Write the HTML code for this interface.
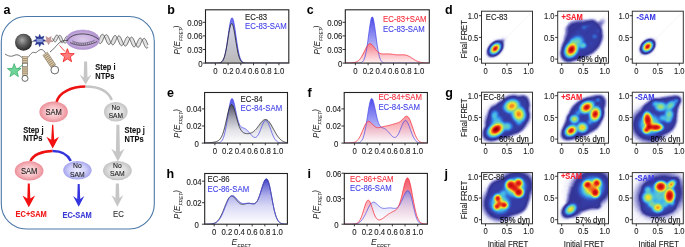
<!DOCTYPE html><html><head><meta charset="utf-8"><title>fig</title><style>html,body{margin:0;padding:0;background:#fff;overflow:hidden}svg{display:block;will-change:transform;font-family:"Liberation Sans",sans-serif}</style></head><body>
<svg width="685" height="247" viewBox="0 0 685 247">
<defs>
<filter id="jet" filterUnits="userSpaceOnUse" x="0" y="0" width="685" height="247" color-interpolation-filters="sRGB"><feGaussianBlur stdDeviation="0.9" result="b"/><feComponentTransfer in="b"><feFuncR type="table" tableValues="1.000 0.970 0.940 0.846 0.723 0.600 0.496 0.405 0.315 0.224 0.201 0.203 0.204 0.206 0.208 0.209 0.209 0.207 0.206 0.204 0.203 0.201 0.204 0.213 0.223 0.233 0.243 0.252 0.265 0.293 0.320 0.348 0.375 0.402 0.430 0.459 0.493 0.527 0.561 0.595 0.629 0.663 0.706 0.750 0.793 0.836 0.879 0.922 0.960 0.960 0.960 0.960 0.960 0.960 0.960 0.960 0.960 0.960 0.954 0.948 0.941 0.935 0.929 0.922 0.916 0.909 0.903 0.883 0.854 0.825 0.795 0.766 0.737 0.705 0.668 0.631 0.595 0.558 0.550 0.550 0.550 0.550 0.550 0.550 0.550 0.550 0.550 0.550 0.550 0.550 0.550 0.550 0.550 0.550 0.550 0.550 0.550 0.550 0.550 0.550"/><feFuncG type="table" tableValues="1.000 0.970 0.940 0.846 0.723 0.600 0.496 0.405 0.315 0.224 0.205 0.211 0.218 0.224 0.231 0.237 0.258 0.290 0.323 0.355 0.388 0.420 0.457 0.502 0.548 0.593 0.638 0.684 0.723 0.739 0.755 0.771 0.786 0.802 0.818 0.832 0.838 0.845 0.851 0.858 0.864 0.870 0.875 0.879 0.883 0.888 0.892 0.896 0.895 0.851 0.808 0.765 0.722 0.679 0.636 0.592 0.549 0.506 0.465 0.424 0.383 0.342 0.301 0.260 0.219 0.178 0.137 0.110 0.094 0.078 0.062 0.046 0.029 0.018 0.014 0.010 0.005 0.001 0.000 0.000 0.000 0.000 0.000 0.000 0.000 0.000 0.000 0.000 0.000 0.000 0.000 0.000 0.000 0.000 0.000 0.000 0.000 0.000 0.000 0.000"/><feFuncB type="table" tableValues="1.000 0.991 0.983 0.945 0.893 0.841 0.783 0.721 0.659 0.597 0.588 0.600 0.611 0.622 0.634 0.645 0.669 0.703 0.737 0.771 0.805 0.839 0.864 0.873 0.883 0.893 0.903 0.912 0.914 0.882 0.850 0.819 0.787 0.755 0.724 0.688 0.639 0.591 0.542 0.494 0.445 0.398 0.369 0.340 0.312 0.283 0.254 0.225 0.199 0.190 0.182 0.173 0.164 0.156 0.147 0.138 0.130 0.121 0.118 0.116 0.114 0.112 0.110 0.107 0.105 0.103 0.101 0.092 0.079 0.066 0.053 0.041 0.028 0.018 0.014 0.010 0.005 0.001 0.000 0.000 0.000 0.000 0.000 0.000 0.000 0.000 0.000 0.000 0.000 0.000 0.000 0.000 0.000 0.000 0.000 0.000 0.000 0.000 0.000 0.000"/></feComponentTransfer></filter>
<radialGradient id="gs"><stop offset="0.00" stop-color="#fff" stop-opacity="1.000"/><stop offset="0.16" stop-color="#fff" stop-opacity="0.950"/><stop offset="0.29" stop-color="#fff" stop-opacity="0.860"/><stop offset="0.36" stop-color="#fff" stop-opacity="0.770"/><stop offset="0.43" stop-color="#fff" stop-opacity="0.670"/><stop offset="0.50" stop-color="#fff" stop-opacity="0.580"/><stop offset="0.60" stop-color="#fff" stop-opacity="0.490"/><stop offset="0.69" stop-color="#fff" stop-opacity="0.410"/><stop offset="0.80" stop-color="#fff" stop-opacity="0.290"/><stop offset="0.87" stop-color="#fff" stop-opacity="0.180"/><stop offset="0.93" stop-color="#fff" stop-opacity="0.090"/><stop offset="1.00" stop-color="#fff" stop-opacity="0.000"/></radialGradient>
</defs>
<text x="3.60" y="13.80" font-size="12.50" fill="#000" text-anchor="start" font-weight="bold" >a</text>
<text x="167.20" y="13.80" font-size="12.50" fill="#000" text-anchor="start" font-weight="bold" >b</text>
<text x="306.80" y="13.80" font-size="12.50" fill="#000" text-anchor="start" font-weight="bold" >c</text>
<text x="445.00" y="13.50" font-size="12.50" fill="#000" text-anchor="start" font-weight="bold" >d</text>
<text x="167.00" y="97.00" font-size="12.50" fill="#000" text-anchor="start" font-weight="bold" >e</text>
<text x="307.40" y="96.80" font-size="12.50" fill="#000" text-anchor="start" font-weight="bold" >f</text>
<text x="445.30" y="96.80" font-size="12.50" fill="#000" text-anchor="start" font-weight="bold" >g</text>
<text x="166.60" y="177.60" font-size="12.50" fill="#000" text-anchor="start" font-weight="bold" >h</text>
<text x="307.40" y="177.70" font-size="12.50" fill="#000" text-anchor="start" font-weight="bold" >i</text>
<text x="444.50" y="177.50" font-size="12.50" fill="#000" text-anchor="start" font-weight="bold" >j</text>
<rect x="1.3" y="16.5" width="153" height="212.5" rx="25" ry="25" fill="none" stroke="#4c78a8" stroke-width="1.1"/>
<defs><radialGradient id="sph" cx="0.42" cy="0.38" r="0.62"><stop offset="0" stop-color="#a8a8a8"/><stop offset="0.55" stop-color="#5a5a5a"/><stop offset="1" stop-color="#2a2a2a"/></radialGradient><radialGradient id="pinkE" cx="0.5" cy="0.5" r="0.5"><stop offset="0" stop-color="#fce6e8"/><stop offset="0.6" stop-color="#f6bcc2"/><stop offset="1" stop-color="#ec8f99"/></radialGradient><radialGradient id="grayE" cx="0.5" cy="0.5" r="0.5"><stop offset="0" stop-color="#f0f0f0"/><stop offset="0.6" stop-color="#dedede"/><stop offset="1" stop-color="#c2c2c2"/></radialGradient><radialGradient id="blueE" cx="0.5" cy="0.5" r="0.5"><stop offset="0" stop-color="#ececff"/><stop offset="0.6" stop-color="#cfcff9"/><stop offset="1" stop-color="#a4a4ee"/></radialGradient><radialGradient id="rnap" cx="0.5" cy="0.5" r="0.5"><stop offset="0" stop-color="#dccbea"/><stop offset="0.7" stop-color="#c7addf"/><stop offset="1" stop-color="#ad8dcf"/></radialGradient></defs>
<path d="M97.00,38.50 L97.43,39.56 L97.86,40.57 L98.29,41.50 L98.71,42.29 L99.14,42.92 L99.57,43.35 L100.00,43.58 L100.43,43.59 L100.86,43.38 L101.29,42.97 L101.71,42.37 L102.14,41.62 L102.57,40.75 L103.00,39.80 L103.43,38.82 L103.86,37.86 L104.29,36.95 L104.71,36.14 L105.14,35.48 L105.57,34.99 L106.00,34.70 L106.43,34.62 L106.86,34.76 L107.29,35.12 L107.71,35.67 L108.14,36.40 L108.57,37.28 L109.00,38.26 L109.43,39.31 L109.86,40.37 L110.29,41.41 L110.71,42.38 L111.14,43.23 L111.57,43.92 L112.00,44.44 L112.43,44.75 L112.86,44.85 L113.29,44.73 L113.71,44.39 L114.14,43.87 L114.57,43.18 L115.00,42.35 L115.43,41.42 L115.86,40.45 L116.29,39.47 L116.71,38.54 L117.14,37.69 L117.57,36.96 L118.00,36.40 L118.43,36.03 L118.86,35.87 L119.29,35.92 L119.71,36.19 L120.14,36.66 L120.57,37.33 L121.00,38.15 L121.43,39.09 L121.86,40.12 L122.29,41.18 L122.71,42.24 L123.14,43.24 L123.57,44.14 L124.00,44.90 L124.43,45.49 L124.86,45.89 L125.29,46.07 L125.71,46.04 L126.14,45.79 L126.57,45.34 L127.00,44.71 L127.43,43.93 L127.86,43.04 L128.29,42.08 L128.71,41.10 L129.14,40.14 L129.57,39.25 L130.00,38.47 L130.43,37.84 L130.86,37.39 L131.29,37.14 L131.71,37.11 L132.14,37.29 L132.57,37.69 L133.00,38.28 L133.43,39.04 L133.86,39.94 L134.29,40.94 L134.71,41.99 L135.14,43.06 L135.57,44.08 L136.00,45.03 L136.43,45.85 L136.86,46.51 L137.29,46.99 L137.71,47.26 L138.14,47.31 L138.57,47.15 L139.00,46.77 L139.43,46.21 L139.86,45.49 L140.29,44.64 L140.71,43.70 L141.14,42.73 L141.57,41.75 L142.00,40.83 L142.43,40.00 L142.86,39.31 L143.29,38.78 L143.71,38.45 L144.14,38.33 L144.57,38.43 L145.00,38.74 L145.43,39.25 L145.86,39.95 L146.29,40.80 L146.71,41.76 L147.14,42.80 L147.57,43.87 L148.00,44.91 L148.00,47.24 L147.57,47.75 L147.14,48.07 L146.71,48.17 L146.29,48.06 L145.86,47.73 L145.43,47.19 L145.00,46.48 L144.57,45.62 L144.14,44.65 L143.71,43.61 L143.29,42.54 L142.86,41.50 L142.43,40.52 L142.00,39.66 L141.57,38.94 L141.14,38.40 L140.71,38.07 L140.29,37.95 L139.86,38.04 L139.43,38.35 L139.00,38.86 L138.57,39.53 L138.14,40.35 L137.71,41.26 L137.29,42.23 L136.86,43.21 L136.43,44.15 L136.00,45.02 L135.57,45.76 L135.14,46.34 L134.71,46.73 L134.29,46.92 L133.86,46.89 L133.43,46.65 L133.00,46.19 L132.57,45.55 L132.14,44.75 L131.71,43.81 L131.29,42.79 L130.86,41.73 L130.43,40.67 L130.00,39.67 L129.57,38.75 L129.14,37.97 L128.71,37.36 L128.29,36.94 L127.86,36.73 L127.43,36.74 L127.00,36.97 L126.57,37.40 L126.14,38.01 L125.71,38.77 L125.29,39.65 L124.86,40.60 L124.43,41.58 L124.00,42.55 L123.57,43.45 L123.14,44.24 L122.71,44.89 L122.29,45.36 L121.86,45.64 L121.43,45.69 L121.00,45.54 L120.57,45.16 L120.14,44.59 L119.71,43.85 L119.29,42.96 L118.86,41.97 L118.43,40.92 L118.00,39.86 L117.57,38.82 L117.14,37.87 L116.71,37.03 L116.29,36.35 L115.86,35.85 L115.43,35.55 L115.00,35.48 L114.57,35.62 L114.14,35.97 L113.71,36.51 L113.29,37.21 L112.86,38.05 L112.43,38.98 L112.00,39.96 L111.57,40.93 L111.14,41.86 L110.71,42.70 L110.29,43.41 L109.86,43.96 L109.43,44.32 L109.00,44.46 L108.57,44.39 L108.14,44.10 L107.71,43.61 L107.29,42.93 L106.86,42.10 L106.43,41.14 L106.00,40.11 L105.57,39.05 L105.14,38.00 L104.71,37.00 L104.29,36.11 L103.86,35.37 L103.43,34.79 L103.00,34.41 L102.57,34.25 L102.14,34.30 L101.71,34.57 L101.29,35.03 L100.86,35.68 L100.43,36.47 L100.00,37.37 L99.57,38.33 L99.14,39.31 L98.71,40.26 L98.29,41.15 L97.86,41.91 L97.43,42.53 L97.00,42.96 Z" fill="#e2e2e2" stroke="none"/>
<path d="M97.00,38.50 L97.43,39.56 L97.86,40.57 L98.29,41.50 L98.71,42.29 L99.14,42.92 L99.57,43.35 L100.00,43.58 L100.43,43.59 L100.86,43.38 L101.29,42.97 L101.71,42.37 L102.14,41.62 L102.57,40.75 L103.00,39.80 L103.43,38.82 L103.86,37.86 L104.29,36.95 L104.71,36.14 L105.14,35.48 L105.57,34.99 L106.00,34.70 L106.43,34.62 L106.86,34.76 L107.29,35.12 L107.71,35.67 L108.14,36.40 L108.57,37.28 L109.00,38.26 L109.43,39.31 L109.86,40.37 L110.29,41.41 L110.71,42.38 L111.14,43.23 L111.57,43.92 L112.00,44.44 L112.43,44.75 L112.86,44.85 L113.29,44.73 L113.71,44.39 L114.14,43.87 L114.57,43.18 L115.00,42.35 L115.43,41.42 L115.86,40.45 L116.29,39.47 L116.71,38.54 L117.14,37.69 L117.57,36.96 L118.00,36.40 L118.43,36.03 L118.86,35.87 L119.29,35.92 L119.71,36.19 L120.14,36.66 L120.57,37.33 L121.00,38.15 L121.43,39.09 L121.86,40.12 L122.29,41.18 L122.71,42.24 L123.14,43.24 L123.57,44.14 L124.00,44.90 L124.43,45.49 L124.86,45.89 L125.29,46.07 L125.71,46.04 L126.14,45.79 L126.57,45.34 L127.00,44.71 L127.43,43.93 L127.86,43.04 L128.29,42.08 L128.71,41.10 L129.14,40.14 L129.57,39.25 L130.00,38.47 L130.43,37.84 L130.86,37.39 L131.29,37.14 L131.71,37.11 L132.14,37.29 L132.57,37.69 L133.00,38.28 L133.43,39.04 L133.86,39.94 L134.29,40.94 L134.71,41.99 L135.14,43.06 L135.57,44.08 L136.00,45.03 L136.43,45.85 L136.86,46.51 L137.29,46.99 L137.71,47.26 L138.14,47.31 L138.57,47.15 L139.00,46.77 L139.43,46.21 L139.86,45.49 L140.29,44.64 L140.71,43.70 L141.14,42.73 L141.57,41.75 L142.00,40.83 L142.43,40.00 L142.86,39.31 L143.29,38.78 L143.71,38.45 L144.14,38.33 L144.57,38.43 L145.00,38.74 L145.43,39.25 L145.86,39.95 L146.29,40.80 L146.71,41.76 L147.14,42.80 L147.57,43.87 L148.00,44.91" fill="none" stroke="#555" stroke-width="0.85"/>
<path d="M97.00,42.96 L97.43,42.53 L97.86,41.91 L98.29,41.15 L98.71,40.26 L99.14,39.31 L99.57,38.33 L100.00,37.37 L100.43,36.47 L100.86,35.68 L101.29,35.03 L101.71,34.57 L102.14,34.30 L102.57,34.25 L103.00,34.41 L103.43,34.79 L103.86,35.37 L104.29,36.11 L104.71,37.00 L105.14,38.00 L105.57,39.05 L106.00,40.11 L106.43,41.14 L106.86,42.10 L107.29,42.93 L107.71,43.61 L108.14,44.10 L108.57,44.39 L109.00,44.46 L109.43,44.32 L109.86,43.96 L110.29,43.41 L110.71,42.70 L111.14,41.86 L111.57,40.93 L112.00,39.96 L112.43,38.98 L112.86,38.05 L113.29,37.21 L113.71,36.51 L114.14,35.97 L114.57,35.62 L115.00,35.48 L115.43,35.55 L115.86,35.85 L116.29,36.35 L116.71,37.03 L117.14,37.87 L117.57,38.82 L118.00,39.86 L118.43,40.92 L118.86,41.97 L119.29,42.96 L119.71,43.85 L120.14,44.59 L120.57,45.16 L121.00,45.54 L121.43,45.69 L121.86,45.64 L122.29,45.36 L122.71,44.89 L123.14,44.24 L123.57,43.45 L124.00,42.55 L124.43,41.58 L124.86,40.60 L125.29,39.65 L125.71,38.77 L126.14,38.01 L126.57,37.40 L127.00,36.97 L127.43,36.74 L127.86,36.73 L128.29,36.94 L128.71,37.36 L129.14,37.97 L129.57,38.75 L130.00,39.67 L130.43,40.67 L130.86,41.73 L131.29,42.79 L131.71,43.81 L132.14,44.75 L132.57,45.55 L133.00,46.19 L133.43,46.65 L133.86,46.89 L134.29,46.92 L134.71,46.73 L135.14,46.34 L135.57,45.76 L136.00,45.02 L136.43,44.15 L136.86,43.21 L137.29,42.23 L137.71,41.26 L138.14,40.35 L138.57,39.53 L139.00,38.86 L139.43,38.35 L139.86,38.04 L140.29,37.95 L140.71,38.07 L141.14,38.40 L141.57,38.94 L142.00,39.66 L142.43,40.52 L142.86,41.50 L143.29,42.54 L143.71,43.61 L144.14,44.65 L144.57,45.62 L145.00,46.48 L145.43,47.19 L145.86,47.73 L146.29,48.06 L146.71,48.17 L147.14,48.07 L147.57,47.75 L148.00,47.24" fill="none" stroke="#555" stroke-width="0.85"/>
<path d="M52.50,38.00 L52.63,38.31 L52.76,38.62 L52.89,38.93 L53.02,39.22 L53.15,39.52 L53.28,39.80 L53.41,40.07 L53.54,40.33 L53.67,40.57 L53.80,40.80 L53.93,41.01 L54.06,41.20 L54.19,41.37 L54.32,41.51 L54.45,41.64 L54.58,41.75 L54.71,41.83 L54.84,41.89 L54.97,41.92 L55.11,41.93 L55.24,41.91 L55.37,41.88 L55.50,41.81 L55.63,41.73 L55.76,41.62 L55.89,41.49 L56.02,41.34 L56.15,41.18 L56.28,40.99 L56.41,40.79 L56.54,40.57 L56.67,40.34 L56.80,40.09 L56.93,39.84 L57.06,39.57 L57.19,39.30 L57.32,39.03 L57.45,38.75 L57.58,38.47 L57.71,38.20 L57.84,37.93 L57.97,37.66 L58.10,37.40 L58.23,37.14 L58.36,36.90 L58.49,36.67 L58.62,36.46 L58.75,36.26 L58.88,36.08 L59.01,35.91 L59.14,35.77 L59.27,35.64 L59.40,35.54 L59.53,35.46 L59.66,35.40 L59.79,35.37 L59.92,35.36 L60.05,35.38 L60.18,35.42 L60.32,35.48 L60.45,35.57 L60.58,35.67 L60.71,35.81 L60.84,35.96 L60.97,36.14 L61.10,36.33 L61.23,36.54 L61.36,36.77 L61.49,37.02 L61.62,37.28 L61.75,37.55 L61.88,37.84 L62.01,38.13 L62.14,38.43 L62.27,38.74 L62.40,39.05 L62.53,39.36 L62.66,39.67 L62.79,39.98 L62.92,40.28 L63.05,40.58 L63.18,40.87 L63.31,41.15 L63.44,41.42 L63.57,41.67 L63.70,41.91 L63.83,42.14 L63.96,42.34 L64.09,42.53 L64.22,42.69 L64.35,42.84 L64.48,42.96 L64.61,43.06 L64.74,43.13 L64.87,43.19 L65.00,43.21 L65.13,43.22 L65.26,43.20 L65.39,43.15 L65.53,43.09 L65.66,43.00 L65.79,42.88 L65.92,42.75 L66.05,42.60 L66.18,42.43 L66.31,42.23 L66.44,42.03 L66.57,41.81 L66.70,41.57 L66.83,41.32 L66.96,41.07 L67.09,40.80 L67.22,40.53 L67.35,40.26 L67.48,39.98 L67.61,39.70 L67.74,39.43 L67.87,39.15 L68.00,38.89 L68.00,37.09 L67.87,36.91 L67.74,36.75 L67.61,36.61 L67.48,36.49 L67.35,36.40 L67.22,36.33 L67.09,36.29 L66.96,36.27 L66.83,36.27 L66.70,36.30 L66.57,36.35 L66.44,36.42 L66.31,36.52 L66.18,36.64 L66.05,36.78 L65.92,36.93 L65.79,37.11 L65.66,37.31 L65.53,37.52 L65.39,37.74 L65.26,37.98 L65.13,38.23 L65.00,38.49 L64.87,38.76 L64.74,39.03 L64.61,39.31 L64.48,39.58 L64.35,39.86 L64.22,40.14 L64.09,40.41 L63.96,40.67 L63.83,40.93 L63.70,41.18 L63.57,41.41 L63.44,41.63 L63.31,41.84 L63.18,42.03 L63.05,42.21 L62.92,42.36 L62.79,42.49 L62.66,42.61 L62.53,42.70 L62.40,42.76 L62.27,42.81 L62.14,42.83 L62.01,42.83 L61.88,42.80 L61.75,42.75 L61.62,42.67 L61.49,42.57 L61.36,42.45 L61.23,42.31 L61.10,42.14 L60.97,41.96 L60.84,41.76 L60.71,41.53 L60.58,41.29 L60.45,41.04 L60.32,40.77 L60.18,40.49 L60.05,40.20 L59.92,39.91 L59.79,39.60 L59.66,39.29 L59.53,38.98 L59.40,38.67 L59.27,38.36 L59.14,38.06 L59.01,37.76 L58.88,37.46 L58.75,37.18 L58.62,36.90 L58.49,36.64 L58.36,36.39 L58.23,36.16 L58.10,35.95 L57.97,35.75 L57.84,35.58 L57.71,35.42 L57.58,35.29 L57.45,35.18 L57.32,35.09 L57.19,35.03 L57.06,34.99 L56.93,34.98 L56.80,34.98 L56.67,35.02 L56.54,35.07 L56.41,35.15 L56.28,35.25 L56.15,35.38 L56.02,35.52 L55.89,35.68 L55.76,35.86 L55.63,36.06 L55.50,36.28 L55.37,36.51 L55.24,36.75 L55.11,37.00 L54.97,37.26 L54.84,37.53 L54.71,37.80 L54.58,38.08 L54.45,38.36 L54.32,38.63 L54.19,38.91 L54.06,39.18 L53.93,39.44 L53.80,39.70 L53.67,39.94 L53.54,40.17 L53.41,40.39 L53.28,40.60 L53.15,40.78 L53.02,40.95 L52.89,41.10 L52.76,41.23 L52.63,41.34 L52.50,41.42 Z" fill="#e2e2e2" stroke="none"/>
<path d="M52.50,38.00 L52.63,38.31 L52.76,38.62 L52.89,38.93 L53.02,39.22 L53.15,39.52 L53.28,39.80 L53.41,40.07 L53.54,40.33 L53.67,40.57 L53.80,40.80 L53.93,41.01 L54.06,41.20 L54.19,41.37 L54.32,41.51 L54.45,41.64 L54.58,41.75 L54.71,41.83 L54.84,41.89 L54.97,41.92 L55.11,41.93 L55.24,41.91 L55.37,41.88 L55.50,41.81 L55.63,41.73 L55.76,41.62 L55.89,41.49 L56.02,41.34 L56.15,41.18 L56.28,40.99 L56.41,40.79 L56.54,40.57 L56.67,40.34 L56.80,40.09 L56.93,39.84 L57.06,39.57 L57.19,39.30 L57.32,39.03 L57.45,38.75 L57.58,38.47 L57.71,38.20 L57.84,37.93 L57.97,37.66 L58.10,37.40 L58.23,37.14 L58.36,36.90 L58.49,36.67 L58.62,36.46 L58.75,36.26 L58.88,36.08 L59.01,35.91 L59.14,35.77 L59.27,35.64 L59.40,35.54 L59.53,35.46 L59.66,35.40 L59.79,35.37 L59.92,35.36 L60.05,35.38 L60.18,35.42 L60.32,35.48 L60.45,35.57 L60.58,35.67 L60.71,35.81 L60.84,35.96 L60.97,36.14 L61.10,36.33 L61.23,36.54 L61.36,36.77 L61.49,37.02 L61.62,37.28 L61.75,37.55 L61.88,37.84 L62.01,38.13 L62.14,38.43 L62.27,38.74 L62.40,39.05 L62.53,39.36 L62.66,39.67 L62.79,39.98 L62.92,40.28 L63.05,40.58 L63.18,40.87 L63.31,41.15 L63.44,41.42 L63.57,41.67 L63.70,41.91 L63.83,42.14 L63.96,42.34 L64.09,42.53 L64.22,42.69 L64.35,42.84 L64.48,42.96 L64.61,43.06 L64.74,43.13 L64.87,43.19 L65.00,43.21 L65.13,43.22 L65.26,43.20 L65.39,43.15 L65.53,43.09 L65.66,43.00 L65.79,42.88 L65.92,42.75 L66.05,42.60 L66.18,42.43 L66.31,42.23 L66.44,42.03 L66.57,41.81 L66.70,41.57 L66.83,41.32 L66.96,41.07 L67.09,40.80 L67.22,40.53 L67.35,40.26 L67.48,39.98 L67.61,39.70 L67.74,39.43 L67.87,39.15 L68.00,38.89" fill="none" stroke="#555" stroke-width="0.85"/>
<path d="M52.50,41.42 L52.63,41.34 L52.76,41.23 L52.89,41.10 L53.02,40.95 L53.15,40.78 L53.28,40.60 L53.41,40.39 L53.54,40.17 L53.67,39.94 L53.80,39.70 L53.93,39.44 L54.06,39.18 L54.19,38.91 L54.32,38.63 L54.45,38.36 L54.58,38.08 L54.71,37.80 L54.84,37.53 L54.97,37.26 L55.11,37.00 L55.24,36.75 L55.37,36.51 L55.50,36.28 L55.63,36.06 L55.76,35.86 L55.89,35.68 L56.02,35.52 L56.15,35.38 L56.28,35.25 L56.41,35.15 L56.54,35.07 L56.67,35.02 L56.80,34.98 L56.93,34.98 L57.06,34.99 L57.19,35.03 L57.32,35.09 L57.45,35.18 L57.58,35.29 L57.71,35.42 L57.84,35.58 L57.97,35.75 L58.10,35.95 L58.23,36.16 L58.36,36.39 L58.49,36.64 L58.62,36.90 L58.75,37.18 L58.88,37.46 L59.01,37.76 L59.14,38.06 L59.27,38.36 L59.40,38.67 L59.53,38.98 L59.66,39.29 L59.79,39.60 L59.92,39.91 L60.05,40.20 L60.18,40.49 L60.32,40.77 L60.45,41.04 L60.58,41.29 L60.71,41.53 L60.84,41.76 L60.97,41.96 L61.10,42.14 L61.23,42.31 L61.36,42.45 L61.49,42.57 L61.62,42.67 L61.75,42.75 L61.88,42.80 L62.01,42.83 L62.14,42.83 L62.27,42.81 L62.40,42.76 L62.53,42.70 L62.66,42.61 L62.79,42.49 L62.92,42.36 L63.05,42.21 L63.18,42.03 L63.31,41.84 L63.44,41.63 L63.57,41.41 L63.70,41.18 L63.83,40.93 L63.96,40.67 L64.09,40.41 L64.22,40.14 L64.35,39.86 L64.48,39.58 L64.61,39.31 L64.74,39.03 L64.87,38.76 L65.00,38.49 L65.13,38.23 L65.26,37.98 L65.39,37.74 L65.53,37.52 L65.66,37.31 L65.79,37.11 L65.92,36.93 L66.05,36.78 L66.18,36.64 L66.31,36.52 L66.44,36.42 L66.57,36.35 L66.70,36.30 L66.83,36.27 L66.96,36.27 L67.09,36.29 L67.22,36.33 L67.35,36.40 L67.48,36.49 L67.61,36.61 L67.74,36.75 L67.87,36.91 L68.00,37.09" fill="none" stroke="#555" stroke-width="0.85"/>
<ellipse cx="82.8" cy="39.7" rx="16.7" ry="9.8" fill="url(#rnap)" stroke="#b8a0d4" stroke-width="0.6"/>
<path d="M67,40.5 C71,35 78,33.5 85,34 C91,34.5 95,36.5 99,39.5" fill="none" stroke="#2a2a2a" stroke-width="0.75"/>
<path d="M70,42.5 C77,46.5 88,46.5 97,41.5" fill="none" stroke="#3a3a3a" stroke-width="0.7"/>
<path d="M72,40.8 C78,44 87,44 95,40" fill="none" stroke="#5a4a6a" stroke-width="0.5"/>
<path d="M72.21,43.58 L73.89,41.66 M73.95,44.21 L75.36,42.17 M75.79,44.71 L76.90,42.57 M77.70,45.07 L78.51,42.86 M79.68,45.30 L80.17,43.04 M81.72,45.38 L81.88,43.11 M83.79,45.33 L83.63,43.06 M85.89,45.13 L85.40,42.90 M87.99,44.79 L87.19,42.63 M90.10,44.29 L88.99,42.23 M92.19,43.65 L90.79,41.72 M94.25,42.85 L92.57,41.08" stroke="#333" stroke-width="0.5" fill="none"/>
<path d="M5,54 C8,56 11,57 14,55.5 C17,54 19,55 22,57.5" fill="none" stroke="#333" stroke-width="0.7"/>
<path d="M28,57.5 C30,55 32,51.5 34.5,52.5 C36.5,53.5 38,50 41,49.5 C43,49 44.5,52 46,53.5" fill="none" stroke="#333" stroke-width="0.7"/>
<path d="M50,52 C53,50 56,46 59,43 C61.5,40.5 64,40.5 68,40.5" fill="none" stroke="#333" stroke-width="0.7"/>
<rect x="22.3" y="56.5" width="5.4" height="19" fill="#d9c7a6" stroke="#7a7060" stroke-width="0.5"/>
<line x1="22.5" y1="58.50" x2="27.5" y2="58.50" stroke="#7d6c52" stroke-width="0.6"/>
<line x1="22.5" y1="60.60" x2="27.5" y2="60.60" stroke="#7d6c52" stroke-width="0.6"/>
<line x1="22.5" y1="62.70" x2="27.5" y2="62.70" stroke="#7d6c52" stroke-width="0.6"/>
<line x1="22.5" y1="64.80" x2="27.5" y2="64.80" stroke="#7d6c52" stroke-width="0.6"/>
<line x1="22.5" y1="66.90" x2="27.5" y2="66.90" stroke="#7d6c52" stroke-width="0.6"/>
<line x1="22.5" y1="69.00" x2="27.5" y2="69.00" stroke="#7d6c52" stroke-width="0.6"/>
<line x1="22.5" y1="71.10" x2="27.5" y2="71.10" stroke="#7d6c52" stroke-width="0.6"/>
<line x1="22.5" y1="73.20" x2="27.5" y2="73.20" stroke="#7d6c52" stroke-width="0.6"/>
<rect x="22.6" y="63.5" width="4.8" height="3.2" fill="#fff" stroke="#555" stroke-width="0.5"/>
<circle cx="25" cy="78.4" r="3" fill="#fff" stroke="#444" stroke-width="0.8"/>
<line x1="18" y1="68.5" x2="22.6" y2="65" stroke="#2ea860" stroke-width="0.8"/>
<path d="M14.20,63.60 L15.96,68.37 L21.05,68.58 L17.05,71.73 L18.43,76.62 L14.20,73.80 L9.97,76.62 L11.35,71.73 L7.35,68.58 L12.44,68.37 Z" fill="#6fd497" stroke="#2fa866" stroke-width="0.70" stroke-linejoin="round"/>
<g transform="translate(49.3,60) rotate(-34)"><rect x="-2.7" y="-7.5" width="5.4" height="15" fill="#d9c7a6" stroke="#7a7060" stroke-width="0.5"/><line x1="-2.5" y1="-5.80" x2="2.5" y2="-5.80" stroke="#7d6c52" stroke-width="0.6"/><line x1="-2.5" y1="-3.80" x2="2.5" y2="-3.80" stroke="#7d6c52" stroke-width="0.6"/><line x1="-2.5" y1="-1.80" x2="2.5" y2="-1.80" stroke="#7d6c52" stroke-width="0.6"/><line x1="-2.5" y1="0.20" x2="2.5" y2="0.20" stroke="#7d6c52" stroke-width="0.6"/><line x1="-2.5" y1="2.20" x2="2.5" y2="2.20" stroke="#7d6c52" stroke-width="0.6"/><line x1="-2.5" y1="4.20" x2="2.5" y2="4.20" stroke="#7d6c52" stroke-width="0.6"/><line x1="-2.5" y1="6.20" x2="2.5" y2="6.20" stroke="#7d6c52" stroke-width="0.6"/></g>
<circle cx="54.8" cy="70" r="3.9" fill="#fff" stroke="#444" stroke-width="0.8"/>
<line x1="59.5" y1="45.5" x2="65" y2="51.5" stroke="#ee2020" stroke-width="0.8"/>
<path d="M67.40,48.70 L69.16,53.47 L74.25,53.68 L70.25,56.83 L71.63,61.72 L67.40,58.90 L63.17,61.72 L64.55,56.83 L60.55,53.68 L65.64,53.47 Z" fill="#ff7c7c" stroke="#f01414" stroke-width="0.75" stroke-linejoin="round"/>
<line x1="31.5" y1="42" x2="35" y2="41" stroke="#555" stroke-width="0.7"/>
<circle cx="23.5" cy="42.2" r="8.5" fill="url(#sph)"/>
<path d="M39.70,34.30 L41.00,37.36 L44.08,36.12 L42.84,39.20 L45.90,40.50 L42.84,41.80 L44.08,44.88 L41.00,43.64 L39.70,46.70 L38.40,43.64 L35.32,44.88 L36.56,41.80 L33.50,40.50 L36.56,39.20 L35.32,36.12 L38.40,37.36 Z" fill="#2a3896" stroke="#23307e" stroke-width="0.40" stroke-linejoin="round"/>
<rect x="36.6" y="38.8" width="6.2" height="3.4" fill="#8c9ad6"/>
<path d="M51.30,36.48 L50.69,39.52 L52.97,41.62 L49.89,41.98 L48.60,44.80 L47.31,41.98 L44.23,41.62 L46.51,39.52 L45.90,36.48 L48.60,38.00 Z" fill="#c99a9a" stroke="#a77a7a" stroke-width="0.40" stroke-linejoin="round"/>
<path d="M84.10,61.50 L87.10,61.50 L87.50,77.50 L91.60,74.50 L85.60,84.60 L79.60,74.50 L83.70,77.50 Z" fill="#c6c6c6"/>
<text transform="translate(95.30,69.60) scale(1,1.120)" font-size="7.45" fill="#111" text-anchor="start" font-weight="bold" stroke="#111" stroke-width="0.10" >Step i</text>
<text transform="translate(95.30,79.30) scale(1,1.120)" font-size="7.45" fill="#111" text-anchor="start" font-weight="bold" stroke="#111" stroke-width="0.10" >NTPs</text>
<path d="M56.5,102 C59,92 72,86.6 85.5,86.6" fill="none" stroke="#ee1111" stroke-width="2.5"/>
<path d="M85.5,86.6 C99,86.6 108,91 111.8,100" fill="none" stroke="#c4c4c4" stroke-width="2.5"/>
<ellipse cx="53.6" cy="111.9" rx="14.2" ry="10.3" fill="url(#pinkE)"/>
<text transform="translate(53.60,114.90) scale(1,1.120)" font-size="7.60" fill="#222" text-anchor="middle" font-weight="normal" stroke="#222" stroke-width="0.10" >SAM</text>
<ellipse cx="115.8" cy="111.8" rx="11.8" ry="9.8" fill="url(#grayE)"/>
<text transform="translate(115.80,110.30) scale(1,1.120)" font-size="6.60" fill="#222" text-anchor="middle" font-weight="normal" stroke="#222" stroke-width="0.10" >No</text>
<text transform="translate(115.80,118.40) scale(1,1.120)" font-size="6.60" fill="#222" text-anchor="middle" font-weight="normal" stroke="#222" stroke-width="0.10" >SAM</text>
<path d="M52.10,124.80 L53.30,124.80 L54.20,139.80 L59.00,136.80 L52.70,148.60 L46.40,136.80 L51.20,139.80 Z" fill="#f21010"/>
<text transform="translate(23.30,132.50) scale(1,1.120)" font-size="7.45" fill="#111" text-anchor="start" font-weight="bold" stroke="#111" stroke-width="0.10" >Step j</text>
<text transform="translate(23.30,141.30) scale(1,1.120)" font-size="7.45" fill="#111" text-anchor="start" font-weight="bold" stroke="#111" stroke-width="0.10" >NTPs</text>
<path d="M116.40,124.80 L119.40,124.80 L119.90,151.80 L124.50,148.80 L117.90,161.60 L111.30,148.80 L115.90,151.80 Z" fill="#c6c6c6"/>
<text transform="translate(124.60,132.50) scale(1,1.120)" font-size="7.45" fill="#111" text-anchor="start" font-weight="bold" stroke="#111" stroke-width="0.10" >Step j</text>
<text transform="translate(124.60,141.90) scale(1,1.120)" font-size="7.45" fill="#111" text-anchor="start" font-weight="bold" stroke="#111" stroke-width="0.10" >NTPs</text>
<path d="M30.5,161 C33,155 42,151 52.6,151" fill="none" stroke="#ee1111" stroke-width="2.5"/>
<path d="M52.6,151 C62,151 68,155 70.8,161" fill="none" stroke="#3535dd" stroke-width="2.5"/>
<ellipse cx="29.1" cy="170.8" rx="14.4" ry="9.7" fill="url(#pinkE)"/>
<text transform="translate(29.10,173.60) scale(1,1.120)" font-size="7.60" fill="#222" text-anchor="middle" font-weight="normal" stroke="#222" stroke-width="0.10" >SAM</text>
<ellipse cx="77.4" cy="170.3" rx="14.2" ry="9.3" fill="url(#blueE)"/>
<text transform="translate(77.40,168.40) scale(1,1.120)" font-size="6.80" fill="#222" text-anchor="middle" font-weight="normal" stroke="#222" stroke-width="0.10" >No</text>
<text transform="translate(77.40,176.50) scale(1,1.120)" font-size="6.80" fill="#222" text-anchor="middle" font-weight="normal" stroke="#222" stroke-width="0.10" >SAM</text>
<ellipse cx="117.4" cy="170.6" rx="14.4" ry="9.7" fill="url(#grayE)"/>
<text transform="translate(117.40,168.10) scale(1,1.120)" font-size="6.80" fill="#222" text-anchor="middle" font-weight="normal" stroke="#222" stroke-width="0.10" >No</text>
<text transform="translate(117.40,176.20) scale(1,1.120)" font-size="6.80" fill="#222" text-anchor="middle" font-weight="normal" stroke="#222" stroke-width="0.10" >SAM</text>
<path d="M27.80,183.60 L29.80,183.60 L30.30,198.50 L35.10,195.50 L28.80,207.30 L22.50,195.50 L27.30,198.50 Z" fill="#f21010"/>
<path d="M77.70,184.00 L79.70,184.00 L80.20,199.00 L84.30,196.00 L78.70,206.80 L73.10,196.00 L77.20,199.00 Z" fill="#3535e0"/>
<path d="M115.90,183.60 L118.90,183.60 L119.40,198.00 L123.40,195.00 L117.40,206.80 L111.40,195.00 L115.40,198.00 Z" fill="#c6c6c6"/>
<text transform="translate(15.60,216.90) scale(1,1.120)" font-size="7.45" fill="#f01818" text-anchor="start" font-weight="bold" stroke="#f01818" stroke-width="0.10" >EC+SAM</text>
<text transform="translate(62.50,217.80) scale(1,1.120)" font-size="7.45" fill="#3a3ad8" text-anchor="start" font-weight="bold" stroke="#3a3ad8" stroke-width="0.10" >EC-SAM</text>
<text transform="translate(113.00,216.90) scale(1,1.120)" font-size="7.80" fill="#333" text-anchor="start" font-weight="normal" stroke="#333" stroke-width="0.10" >EC</text>
<linearGradient id="hg1" gradientUnits="userSpaceOnUse" x1="0" y1="18.00" x2="0" y2="63.00"><stop offset="0" stop-color="#d9d9f3" stop-opacity="1.00"/><stop offset="1" stop-color="#b9b9b9" stop-opacity="1.00"/></linearGradient>
<clipPath id="hc1001"><rect x="205.50" y="9.80" width="83.30" height="53.30"/></clipPath>
<g clip-path="url(#hc1001)">
<path d="M204.61,63.10 L205.13,63.10 L205.66,63.10 L206.19,63.10 L206.71,63.10 L207.24,63.10 L207.77,63.10 L208.30,63.10 L208.82,63.10 L209.35,63.10 L209.88,63.10 L210.40,63.10 L210.93,63.10 L211.46,63.10 L211.99,63.10 L212.51,63.10 L213.04,63.10 L213.57,63.10 L214.09,63.10 L214.62,63.10 L215.15,63.10 L215.68,63.09 L216.20,63.09 L216.73,63.08 L217.26,63.07 L217.78,63.05 L218.31,63.01 L218.84,62.96 L219.37,62.88 L219.89,62.77 L220.42,62.60 L220.95,62.35 L221.47,62.00 L222.00,61.52 L222.53,60.87 L223.06,60.02 L223.58,58.91 L224.11,57.51 L224.64,55.79 L225.16,53.71 L225.69,51.25 L226.22,48.43 L226.75,45.27 L227.27,41.82 L227.80,38.18 L228.33,34.44 L228.85,30.75 L229.38,27.26 L229.91,24.12 L230.44,21.48 L230.96,19.48 L231.49,18.22 L232.02,17.77 L232.54,18.16 L233.07,19.36 L233.60,21.31 L234.13,23.91 L234.65,27.02 L235.18,30.49 L235.71,34.17 L236.24,37.91 L236.76,41.56 L237.29,45.02 L237.82,48.21 L238.34,51.06 L238.87,53.54 L239.40,55.65 L239.93,57.40 L240.45,58.82 L240.98,59.95 L241.51,60.82 L242.03,61.48 L242.56,61.97 L243.09,62.33 L243.62,62.58 L244.14,62.76 L244.67,62.88 L245.20,62.96 L245.72,63.01 L246.25,63.05 L246.78,63.07 L247.31,63.08 L247.83,63.09 L248.36,63.09 L248.89,63.10 L249.41,63.10 L249.94,63.10 L250.47,63.10 L251.00,63.10 L251.52,63.10 L252.05,63.10 L252.58,63.10 L253.10,63.10 L253.63,63.10 L254.16,63.10 L254.69,63.10 L255.21,63.10 L255.74,63.10 L256.27,63.10 L256.79,63.10 L257.32,63.10 L257.85,63.10 L258.38,63.10 L258.90,63.10 L259.43,63.10 L259.96,63.10 L260.49,63.10 L261.01,63.10 L261.54,63.10 L262.07,63.10 L262.59,63.10 L263.12,63.10 L263.65,63.10 L264.18,63.10 L264.70,63.10 L265.23,63.10 L265.76,63.10 L266.28,63.10 L266.81,63.10 L267.34,63.10 L267.87,63.10 L268.39,63.10 L268.92,63.10 L269.45,63.10 L269.97,63.10 L270.50,63.10 L271.03,63.10 L271.56,63.10 L272.08,63.10 L272.61,63.10 L273.14,63.10 L273.66,63.10 L274.19,63.10 L274.72,63.10 L275.25,63.10 L275.77,63.10 L276.30,63.10 L276.83,63.10 L277.35,63.10 L277.88,63.10 L278.41,63.10 L278.94,63.10 L279.46,63.10 L279.99,63.10 L280.52,63.10 L281.04,63.10 L281.57,63.10 L282.10,63.10 L282.63,63.10 L283.15,63.10 L283.68,63.10 L284.21,63.10 L284.73,63.10 L285.26,63.10 L285.79,63.10 L286.32,63.10 L286.84,63.10 L287.37,63.10 L287.90,63.10 L288.43,63.10 L288.43,63.10 L204.61,63.10 Z" fill="#7272ea" stroke="none"/>
<path d="M204.61,63.10 L205.13,63.10 L205.66,63.10 L206.19,63.10 L206.71,63.10 L207.24,63.10 L207.77,63.10 L208.30,63.10 L208.82,63.10 L209.35,63.10 L209.88,63.10 L210.40,63.10 L210.93,63.10 L211.46,63.10 L211.99,63.10 L212.51,63.10 L213.04,63.10 L213.57,63.10 L214.09,63.10 L214.62,63.10 L215.15,63.10 L215.68,63.09 L216.20,63.09 L216.73,63.08 L217.26,63.07 L217.78,63.05 L218.31,63.02 L218.84,62.97 L219.37,62.89 L219.89,62.78 L220.42,62.61 L220.95,62.38 L221.47,62.04 L222.00,61.58 L222.53,60.95 L223.06,60.13 L223.58,59.07 L224.11,57.73 L224.64,56.09 L225.16,54.12 L225.69,51.82 L226.22,49.19 L226.75,46.28 L227.27,43.14 L227.80,39.86 L228.33,36.57 L228.85,33.37 L229.38,30.43 L229.91,27.87 L230.44,25.84 L230.96,24.43 L231.49,23.73 L232.02,23.78 L232.54,24.58 L233.07,26.07 L233.60,28.18 L234.13,30.80 L234.65,33.78 L235.18,37.00 L235.71,40.30 L236.24,43.56 L236.76,46.68 L237.29,49.55 L237.82,52.14 L238.34,54.40 L238.87,56.33 L239.40,57.93 L239.93,59.22 L240.45,60.25 L240.98,61.04 L241.51,61.64 L242.03,62.09 L242.56,62.41 L243.09,62.64 L243.62,62.80 L244.14,62.91 L244.67,62.98 L245.20,63.02 L245.72,63.05 L246.25,63.07 L246.78,63.08 L247.31,63.09 L247.83,63.09 L248.36,63.10 L248.89,63.10 L249.41,63.10 L249.94,63.10 L250.47,63.10 L251.00,63.10 L251.52,63.10 L252.05,63.10 L252.58,63.10 L253.10,63.10 L253.63,63.10 L254.16,63.10 L254.69,63.10 L255.21,63.10 L255.74,63.10 L256.27,63.10 L256.79,63.10 L257.32,63.10 L257.85,63.10 L258.38,63.10 L258.90,63.10 L259.43,63.10 L259.96,63.10 L260.49,63.10 L261.01,63.10 L261.54,63.10 L262.07,63.10 L262.59,63.10 L263.12,63.10 L263.65,63.10 L264.18,63.10 L264.70,63.10 L265.23,63.10 L265.76,63.10 L266.28,63.10 L266.81,63.10 L267.34,63.10 L267.87,63.10 L268.39,63.10 L268.92,63.10 L269.45,63.10 L269.97,63.10 L270.50,63.10 L271.03,63.10 L271.56,63.10 L272.08,63.10 L272.61,63.10 L273.14,63.10 L273.66,63.10 L274.19,63.10 L274.72,63.10 L275.25,63.10 L275.77,63.10 L276.30,63.10 L276.83,63.10 L277.35,63.10 L277.88,63.10 L278.41,63.10 L278.94,63.10 L279.46,63.10 L279.99,63.10 L280.52,63.10 L281.04,63.10 L281.57,63.10 L282.10,63.10 L282.63,63.10 L283.15,63.10 L283.68,63.10 L284.21,63.10 L284.73,63.10 L285.26,63.10 L285.79,63.10 L286.32,63.10 L286.84,63.10 L287.37,63.10 L287.90,63.10 L288.43,63.10 L288.43,63.10 L204.61,63.10 Z" fill="url(#hg1)" stroke="none"/>
<path d="M204.61,63.10 L205.13,63.10 L205.66,63.10 L206.19,63.10 L206.71,63.10 L207.24,63.10 L207.77,63.10 L208.30,63.10 L208.82,63.10 L209.35,63.10 L209.88,63.10 L210.40,63.10 L210.93,63.10 L211.46,63.10 L211.99,63.10 L212.51,63.10 L213.04,63.10 L213.57,63.10 L214.09,63.10 L214.62,63.10 L215.15,63.10 L215.68,63.09 L216.20,63.09 L216.73,63.08 L217.26,63.07 L217.78,63.05 L218.31,63.01 L218.84,62.96 L219.37,62.88 L219.89,62.77 L220.42,62.60 L220.95,62.35 L221.47,62.00 L222.00,61.52 L222.53,60.87 L223.06,60.02 L223.58,58.91 L224.11,57.51 L224.64,55.79 L225.16,53.71 L225.69,51.25 L226.22,48.43 L226.75,45.27 L227.27,41.82 L227.80,38.18 L228.33,34.44 L228.85,30.75 L229.38,27.26 L229.91,24.12 L230.44,21.48 L230.96,19.48 L231.49,18.22 L232.02,17.77 L232.54,18.16 L233.07,19.36 L233.60,21.31 L234.13,23.91 L234.65,27.02 L235.18,30.49 L235.71,34.17 L236.24,37.91 L236.76,41.56 L237.29,45.02 L237.82,48.21 L238.34,51.06 L238.87,53.54 L239.40,55.65 L239.93,57.40 L240.45,58.82 L240.98,59.95 L241.51,60.82 L242.03,61.48 L242.56,61.97 L243.09,62.33 L243.62,62.58 L244.14,62.76 L244.67,62.88 L245.20,62.96 L245.72,63.01 L246.25,63.05 L246.78,63.07 L247.31,63.08 L247.83,63.09 L248.36,63.09 L248.89,63.10 L249.41,63.10 L249.94,63.10 L250.47,63.10 L251.00,63.10 L251.52,63.10 L252.05,63.10 L252.58,63.10 L253.10,63.10 L253.63,63.10 L254.16,63.10 L254.69,63.10 L255.21,63.10 L255.74,63.10 L256.27,63.10 L256.79,63.10 L257.32,63.10 L257.85,63.10 L258.38,63.10 L258.90,63.10 L259.43,63.10 L259.96,63.10 L260.49,63.10 L261.01,63.10 L261.54,63.10 L262.07,63.10 L262.59,63.10 L263.12,63.10 L263.65,63.10 L264.18,63.10 L264.70,63.10 L265.23,63.10 L265.76,63.10 L266.28,63.10 L266.81,63.10 L267.34,63.10 L267.87,63.10 L268.39,63.10 L268.92,63.10 L269.45,63.10 L269.97,63.10 L270.50,63.10 L271.03,63.10 L271.56,63.10 L272.08,63.10 L272.61,63.10 L273.14,63.10 L273.66,63.10 L274.19,63.10 L274.72,63.10 L275.25,63.10 L275.77,63.10 L276.30,63.10 L276.83,63.10 L277.35,63.10 L277.88,63.10 L278.41,63.10 L278.94,63.10 L279.46,63.10 L279.99,63.10 L280.52,63.10 L281.04,63.10 L281.57,63.10 L282.10,63.10 L282.63,63.10 L283.15,63.10 L283.68,63.10 L284.21,63.10 L284.73,63.10 L285.26,63.10 L285.79,63.10 L286.32,63.10 L286.84,63.10 L287.37,63.10 L287.90,63.10 L288.43,63.10" fill="none" stroke="#4545ea" stroke-width="0.80"/>
<path d="M204.61,63.10 L205.13,63.10 L205.66,63.10 L206.19,63.10 L206.71,63.10 L207.24,63.10 L207.77,63.10 L208.30,63.10 L208.82,63.10 L209.35,63.10 L209.88,63.10 L210.40,63.10 L210.93,63.10 L211.46,63.10 L211.99,63.10 L212.51,63.10 L213.04,63.10 L213.57,63.10 L214.09,63.10 L214.62,63.10 L215.15,63.10 L215.68,63.09 L216.20,63.09 L216.73,63.08 L217.26,63.07 L217.78,63.05 L218.31,63.02 L218.84,62.97 L219.37,62.89 L219.89,62.78 L220.42,62.61 L220.95,62.38 L221.47,62.04 L222.00,61.58 L222.53,60.95 L223.06,60.13 L223.58,59.07 L224.11,57.73 L224.64,56.09 L225.16,54.12 L225.69,51.82 L226.22,49.19 L226.75,46.28 L227.27,43.14 L227.80,39.86 L228.33,36.57 L228.85,33.37 L229.38,30.43 L229.91,27.87 L230.44,25.84 L230.96,24.43 L231.49,23.73 L232.02,23.78 L232.54,24.58 L233.07,26.07 L233.60,28.18 L234.13,30.80 L234.65,33.78 L235.18,37.00 L235.71,40.30 L236.24,43.56 L236.76,46.68 L237.29,49.55 L237.82,52.14 L238.34,54.40 L238.87,56.33 L239.40,57.93 L239.93,59.22 L240.45,60.25 L240.98,61.04 L241.51,61.64 L242.03,62.09 L242.56,62.41 L243.09,62.64 L243.62,62.80 L244.14,62.91 L244.67,62.98 L245.20,63.02 L245.72,63.05 L246.25,63.07 L246.78,63.08 L247.31,63.09 L247.83,63.09 L248.36,63.10 L248.89,63.10 L249.41,63.10 L249.94,63.10 L250.47,63.10 L251.00,63.10 L251.52,63.10 L252.05,63.10 L252.58,63.10 L253.10,63.10 L253.63,63.10 L254.16,63.10 L254.69,63.10 L255.21,63.10 L255.74,63.10 L256.27,63.10 L256.79,63.10 L257.32,63.10 L257.85,63.10 L258.38,63.10 L258.90,63.10 L259.43,63.10 L259.96,63.10 L260.49,63.10 L261.01,63.10 L261.54,63.10 L262.07,63.10 L262.59,63.10 L263.12,63.10 L263.65,63.10 L264.18,63.10 L264.70,63.10 L265.23,63.10 L265.76,63.10 L266.28,63.10 L266.81,63.10 L267.34,63.10 L267.87,63.10 L268.39,63.10 L268.92,63.10 L269.45,63.10 L269.97,63.10 L270.50,63.10 L271.03,63.10 L271.56,63.10 L272.08,63.10 L272.61,63.10 L273.14,63.10 L273.66,63.10 L274.19,63.10 L274.72,63.10 L275.25,63.10 L275.77,63.10 L276.30,63.10 L276.83,63.10 L277.35,63.10 L277.88,63.10 L278.41,63.10 L278.94,63.10 L279.46,63.10 L279.99,63.10 L280.52,63.10 L281.04,63.10 L281.57,63.10 L282.10,63.10 L282.63,63.10 L283.15,63.10 L283.68,63.10 L284.21,63.10 L284.73,63.10 L285.26,63.10 L285.79,63.10 L286.32,63.10 L286.84,63.10 L287.37,63.10 L287.90,63.10 L288.43,63.10" fill="none" stroke="#2a2a2a" stroke-width="0.80"/>
</g>
<rect x="205.50" y="9.80" width="83.30" height="53.30" fill="none" stroke="#222" stroke-width="1.1"/>
<line x1="202.70" y1="63.10" x2="205.50" y2="63.10" stroke="#222" stroke-width="0.9"/>
<text transform="translate(202.50,66.50) scale(1,1.120)" font-size="7.80" fill="#222" text-anchor="end" font-weight="normal" stroke="#222" stroke-width="0.10" >0</text>
<line x1="202.70" y1="49.50" x2="205.50" y2="49.50" stroke="#222" stroke-width="0.9"/>
<text transform="translate(202.50,52.90) scale(1,1.120)" font-size="7.80" fill="#222" text-anchor="end" font-weight="normal" stroke="#222" stroke-width="0.10" >0.03</text>
<line x1="202.70" y1="35.90" x2="205.50" y2="35.90" stroke="#222" stroke-width="0.9"/>
<text transform="translate(202.50,39.30) scale(1,1.120)" font-size="7.80" fill="#222" text-anchor="end" font-weight="normal" stroke="#222" stroke-width="0.10" >0.06</text>
<line x1="202.70" y1="22.30" x2="205.50" y2="22.30" stroke="#222" stroke-width="0.9"/>
<text transform="translate(202.50,25.70) scale(1,1.120)" font-size="7.80" fill="#222" text-anchor="end" font-weight="normal" stroke="#222" stroke-width="0.10" >0.09</text>
<line x1="215.40" y1="63.10" x2="215.40" y2="65.30" stroke="#222" stroke-width="0.9"/>
<text transform="translate(215.40,73.70) scale(1,1.120)" font-size="7.80" fill="#222" text-anchor="middle" font-weight="normal" stroke="#222" stroke-width="0.10" >0</text>
<line x1="228.10" y1="63.10" x2="228.10" y2="65.30" stroke="#222" stroke-width="0.9"/>
<text transform="translate(228.10,73.70) scale(1,1.120)" font-size="7.80" fill="#222" text-anchor="middle" font-weight="normal" stroke="#222" stroke-width="0.10" >0.2</text>
<line x1="240.80" y1="63.10" x2="240.80" y2="65.30" stroke="#222" stroke-width="0.9"/>
<text transform="translate(240.80,73.70) scale(1,1.120)" font-size="7.80" fill="#222" text-anchor="middle" font-weight="normal" stroke="#222" stroke-width="0.10" >0.4</text>
<line x1="253.50" y1="63.10" x2="253.50" y2="65.30" stroke="#222" stroke-width="0.9"/>
<text transform="translate(253.50,73.70) scale(1,1.120)" font-size="7.80" fill="#222" text-anchor="middle" font-weight="normal" stroke="#222" stroke-width="0.10" >0.6</text>
<line x1="266.20" y1="63.10" x2="266.20" y2="65.30" stroke="#222" stroke-width="0.9"/>
<text transform="translate(266.20,73.70) scale(1,1.120)" font-size="7.80" fill="#222" text-anchor="middle" font-weight="normal" stroke="#222" stroke-width="0.10" >0.8</text>
<line x1="278.90" y1="63.10" x2="278.90" y2="65.30" stroke="#222" stroke-width="0.9"/>
<text transform="translate(278.90,73.70) scale(1,1.120)" font-size="7.80" fill="#222" text-anchor="middle" font-weight="normal" stroke="#222" stroke-width="0.10" >1.0</text>
<text transform="translate(180.00,54.50) rotate(-90) scale(1,1.2)" font-size="8.1" fill="#222" font-style="italic">P(<tspan>E</tspan><tspan font-size="4.9" dy="2.4">FRET</tspan><tspan dy="-2.4">)</tspan></text>
<text transform="translate(245.10,19.50) scale(1,1.120)" font-size="7.80" fill="#222" text-anchor="start" font-weight="normal" stroke="#222" stroke-width="0.10" >EC-83</text>
<text transform="translate(245.10,28.60) scale(1,1.120)" font-size="7.80" fill="#4545ea" text-anchor="start" font-weight="normal" stroke="#4545ea" stroke-width="0.10" >EC-83-SAM</text>
<linearGradient id="hg3" gradientUnits="userSpaceOnUse" x1="0" y1="16.00" x2="0" y2="63.00"><stop offset="0" stop-color="#4646e8" stop-opacity="1.00"/><stop offset="1" stop-color="#f4f4fd" stop-opacity="1.00"/></linearGradient>
<linearGradient id="hg4" gradientUnits="userSpaceOnUse" x1="0" y1="42.00" x2="0" y2="63.00"><stop offset="0" stop-color="#f37583" stop-opacity="1.00"/><stop offset="1" stop-color="#fff0f1" stop-opacity="1.00"/></linearGradient>
<clipPath id="hc1004"><rect x="345.30" y="9.80" width="84.00" height="53.30"/></clipPath>
<g clip-path="url(#hc1004)">
<path d="M344.60,63.10 L345.13,63.10 L345.66,63.10 L346.19,63.10 L346.71,63.10 L347.24,63.10 L347.77,63.10 L348.30,63.10 L348.82,63.10 L349.35,63.10 L349.88,63.10 L350.40,63.10 L350.93,63.10 L351.46,63.10 L351.99,63.10 L352.51,63.10 L353.04,63.10 L353.57,63.10 L354.09,63.10 L354.62,63.10 L355.15,63.10 L355.68,63.10 L356.20,63.10 L356.73,63.10 L357.26,63.09 L357.78,63.08 L358.31,63.07 L358.84,63.05 L359.37,63.02 L359.89,62.96 L360.42,62.87 L360.95,62.74 L361.47,62.54 L362.00,62.25 L362.53,61.82 L363.06,61.23 L363.58,60.43 L364.11,59.36 L364.64,57.97 L365.16,56.21 L365.69,54.04 L366.22,51.44 L366.75,48.41 L367.27,44.98 L367.80,41.22 L368.33,37.22 L368.85,33.15 L369.38,29.15 L369.91,25.44 L370.44,22.19 L370.96,19.60 L371.49,17.81 L372.02,16.94 L372.54,17.04 L373.07,18.11 L373.60,20.07 L374.13,22.81 L374.65,26.17 L375.18,29.96 L375.71,33.98 L376.24,38.05 L376.76,42.01 L377.29,45.71 L377.82,49.07 L378.34,52.01 L378.87,54.52 L379.40,56.60 L379.93,58.28 L380.45,59.60 L380.98,60.62 L381.51,61.37 L382.03,61.92 L382.56,62.31 L383.09,62.59 L383.62,62.77 L384.14,62.89 L384.67,62.97 L385.20,63.02 L385.72,63.06 L386.25,63.07 L386.78,63.09 L387.31,63.09 L387.83,63.10 L388.36,63.10 L388.89,63.10 L389.41,63.10 L389.94,63.10 L390.47,63.10 L391.00,63.10 L391.52,63.10 L392.05,63.10 L392.58,63.10 L393.10,63.10 L393.63,63.10 L394.16,63.10 L394.69,63.10 L395.21,63.10 L395.74,63.10 L396.27,63.10 L396.79,63.10 L397.32,63.10 L397.85,63.10 L398.38,63.10 L398.90,63.10 L399.43,63.10 L399.96,63.10 L400.48,63.10 L401.01,63.10 L401.54,63.10 L402.07,63.10 L402.59,63.10 L403.12,63.10 L403.65,63.10 L404.18,63.10 L404.70,63.10 L405.23,63.10 L405.76,63.10 L406.28,63.10 L406.81,63.10 L407.34,63.10 L407.87,63.10 L408.39,63.10 L408.92,63.10 L409.45,63.10 L409.97,63.10 L410.50,63.10 L411.03,63.10 L411.56,63.10 L412.08,63.10 L412.61,63.10 L413.14,63.10 L413.66,63.10 L414.19,63.10 L414.72,63.10 L415.25,63.10 L415.77,63.10 L416.30,63.10 L416.83,63.10 L417.35,63.10 L417.88,63.10 L418.41,63.10 L418.94,63.10 L419.46,63.10 L419.99,63.10 L420.52,63.10 L421.04,63.10 L421.57,63.10 L422.10,63.10 L422.63,63.10 L423.15,63.10 L423.68,63.10 L424.21,63.10 L424.73,63.10 L425.26,63.10 L425.79,63.10 L426.32,63.10 L426.84,63.10 L427.37,63.10 L427.90,63.10 L428.42,63.10 L428.42,63.10 L344.60,63.10 Z" fill="url(#hg3)" stroke="none"/>
<path d="M344.60,63.06 L345.13,63.05 L345.66,63.05 L346.19,63.04 L346.71,63.03 L347.24,63.02 L347.77,63.01 L348.30,63.00 L348.82,62.98 L349.35,62.96 L349.88,62.94 L350.40,62.92 L350.93,62.89 L351.46,62.86 L351.99,62.82 L352.51,62.77 L353.04,62.71 L353.57,62.64 L354.09,62.55 L354.62,62.44 L355.15,62.31 L355.68,62.15 L356.20,61.96 L356.73,61.73 L357.26,61.45 L357.78,61.12 L358.31,60.73 L358.84,60.28 L359.37,59.76 L359.89,59.17 L360.42,58.50 L360.95,57.75 L361.47,56.93 L362.00,56.03 L362.53,55.07 L363.06,54.05 L363.58,52.98 L364.11,51.89 L364.64,50.79 L365.16,49.69 L365.69,48.64 L366.22,47.63 L366.75,46.71 L367.27,45.88 L367.80,45.17 L368.33,44.60 L368.85,44.17 L369.38,43.89 L369.91,43.77 L370.44,43.81 L370.96,43.99 L371.49,44.31 L372.02,44.75 L372.54,45.29 L373.07,45.91 L373.60,46.59 L374.13,47.32 L374.65,48.06 L375.18,48.79 L375.71,49.51 L376.24,50.19 L376.76,50.82 L377.29,51.40 L377.82,51.92 L378.34,52.37 L378.87,52.75 L379.40,53.07 L379.93,53.33 L380.45,53.54 L380.98,53.69 L381.51,53.80 L382.03,53.87 L382.56,53.92 L383.09,53.94 L383.62,53.95 L384.14,53.94 L384.67,53.92 L385.20,53.91 L385.72,53.89 L386.25,53.88 L386.78,53.87 L387.31,53.87 L387.83,53.88 L388.36,53.89 L388.89,53.92 L389.41,53.96 L389.94,54.00 L390.47,54.05 L391.00,54.11 L391.52,54.17 L392.05,54.24 L392.58,54.31 L393.10,54.39 L393.63,54.46 L394.16,54.53 L394.69,54.60 L395.21,54.66 L395.74,54.71 L396.27,54.76 L396.79,54.80 L397.32,54.83 L397.85,54.85 L398.38,54.86 L398.90,54.86 L399.43,54.85 L399.96,54.84 L400.48,54.82 L401.01,54.81 L401.54,54.79 L402.07,54.78 L402.59,54.77 L403.12,54.78 L403.65,54.80 L404.18,54.83 L404.70,54.89 L405.23,54.97 L405.76,55.07 L406.28,55.20 L406.81,55.35 L407.34,55.54 L407.87,55.75 L408.39,55.98 L408.92,56.24 L409.45,56.53 L409.97,56.83 L410.50,57.15 L411.03,57.49 L411.56,57.83 L412.08,58.18 L412.61,58.53 L413.14,58.87 L413.66,59.22 L414.19,59.55 L414.72,59.87 L415.25,60.18 L415.77,60.47 L416.30,60.75 L416.83,61.01 L417.35,61.25 L417.88,61.47 L418.41,61.66 L418.94,61.85 L419.46,62.01 L419.99,62.15 L420.52,62.28 L421.04,62.39 L421.57,62.49 L422.10,62.58 L422.63,62.66 L423.15,62.72 L423.68,62.78 L424.21,62.83 L424.73,62.87 L425.26,62.90 L425.79,62.93 L426.32,62.96 L426.84,62.98 L427.37,63.00 L427.90,63.01 L428.42,63.02 L428.42,63.10 L344.60,63.10 Z" fill="url(#hg4)" stroke="none"/>
<path d="M344.60,63.10 L345.13,63.10 L345.66,63.10 L346.19,63.10 L346.71,63.10 L347.24,63.10 L347.77,63.10 L348.30,63.10 L348.82,63.10 L349.35,63.10 L349.88,63.10 L350.40,63.10 L350.93,63.10 L351.46,63.10 L351.99,63.10 L352.51,63.10 L353.04,63.10 L353.57,63.10 L354.09,63.10 L354.62,63.10 L355.15,63.10 L355.68,63.10 L356.20,63.10 L356.73,63.10 L357.26,63.09 L357.78,63.08 L358.31,63.07 L358.84,63.05 L359.37,63.02 L359.89,62.96 L360.42,62.87 L360.95,62.74 L361.47,62.54 L362.00,62.25 L362.53,61.82 L363.06,61.23 L363.58,60.43 L364.11,59.36 L364.64,57.97 L365.16,56.21 L365.69,54.04 L366.22,51.44 L366.75,48.41 L367.27,44.98 L367.80,41.22 L368.33,37.22 L368.85,33.15 L369.38,29.15 L369.91,25.44 L370.44,22.19 L370.96,19.60 L371.49,17.81 L372.02,16.94 L372.54,17.04 L373.07,18.11 L373.60,20.07 L374.13,22.81 L374.65,26.17 L375.18,29.96 L375.71,33.98 L376.24,38.05 L376.76,42.01 L377.29,45.71 L377.82,49.07 L378.34,52.01 L378.87,54.52 L379.40,56.60 L379.93,58.28 L380.45,59.60 L380.98,60.62 L381.51,61.37 L382.03,61.92 L382.56,62.31 L383.09,62.59 L383.62,62.77 L384.14,62.89 L384.67,62.97 L385.20,63.02 L385.72,63.06 L386.25,63.07 L386.78,63.09 L387.31,63.09 L387.83,63.10 L388.36,63.10 L388.89,63.10 L389.41,63.10 L389.94,63.10 L390.47,63.10 L391.00,63.10 L391.52,63.10 L392.05,63.10 L392.58,63.10 L393.10,63.10 L393.63,63.10 L394.16,63.10 L394.69,63.10 L395.21,63.10 L395.74,63.10 L396.27,63.10 L396.79,63.10 L397.32,63.10 L397.85,63.10 L398.38,63.10 L398.90,63.10 L399.43,63.10 L399.96,63.10 L400.48,63.10 L401.01,63.10 L401.54,63.10 L402.07,63.10 L402.59,63.10 L403.12,63.10 L403.65,63.10 L404.18,63.10 L404.70,63.10 L405.23,63.10 L405.76,63.10 L406.28,63.10 L406.81,63.10 L407.34,63.10 L407.87,63.10 L408.39,63.10 L408.92,63.10 L409.45,63.10 L409.97,63.10 L410.50,63.10 L411.03,63.10 L411.56,63.10 L412.08,63.10 L412.61,63.10 L413.14,63.10 L413.66,63.10 L414.19,63.10 L414.72,63.10 L415.25,63.10 L415.77,63.10 L416.30,63.10 L416.83,63.10 L417.35,63.10 L417.88,63.10 L418.41,63.10 L418.94,63.10 L419.46,63.10 L419.99,63.10 L420.52,63.10 L421.04,63.10 L421.57,63.10 L422.10,63.10 L422.63,63.10 L423.15,63.10 L423.68,63.10 L424.21,63.10 L424.73,63.10 L425.26,63.10 L425.79,63.10 L426.32,63.10 L426.84,63.10 L427.37,63.10 L427.90,63.10 L428.42,63.10" fill="none" stroke="#4545ea" stroke-width="0.70"/>
<path d="M344.60,63.06 L345.13,63.05 L345.66,63.05 L346.19,63.04 L346.71,63.03 L347.24,63.02 L347.77,63.01 L348.30,63.00 L348.82,62.98 L349.35,62.96 L349.88,62.94 L350.40,62.92 L350.93,62.89 L351.46,62.86 L351.99,62.82 L352.51,62.77 L353.04,62.71 L353.57,62.64 L354.09,62.55 L354.62,62.44 L355.15,62.31 L355.68,62.15 L356.20,61.96 L356.73,61.73 L357.26,61.45 L357.78,61.12 L358.31,60.73 L358.84,60.28 L359.37,59.76 L359.89,59.17 L360.42,58.50 L360.95,57.75 L361.47,56.93 L362.00,56.03 L362.53,55.07 L363.06,54.05 L363.58,52.98 L364.11,51.89 L364.64,50.79 L365.16,49.69 L365.69,48.64 L366.22,47.63 L366.75,46.71 L367.27,45.88 L367.80,45.17 L368.33,44.60 L368.85,44.17 L369.38,43.89 L369.91,43.77 L370.44,43.81 L370.96,43.99 L371.49,44.31 L372.02,44.75 L372.54,45.29 L373.07,45.91 L373.60,46.59 L374.13,47.32 L374.65,48.06 L375.18,48.79 L375.71,49.51 L376.24,50.19 L376.76,50.82 L377.29,51.40 L377.82,51.92 L378.34,52.37 L378.87,52.75 L379.40,53.07 L379.93,53.33 L380.45,53.54 L380.98,53.69 L381.51,53.80 L382.03,53.87 L382.56,53.92 L383.09,53.94 L383.62,53.95 L384.14,53.94 L384.67,53.92 L385.20,53.91 L385.72,53.89 L386.25,53.88 L386.78,53.87 L387.31,53.87 L387.83,53.88 L388.36,53.89 L388.89,53.92 L389.41,53.96 L389.94,54.00 L390.47,54.05 L391.00,54.11 L391.52,54.17 L392.05,54.24 L392.58,54.31 L393.10,54.39 L393.63,54.46 L394.16,54.53 L394.69,54.60 L395.21,54.66 L395.74,54.71 L396.27,54.76 L396.79,54.80 L397.32,54.83 L397.85,54.85 L398.38,54.86 L398.90,54.86 L399.43,54.85 L399.96,54.84 L400.48,54.82 L401.01,54.81 L401.54,54.79 L402.07,54.78 L402.59,54.77 L403.12,54.78 L403.65,54.80 L404.18,54.83 L404.70,54.89 L405.23,54.97 L405.76,55.07 L406.28,55.20 L406.81,55.35 L407.34,55.54 L407.87,55.75 L408.39,55.98 L408.92,56.24 L409.45,56.53 L409.97,56.83 L410.50,57.15 L411.03,57.49 L411.56,57.83 L412.08,58.18 L412.61,58.53 L413.14,58.87 L413.66,59.22 L414.19,59.55 L414.72,59.87 L415.25,60.18 L415.77,60.47 L416.30,60.75 L416.83,61.01 L417.35,61.25 L417.88,61.47 L418.41,61.66 L418.94,61.85 L419.46,62.01 L419.99,62.15 L420.52,62.28 L421.04,62.39 L421.57,62.49 L422.10,62.58 L422.63,62.66 L423.15,62.72 L423.68,62.78 L424.21,62.83 L424.73,62.87 L425.26,62.90 L425.79,62.93 L426.32,62.96 L426.84,62.98 L427.37,63.00 L427.90,63.01 L428.42,63.02" fill="none" stroke="#f8303e" stroke-width="0.80"/>
</g>
<rect x="345.30" y="9.80" width="84.00" height="53.30" fill="none" stroke="#222" stroke-width="1.1"/>
<line x1="342.50" y1="63.10" x2="345.30" y2="63.10" stroke="#222" stroke-width="0.9"/>
<text transform="translate(342.30,66.50) scale(1,1.120)" font-size="7.80" fill="#222" text-anchor="end" font-weight="normal" stroke="#222" stroke-width="0.10" >0</text>
<line x1="342.50" y1="49.50" x2="345.30" y2="49.50" stroke="#222" stroke-width="0.9"/>
<text transform="translate(342.30,52.90) scale(1,1.120)" font-size="7.80" fill="#222" text-anchor="end" font-weight="normal" stroke="#222" stroke-width="0.10" >0.03</text>
<line x1="342.50" y1="35.90" x2="345.30" y2="35.90" stroke="#222" stroke-width="0.9"/>
<text transform="translate(342.30,39.30) scale(1,1.120)" font-size="7.80" fill="#222" text-anchor="end" font-weight="normal" stroke="#222" stroke-width="0.10" >0.06</text>
<line x1="342.50" y1="22.30" x2="345.30" y2="22.30" stroke="#222" stroke-width="0.9"/>
<text transform="translate(342.30,25.70) scale(1,1.120)" font-size="7.80" fill="#222" text-anchor="end" font-weight="normal" stroke="#222" stroke-width="0.10" >0.09</text>
<line x1="355.40" y1="63.10" x2="355.40" y2="65.30" stroke="#222" stroke-width="0.9"/>
<text transform="translate(355.40,73.70) scale(1,1.120)" font-size="7.80" fill="#222" text-anchor="middle" font-weight="normal" stroke="#222" stroke-width="0.10" >0</text>
<line x1="368.10" y1="63.10" x2="368.10" y2="65.30" stroke="#222" stroke-width="0.9"/>
<text transform="translate(368.10,73.70) scale(1,1.120)" font-size="7.80" fill="#222" text-anchor="middle" font-weight="normal" stroke="#222" stroke-width="0.10" >0.2</text>
<line x1="380.80" y1="63.10" x2="380.80" y2="65.30" stroke="#222" stroke-width="0.9"/>
<text transform="translate(380.80,73.70) scale(1,1.120)" font-size="7.80" fill="#222" text-anchor="middle" font-weight="normal" stroke="#222" stroke-width="0.10" >0.4</text>
<line x1="393.50" y1="63.10" x2="393.50" y2="65.30" stroke="#222" stroke-width="0.9"/>
<text transform="translate(393.50,73.70) scale(1,1.120)" font-size="7.80" fill="#222" text-anchor="middle" font-weight="normal" stroke="#222" stroke-width="0.10" >0.6</text>
<line x1="406.20" y1="63.10" x2="406.20" y2="65.30" stroke="#222" stroke-width="0.9"/>
<text transform="translate(406.20,73.70) scale(1,1.120)" font-size="7.80" fill="#222" text-anchor="middle" font-weight="normal" stroke="#222" stroke-width="0.10" >0.8</text>
<line x1="418.90" y1="63.10" x2="418.90" y2="65.30" stroke="#222" stroke-width="0.9"/>
<text transform="translate(418.90,73.70) scale(1,1.120)" font-size="7.80" fill="#222" text-anchor="middle" font-weight="normal" stroke="#222" stroke-width="0.10" >1.0</text>
<text transform="translate(319.80,54.50) rotate(-90) scale(1,1.2)" font-size="8.1" fill="#222" font-style="italic">P(<tspan>E</tspan><tspan font-size="4.9" dy="2.4">FRET</tspan><tspan dy="-2.4">)</tspan></text>
<text transform="translate(383.10,22.00) scale(1,1.120)" font-size="7.80" fill="#f8303e" text-anchor="start" font-weight="normal" stroke="#f8303e" stroke-width="0.10" >EC-83+SAM</text>
<text transform="translate(383.10,31.70) scale(1,1.120)" font-size="7.80" fill="#4545ea" text-anchor="start" font-weight="normal" stroke="#4545ea" stroke-width="0.10" >EC-83-SAM</text>
<linearGradient id="hg6" gradientUnits="userSpaceOnUse" x1="0" y1="97.00" x2="0" y2="143.00"><stop offset="0.00" stop-color="#4a4aec" stop-opacity="1.00"/><stop offset="0.30" stop-color="#8686ee" stop-opacity="1.00"/><stop offset="0.60" stop-color="#c8c8f6" stop-opacity="1.00"/><stop offset="1.00" stop-color="#ffffff" stop-opacity="1.00"/></linearGradient>
<linearGradient id="hg7" gradientUnits="userSpaceOnUse" x1="0" y1="100.00" x2="0" y2="143.00"><stop offset="0.00" stop-color="#34344a" stop-opacity="1.00"/><stop offset="0.22" stop-color="#6e6e82" stop-opacity="1.00"/><stop offset="0.45" stop-color="#b0b0bc" stop-opacity="1.00"/><stop offset="0.70" stop-color="#e2e2e8" stop-opacity="1.00"/><stop offset="1.00" stop-color="#ffffff" stop-opacity="1.00"/></linearGradient>
<clipPath id="hc1007"><rect x="204.60" y="92.50" width="82.90" height="50.60"/></clipPath>
<g clip-path="url(#hc1007)">
<path d="M204.19,143.10 L204.71,143.10 L205.24,143.10 L205.76,143.10 L206.28,143.10 L206.81,143.10 L207.33,143.10 L207.85,143.10 L208.37,143.10 L208.90,143.10 L209.42,143.10 L209.94,143.10 L210.47,143.10 L210.99,143.10 L211.51,143.10 L212.04,143.10 L212.56,143.10 L213.08,143.10 L213.60,143.10 L214.13,143.10 L214.65,143.09 L215.17,143.09 L215.70,143.08 L216.22,143.07 L216.74,143.05 L217.27,143.02 L217.79,142.97 L218.31,142.91 L218.83,142.81 L219.36,142.67 L219.88,142.47 L220.40,142.20 L220.93,141.82 L221.45,141.32 L221.97,140.67 L222.50,139.82 L223.02,138.75 L223.54,137.42 L224.06,135.81 L224.59,133.89 L225.11,131.66 L225.63,129.11 L226.16,126.27 L226.68,123.18 L227.20,119.91 L227.73,116.53 L228.25,113.14 L228.77,109.86 L229.29,106.80 L229.82,104.09 L230.34,101.83 L230.86,100.11 L231.39,98.99 L231.91,98.52 L232.43,98.69 L232.96,99.47 L233.48,100.81 L234.00,102.61 L234.53,104.78 L235.05,107.19 L235.57,109.74 L236.09,112.31 L236.62,114.80 L237.14,117.14 L237.66,119.26 L238.19,121.12 L238.71,122.70 L239.23,124.01 L239.76,125.06 L240.28,125.87 L240.80,126.49 L241.32,126.95 L241.85,127.29 L242.37,127.54 L242.89,127.75 L243.42,127.94 L243.94,128.14 L244.46,128.36 L244.99,128.62 L245.51,128.93 L246.03,129.30 L246.55,129.71 L247.08,130.19 L247.60,130.71 L248.12,131.27 L248.65,131.86 L249.17,132.48 L249.69,133.10 L250.22,133.74 L250.74,134.36 L251.26,134.95 L251.78,135.52 L252.31,136.03 L252.83,136.49 L253.35,136.87 L253.88,137.17 L254.40,137.36 L254.92,137.45 L255.45,137.41 L255.97,137.23 L256.49,136.91 L257.01,136.45 L257.54,135.84 L258.06,135.07 L258.58,134.16 L259.11,133.12 L259.63,131.97 L260.15,130.72 L260.68,129.40 L261.20,128.05 L261.72,126.70 L262.25,125.39 L262.77,124.17 L263.29,123.06 L263.81,122.11 L264.34,121.35 L264.86,120.81 L265.38,120.51 L265.91,120.46 L266.43,120.67 L266.95,121.12 L267.48,121.81 L268.00,122.71 L268.52,123.80 L269.04,125.03 L269.57,126.38 L270.09,127.81 L270.61,129.27 L271.14,130.73 L271.66,132.17 L272.18,133.55 L272.71,134.85 L273.23,136.06 L273.75,137.16 L274.27,138.14 L274.80,139.01 L275.32,139.76 L275.84,140.41 L276.37,140.96 L276.89,141.41 L277.41,141.79 L277.94,142.09 L278.46,142.33 L278.98,142.52 L279.50,142.67 L280.03,142.78 L280.55,142.87 L281.07,142.93 L281.60,142.98 L282.12,143.02 L282.64,143.04 L283.17,143.06 L283.69,143.07 L284.21,143.08 L284.73,143.09 L285.26,143.09 L285.78,143.09 L286.30,143.10 L286.83,143.10 L287.35,143.10 L287.35,143.10 L204.19,143.10 Z" fill="url(#hg6)" stroke="none"/>
<path d="M204.19,142.96 L204.71,142.94 L205.24,142.92 L205.76,142.90 L206.28,142.88 L206.81,142.86 L207.33,142.83 L207.85,142.80 L208.37,142.77 L208.90,142.73 L209.42,142.69 L209.94,142.65 L210.47,142.61 L210.99,142.56 L211.51,142.50 L212.04,142.44 L212.56,142.38 L213.08,142.31 L213.60,142.23 L214.13,142.14 L214.65,142.04 L215.17,141.92 L215.70,141.79 L216.22,141.63 L216.74,141.45 L217.27,141.23 L217.79,140.97 L218.31,140.65 L218.83,140.27 L219.36,139.81 L219.88,139.25 L220.40,138.59 L220.93,137.80 L221.45,136.87 L221.97,135.79 L222.50,134.53 L223.02,133.10 L223.54,131.49 L224.06,129.69 L224.59,127.73 L225.11,125.62 L225.63,123.38 L226.16,121.05 L226.68,118.68 L227.20,116.32 L227.73,114.02 L228.25,111.85 L228.77,109.86 L229.29,108.12 L229.82,106.67 L230.34,105.56 L230.86,104.83 L231.39,104.48 L231.91,104.54 L232.43,104.98 L232.96,105.79 L233.48,106.93 L234.00,108.35 L234.53,110.01 L235.05,111.84 L235.57,113.79 L236.09,115.79 L236.62,117.79 L237.14,119.75 L237.66,121.62 L238.19,123.37 L238.71,124.98 L239.23,126.43 L239.76,127.72 L240.28,128.84 L240.80,129.80 L241.32,130.62 L241.85,131.29 L242.37,131.85 L242.89,132.30 L243.42,132.67 L243.94,132.95 L244.46,133.17 L244.99,133.34 L245.51,133.47 L246.03,133.56 L246.55,133.61 L247.08,133.64 L247.60,133.65 L248.12,133.63 L248.65,133.58 L249.17,133.51 L249.69,133.41 L250.22,133.28 L250.74,133.12 L251.26,132.92 L251.78,132.68 L252.31,132.41 L252.83,132.09 L253.35,131.72 L253.88,131.32 L254.40,130.87 L254.92,130.37 L255.45,129.83 L255.97,129.25 L256.49,128.64 L257.01,127.99 L257.54,127.31 L258.06,126.61 L258.58,125.90 L259.11,125.18 L259.63,124.46 L260.15,123.76 L260.68,123.08 L261.20,122.43 L261.72,121.82 L262.25,121.26 L262.77,120.76 L263.29,120.34 L263.81,119.99 L264.34,119.73 L264.86,119.55 L265.38,119.48 L265.91,119.50 L266.43,119.62 L266.95,119.85 L267.48,120.17 L268.00,120.59 L268.52,121.10 L269.04,121.69 L269.57,122.37 L270.09,123.12 L270.61,123.93 L271.14,124.79 L271.66,125.70 L272.18,126.64 L272.71,127.60 L273.23,128.57 L273.75,129.55 L274.27,130.52 L274.80,131.48 L275.32,132.42 L275.84,133.33 L276.37,134.20 L276.89,135.04 L277.41,135.83 L277.94,136.57 L278.46,137.27 L278.98,137.92 L279.50,138.51 L280.03,139.06 L280.55,139.56 L281.07,140.01 L281.60,140.42 L282.12,140.79 L282.64,141.11 L283.17,141.40 L283.69,141.65 L284.21,141.87 L284.73,142.06 L285.26,142.23 L285.78,142.37 L286.30,142.49 L286.83,142.60 L287.35,142.69 L287.35,143.10 L204.19,143.10 Z" fill="url(#hg7)" stroke="none"/>
<path d="M204.19,143.10 L204.71,143.10 L205.24,143.10 L205.76,143.10 L206.28,143.10 L206.81,143.10 L207.33,143.10 L207.85,143.10 L208.37,143.10 L208.90,143.10 L209.42,143.10 L209.94,143.10 L210.47,143.10 L210.99,143.10 L211.51,143.10 L212.04,143.10 L212.56,143.10 L213.08,143.10 L213.60,143.10 L214.13,143.10 L214.65,143.09 L215.17,143.09 L215.70,143.08 L216.22,143.07 L216.74,143.05 L217.27,143.02 L217.79,142.97 L218.31,142.91 L218.83,142.81 L219.36,142.67 L219.88,142.47 L220.40,142.20 L220.93,141.82 L221.45,141.32 L221.97,140.67 L222.50,139.82 L223.02,138.75 L223.54,137.42 L224.06,135.81 L224.59,133.89 L225.11,131.66 L225.63,129.11 L226.16,126.27 L226.68,123.18 L227.20,119.91 L227.73,116.53 L228.25,113.14 L228.77,109.86 L229.29,106.80 L229.82,104.09 L230.34,101.83 L230.86,100.11 L231.39,98.99 L231.91,98.52 L232.43,98.69 L232.96,99.47 L233.48,100.81 L234.00,102.61 L234.53,104.78 L235.05,107.19 L235.57,109.74 L236.09,112.31 L236.62,114.80 L237.14,117.14 L237.66,119.26 L238.19,121.12 L238.71,122.70 L239.23,124.01 L239.76,125.06 L240.28,125.87 L240.80,126.49 L241.32,126.95 L241.85,127.29 L242.37,127.54 L242.89,127.75 L243.42,127.94 L243.94,128.14 L244.46,128.36 L244.99,128.62 L245.51,128.93 L246.03,129.30 L246.55,129.71 L247.08,130.19 L247.60,130.71 L248.12,131.27 L248.65,131.86 L249.17,132.48 L249.69,133.10 L250.22,133.74 L250.74,134.36 L251.26,134.95 L251.78,135.52 L252.31,136.03 L252.83,136.49 L253.35,136.87 L253.88,137.17 L254.40,137.36 L254.92,137.45 L255.45,137.41 L255.97,137.23 L256.49,136.91 L257.01,136.45 L257.54,135.84 L258.06,135.07 L258.58,134.16 L259.11,133.12 L259.63,131.97 L260.15,130.72 L260.68,129.40 L261.20,128.05 L261.72,126.70 L262.25,125.39 L262.77,124.17 L263.29,123.06 L263.81,122.11 L264.34,121.35 L264.86,120.81 L265.38,120.51 L265.91,120.46 L266.43,120.67 L266.95,121.12 L267.48,121.81 L268.00,122.71 L268.52,123.80 L269.04,125.03 L269.57,126.38 L270.09,127.81 L270.61,129.27 L271.14,130.73 L271.66,132.17 L272.18,133.55 L272.71,134.85 L273.23,136.06 L273.75,137.16 L274.27,138.14 L274.80,139.01 L275.32,139.76 L275.84,140.41 L276.37,140.96 L276.89,141.41 L277.41,141.79 L277.94,142.09 L278.46,142.33 L278.98,142.52 L279.50,142.67 L280.03,142.78 L280.55,142.87 L281.07,142.93 L281.60,142.98 L282.12,143.02 L282.64,143.04 L283.17,143.06 L283.69,143.07 L284.21,143.08 L284.73,143.09 L285.26,143.09 L285.78,143.09 L286.30,143.10 L286.83,143.10 L287.35,143.10" fill="none" stroke="#4545ea" stroke-width="0.70"/>
<path d="M204.19,142.96 L204.71,142.94 L205.24,142.92 L205.76,142.90 L206.28,142.88 L206.81,142.86 L207.33,142.83 L207.85,142.80 L208.37,142.77 L208.90,142.73 L209.42,142.69 L209.94,142.65 L210.47,142.61 L210.99,142.56 L211.51,142.50 L212.04,142.44 L212.56,142.38 L213.08,142.31 L213.60,142.23 L214.13,142.14 L214.65,142.04 L215.17,141.92 L215.70,141.79 L216.22,141.63 L216.74,141.45 L217.27,141.23 L217.79,140.97 L218.31,140.65 L218.83,140.27 L219.36,139.81 L219.88,139.25 L220.40,138.59 L220.93,137.80 L221.45,136.87 L221.97,135.79 L222.50,134.53 L223.02,133.10 L223.54,131.49 L224.06,129.69 L224.59,127.73 L225.11,125.62 L225.63,123.38 L226.16,121.05 L226.68,118.68 L227.20,116.32 L227.73,114.02 L228.25,111.85 L228.77,109.86 L229.29,108.12 L229.82,106.67 L230.34,105.56 L230.86,104.83 L231.39,104.48 L231.91,104.54 L232.43,104.98 L232.96,105.79 L233.48,106.93 L234.00,108.35 L234.53,110.01 L235.05,111.84 L235.57,113.79 L236.09,115.79 L236.62,117.79 L237.14,119.75 L237.66,121.62 L238.19,123.37 L238.71,124.98 L239.23,126.43 L239.76,127.72 L240.28,128.84 L240.80,129.80 L241.32,130.62 L241.85,131.29 L242.37,131.85 L242.89,132.30 L243.42,132.67 L243.94,132.95 L244.46,133.17 L244.99,133.34 L245.51,133.47 L246.03,133.56 L246.55,133.61 L247.08,133.64 L247.60,133.65 L248.12,133.63 L248.65,133.58 L249.17,133.51 L249.69,133.41 L250.22,133.28 L250.74,133.12 L251.26,132.92 L251.78,132.68 L252.31,132.41 L252.83,132.09 L253.35,131.72 L253.88,131.32 L254.40,130.87 L254.92,130.37 L255.45,129.83 L255.97,129.25 L256.49,128.64 L257.01,127.99 L257.54,127.31 L258.06,126.61 L258.58,125.90 L259.11,125.18 L259.63,124.46 L260.15,123.76 L260.68,123.08 L261.20,122.43 L261.72,121.82 L262.25,121.26 L262.77,120.76 L263.29,120.34 L263.81,119.99 L264.34,119.73 L264.86,119.55 L265.38,119.48 L265.91,119.50 L266.43,119.62 L266.95,119.85 L267.48,120.17 L268.00,120.59 L268.52,121.10 L269.04,121.69 L269.57,122.37 L270.09,123.12 L270.61,123.93 L271.14,124.79 L271.66,125.70 L272.18,126.64 L272.71,127.60 L273.23,128.57 L273.75,129.55 L274.27,130.52 L274.80,131.48 L275.32,132.42 L275.84,133.33 L276.37,134.20 L276.89,135.04 L277.41,135.83 L277.94,136.57 L278.46,137.27 L278.98,137.92 L279.50,138.51 L280.03,139.06 L280.55,139.56 L281.07,140.01 L281.60,140.42 L282.12,140.79 L282.64,141.11 L283.17,141.40 L283.69,141.65 L284.21,141.87 L284.73,142.06 L285.26,142.23 L285.78,142.37 L286.30,142.49 L286.83,142.60 L287.35,142.69" fill="none" stroke="#2a2a2a" stroke-width="0.80"/>
</g>
<rect x="204.60" y="92.50" width="82.90" height="50.60" fill="none" stroke="#222" stroke-width="1.1"/>
<line x1="201.80" y1="143.10" x2="204.60" y2="143.10" stroke="#222" stroke-width="0.9"/>
<text transform="translate(198.80,146.50) scale(1,1.120)" font-size="7.80" fill="#222" text-anchor="end" font-weight="normal" stroke="#222" stroke-width="0.10" >0</text>
<line x1="201.80" y1="126.00" x2="204.60" y2="126.00" stroke="#222" stroke-width="0.9"/>
<text transform="translate(201.60,129.40) scale(1,1.120)" font-size="7.80" fill="#222" text-anchor="end" font-weight="normal" stroke="#222" stroke-width="0.10" >0.02</text>
<line x1="201.80" y1="108.90" x2="204.60" y2="108.90" stroke="#222" stroke-width="0.9"/>
<text transform="translate(201.60,112.30) scale(1,1.120)" font-size="7.80" fill="#222" text-anchor="end" font-weight="normal" stroke="#222" stroke-width="0.10" >0.04</text>
<line x1="214.90" y1="143.10" x2="214.90" y2="145.30" stroke="#222" stroke-width="0.9"/>
<text transform="translate(214.90,153.70) scale(1,1.120)" font-size="7.80" fill="#222" text-anchor="middle" font-weight="normal" stroke="#222" stroke-width="0.10" >0</text>
<line x1="227.50" y1="143.10" x2="227.50" y2="145.30" stroke="#222" stroke-width="0.9"/>
<text transform="translate(227.50,153.70) scale(1,1.120)" font-size="7.80" fill="#222" text-anchor="middle" font-weight="normal" stroke="#222" stroke-width="0.10" >0.2</text>
<line x1="240.10" y1="143.10" x2="240.10" y2="145.30" stroke="#222" stroke-width="0.9"/>
<text transform="translate(240.10,153.70) scale(1,1.120)" font-size="7.80" fill="#222" text-anchor="middle" font-weight="normal" stroke="#222" stroke-width="0.10" >0.4</text>
<line x1="252.70" y1="143.10" x2="252.70" y2="145.30" stroke="#222" stroke-width="0.9"/>
<text transform="translate(252.70,153.70) scale(1,1.120)" font-size="7.80" fill="#222" text-anchor="middle" font-weight="normal" stroke="#222" stroke-width="0.10" >0.6</text>
<line x1="265.30" y1="143.10" x2="265.30" y2="145.30" stroke="#222" stroke-width="0.9"/>
<text transform="translate(265.30,153.70) scale(1,1.120)" font-size="7.80" fill="#222" text-anchor="middle" font-weight="normal" stroke="#222" stroke-width="0.10" >0.8</text>
<line x1="277.90" y1="143.10" x2="277.90" y2="145.30" stroke="#222" stroke-width="0.9"/>
<text transform="translate(277.90,153.70) scale(1,1.120)" font-size="7.80" fill="#222" text-anchor="middle" font-weight="normal" stroke="#222" stroke-width="0.10" >1.0</text>
<text transform="translate(179.70,138.00) rotate(-90) scale(1,1.2)" font-size="8.1" fill="#222" font-style="italic">P(<tspan>E</tspan><tspan font-size="4.9" dy="2.4">FRET</tspan><tspan dy="-2.4">)</tspan></text>
<text transform="translate(240.60,101.50) scale(1,1.120)" font-size="7.80" fill="#222" text-anchor="start" font-weight="normal" stroke="#222" stroke-width="0.10" >EC-84</text>
<text transform="translate(240.60,111.20) scale(1,1.120)" font-size="7.80" fill="#4545ea" text-anchor="start" font-weight="normal" stroke="#4545ea" stroke-width="0.10" >EC-84-SAM</text>
<linearGradient id="hg9" gradientUnits="userSpaceOnUse" x1="0" y1="97.00" x2="0" y2="143.00"><stop offset="0" stop-color="#4646ea" stop-opacity="1.00"/><stop offset="1" stop-color="#f4f4ff" stop-opacity="1.00"/></linearGradient>
<linearGradient id="hg10" gradientUnits="userSpaceOnUse" x1="0" y1="113.00" x2="0" y2="143.00"><stop offset="0" stop-color="#f26a78" stop-opacity="0.80"/><stop offset="1" stop-color="#ffffff" stop-opacity="0.85"/></linearGradient>
<clipPath id="hc1010"><rect x="344.20" y="92.50" width="83.20" height="50.60"/></clipPath>
<g clip-path="url(#hc1010)">
<path d="M343.89,143.10 L344.41,143.10 L344.94,143.10 L345.46,143.10 L345.98,143.10 L346.51,143.10 L347.03,143.10 L347.55,143.10 L348.07,143.10 L348.60,143.10 L349.12,143.10 L349.64,143.10 L350.17,143.10 L350.69,143.10 L351.21,143.10 L351.74,143.10 L352.26,143.10 L352.78,143.10 L353.30,143.10 L353.83,143.10 L354.35,143.09 L354.87,143.09 L355.40,143.08 L355.92,143.07 L356.44,143.05 L356.97,143.02 L357.49,142.97 L358.01,142.91 L358.53,142.81 L359.06,142.67 L359.58,142.47 L360.10,142.20 L360.63,141.82 L361.15,141.32 L361.67,140.67 L362.20,139.82 L362.72,138.75 L363.24,137.42 L363.76,135.81 L364.29,133.89 L364.81,131.66 L365.33,129.11 L365.86,126.27 L366.38,123.18 L366.90,119.91 L367.43,116.53 L367.95,113.14 L368.47,109.86 L368.99,106.80 L369.52,104.09 L370.04,101.83 L370.56,100.11 L371.09,98.99 L371.61,98.52 L372.13,98.69 L372.66,99.47 L373.18,100.81 L373.70,102.61 L374.23,104.78 L374.75,107.19 L375.27,109.74 L375.79,112.31 L376.32,114.80 L376.84,117.14 L377.36,119.26 L377.89,121.12 L378.41,122.70 L378.93,124.01 L379.46,125.06 L379.98,125.87 L380.50,126.49 L381.02,126.95 L381.55,127.29 L382.07,127.54 L382.59,127.75 L383.12,127.94 L383.64,128.14 L384.16,128.36 L384.69,128.62 L385.21,128.93 L385.73,129.30 L386.25,129.71 L386.78,130.19 L387.30,130.71 L387.82,131.27 L388.35,131.86 L388.87,132.48 L389.39,133.10 L389.92,133.74 L390.44,134.36 L390.96,134.95 L391.48,135.52 L392.01,136.03 L392.53,136.49 L393.05,136.87 L393.58,137.17 L394.10,137.36 L394.62,137.45 L395.15,137.41 L395.67,137.23 L396.19,136.91 L396.71,136.45 L397.24,135.84 L397.76,135.07 L398.28,134.16 L398.81,133.12 L399.33,131.97 L399.85,130.72 L400.38,129.40 L400.90,128.05 L401.42,126.70 L401.95,125.39 L402.47,124.17 L402.99,123.06 L403.51,122.11 L404.04,121.35 L404.56,120.81 L405.08,120.51 L405.61,120.46 L406.13,120.67 L406.65,121.12 L407.18,121.81 L407.70,122.71 L408.22,123.80 L408.74,125.03 L409.27,126.38 L409.79,127.81 L410.31,129.27 L410.84,130.73 L411.36,132.17 L411.88,133.55 L412.41,134.85 L412.93,136.06 L413.45,137.16 L413.97,138.14 L414.50,139.01 L415.02,139.76 L415.54,140.41 L416.07,140.96 L416.59,141.41 L417.11,141.79 L417.64,142.09 L418.16,142.33 L418.68,142.52 L419.20,142.67 L419.73,142.78 L420.25,142.87 L420.77,142.93 L421.30,142.98 L421.82,143.02 L422.34,143.04 L422.87,143.06 L423.39,143.07 L423.91,143.08 L424.43,143.09 L424.96,143.09 L425.48,143.09 L426.00,143.10 L426.53,143.10 L427.05,143.10 L427.05,143.10 L343.89,143.10 Z" fill="url(#hg9)" stroke="none"/>
<path d="M343.89,143.10 L344.41,143.10 L344.94,143.10 L345.46,143.10 L345.98,143.09 L346.51,143.09 L347.03,143.09 L347.55,143.08 L348.07,143.08 L348.60,143.07 L349.12,143.06 L349.64,143.05 L350.17,143.03 L350.69,143.00 L351.21,142.96 L351.74,142.92 L352.26,142.86 L352.78,142.78 L353.30,142.68 L353.83,142.55 L354.35,142.38 L354.87,142.18 L355.40,141.92 L355.92,141.61 L356.44,141.24 L356.97,140.79 L357.49,140.27 L358.01,139.66 L358.53,138.95 L359.06,138.16 L359.58,137.27 L360.10,136.28 L360.63,135.22 L361.15,134.07 L361.67,132.87 L362.20,131.61 L362.72,130.34 L363.24,129.06 L363.76,127.80 L364.29,126.60 L364.81,125.47 L365.33,124.44 L365.86,123.54 L366.38,122.77 L366.90,122.17 L367.43,121.72 L367.95,121.45 L368.47,121.33 L368.99,121.38 L369.52,121.56 L370.04,121.87 L370.56,122.29 L371.09,122.78 L371.61,123.32 L372.13,123.90 L372.66,124.48 L373.18,125.04 L373.70,125.57 L374.23,126.06 L374.75,126.48 L375.27,126.84 L375.79,127.14 L376.32,127.36 L376.84,127.51 L377.36,127.61 L377.89,127.64 L378.41,127.64 L378.93,127.59 L379.46,127.51 L379.98,127.41 L380.50,127.29 L381.02,127.16 L381.55,127.03 L382.07,126.90 L382.59,126.77 L383.12,126.65 L383.64,126.53 L384.16,126.42 L384.69,126.31 L385.21,126.21 L385.73,126.11 L386.25,126.01 L386.78,125.90 L387.30,125.80 L387.82,125.69 L388.35,125.57 L388.87,125.45 L389.39,125.32 L389.92,125.18 L390.44,125.04 L390.96,124.89 L391.48,124.73 L392.01,124.57 L392.53,124.42 L393.05,124.26 L393.58,124.11 L394.10,123.95 L394.62,123.81 L395.15,123.66 L395.67,123.52 L396.19,123.37 L396.71,123.21 L397.24,123.05 L397.76,122.86 L398.28,122.66 L398.81,122.41 L399.33,122.13 L399.85,121.81 L400.38,121.43 L400.90,121.01 L401.42,120.54 L401.95,120.02 L402.47,119.47 L402.99,118.89 L403.51,118.32 L404.04,117.76 L404.56,117.25 L405.08,116.81 L405.61,116.47 L406.13,116.25 L406.65,116.19 L407.18,116.29 L407.70,116.58 L408.22,117.06 L408.74,117.74 L409.27,118.62 L409.79,119.67 L410.31,120.89 L410.84,122.24 L411.36,123.71 L411.88,125.25 L412.41,126.83 L412.93,128.43 L413.45,130.00 L413.97,131.53 L414.50,132.99 L415.02,134.36 L415.54,135.62 L416.07,136.77 L416.59,137.79 L417.11,138.70 L417.64,139.49 L418.16,140.17 L418.68,140.74 L419.20,141.22 L419.73,141.62 L420.25,141.94 L420.77,142.20 L421.30,142.41 L421.82,142.58 L422.34,142.70 L422.87,142.80 L423.39,142.88 L423.91,142.94 L424.43,142.98 L424.96,143.01 L425.48,143.04 L426.00,143.05 L426.53,143.07 L427.05,143.07 L427.05,143.10 L343.89,143.10 Z" fill="url(#hg10)" stroke="none"/>
<path d="M343.89,143.10 L344.41,143.10 L344.94,143.10 L345.46,143.10 L345.98,143.10 L346.51,143.10 L347.03,143.10 L347.55,143.10 L348.07,143.10 L348.60,143.10 L349.12,143.10 L349.64,143.10 L350.17,143.10 L350.69,143.10 L351.21,143.10 L351.74,143.10 L352.26,143.10 L352.78,143.10 L353.30,143.10 L353.83,143.10 L354.35,143.09 L354.87,143.09 L355.40,143.08 L355.92,143.07 L356.44,143.05 L356.97,143.02 L357.49,142.97 L358.01,142.91 L358.53,142.81 L359.06,142.67 L359.58,142.47 L360.10,142.20 L360.63,141.82 L361.15,141.32 L361.67,140.67 L362.20,139.82 L362.72,138.75 L363.24,137.42 L363.76,135.81 L364.29,133.89 L364.81,131.66 L365.33,129.11 L365.86,126.27 L366.38,123.18 L366.90,119.91 L367.43,116.53 L367.95,113.14 L368.47,109.86 L368.99,106.80 L369.52,104.09 L370.04,101.83 L370.56,100.11 L371.09,98.99 L371.61,98.52 L372.13,98.69 L372.66,99.47 L373.18,100.81 L373.70,102.61 L374.23,104.78 L374.75,107.19 L375.27,109.74 L375.79,112.31 L376.32,114.80 L376.84,117.14 L377.36,119.26 L377.89,121.12 L378.41,122.70 L378.93,124.01 L379.46,125.06 L379.98,125.87 L380.50,126.49 L381.02,126.95 L381.55,127.29 L382.07,127.54 L382.59,127.75 L383.12,127.94 L383.64,128.14 L384.16,128.36 L384.69,128.62 L385.21,128.93 L385.73,129.30 L386.25,129.71 L386.78,130.19 L387.30,130.71 L387.82,131.27 L388.35,131.86 L388.87,132.48 L389.39,133.10 L389.92,133.74 L390.44,134.36 L390.96,134.95 L391.48,135.52 L392.01,136.03 L392.53,136.49 L393.05,136.87 L393.58,137.17 L394.10,137.36 L394.62,137.45 L395.15,137.41 L395.67,137.23 L396.19,136.91 L396.71,136.45 L397.24,135.84 L397.76,135.07 L398.28,134.16 L398.81,133.12 L399.33,131.97 L399.85,130.72 L400.38,129.40 L400.90,128.05 L401.42,126.70 L401.95,125.39 L402.47,124.17 L402.99,123.06 L403.51,122.11 L404.04,121.35 L404.56,120.81 L405.08,120.51 L405.61,120.46 L406.13,120.67 L406.65,121.12 L407.18,121.81 L407.70,122.71 L408.22,123.80 L408.74,125.03 L409.27,126.38 L409.79,127.81 L410.31,129.27 L410.84,130.73 L411.36,132.17 L411.88,133.55 L412.41,134.85 L412.93,136.06 L413.45,137.16 L413.97,138.14 L414.50,139.01 L415.02,139.76 L415.54,140.41 L416.07,140.96 L416.59,141.41 L417.11,141.79 L417.64,142.09 L418.16,142.33 L418.68,142.52 L419.20,142.67 L419.73,142.78 L420.25,142.87 L420.77,142.93 L421.30,142.98 L421.82,143.02 L422.34,143.04 L422.87,143.06 L423.39,143.07 L423.91,143.08 L424.43,143.09 L424.96,143.09 L425.48,143.09 L426.00,143.10 L426.53,143.10 L427.05,143.10" fill="none" stroke="#4545ea" stroke-width="0.70"/>
<path d="M343.89,143.10 L344.41,143.10 L344.94,143.10 L345.46,143.10 L345.98,143.09 L346.51,143.09 L347.03,143.09 L347.55,143.08 L348.07,143.08 L348.60,143.07 L349.12,143.06 L349.64,143.05 L350.17,143.03 L350.69,143.00 L351.21,142.96 L351.74,142.92 L352.26,142.86 L352.78,142.78 L353.30,142.68 L353.83,142.55 L354.35,142.38 L354.87,142.18 L355.40,141.92 L355.92,141.61 L356.44,141.24 L356.97,140.79 L357.49,140.27 L358.01,139.66 L358.53,138.95 L359.06,138.16 L359.58,137.27 L360.10,136.28 L360.63,135.22 L361.15,134.07 L361.67,132.87 L362.20,131.61 L362.72,130.34 L363.24,129.06 L363.76,127.80 L364.29,126.60 L364.81,125.47 L365.33,124.44 L365.86,123.54 L366.38,122.77 L366.90,122.17 L367.43,121.72 L367.95,121.45 L368.47,121.33 L368.99,121.38 L369.52,121.56 L370.04,121.87 L370.56,122.29 L371.09,122.78 L371.61,123.32 L372.13,123.90 L372.66,124.48 L373.18,125.04 L373.70,125.57 L374.23,126.06 L374.75,126.48 L375.27,126.84 L375.79,127.14 L376.32,127.36 L376.84,127.51 L377.36,127.61 L377.89,127.64 L378.41,127.64 L378.93,127.59 L379.46,127.51 L379.98,127.41 L380.50,127.29 L381.02,127.16 L381.55,127.03 L382.07,126.90 L382.59,126.77 L383.12,126.65 L383.64,126.53 L384.16,126.42 L384.69,126.31 L385.21,126.21 L385.73,126.11 L386.25,126.01 L386.78,125.90 L387.30,125.80 L387.82,125.69 L388.35,125.57 L388.87,125.45 L389.39,125.32 L389.92,125.18 L390.44,125.04 L390.96,124.89 L391.48,124.73 L392.01,124.57 L392.53,124.42 L393.05,124.26 L393.58,124.11 L394.10,123.95 L394.62,123.81 L395.15,123.66 L395.67,123.52 L396.19,123.37 L396.71,123.21 L397.24,123.05 L397.76,122.86 L398.28,122.66 L398.81,122.41 L399.33,122.13 L399.85,121.81 L400.38,121.43 L400.90,121.01 L401.42,120.54 L401.95,120.02 L402.47,119.47 L402.99,118.89 L403.51,118.32 L404.04,117.76 L404.56,117.25 L405.08,116.81 L405.61,116.47 L406.13,116.25 L406.65,116.19 L407.18,116.29 L407.70,116.58 L408.22,117.06 L408.74,117.74 L409.27,118.62 L409.79,119.67 L410.31,120.89 L410.84,122.24 L411.36,123.71 L411.88,125.25 L412.41,126.83 L412.93,128.43 L413.45,130.00 L413.97,131.53 L414.50,132.99 L415.02,134.36 L415.54,135.62 L416.07,136.77 L416.59,137.79 L417.11,138.70 L417.64,139.49 L418.16,140.17 L418.68,140.74 L419.20,141.22 L419.73,141.62 L420.25,141.94 L420.77,142.20 L421.30,142.41 L421.82,142.58 L422.34,142.70 L422.87,142.80 L423.39,142.88 L423.91,142.94 L424.43,142.98 L424.96,143.01 L425.48,143.04 L426.00,143.05 L426.53,143.07 L427.05,143.07" fill="none" stroke="#f8303e" stroke-width="0.80"/>
</g>
<rect x="344.20" y="92.50" width="83.20" height="50.60" fill="none" stroke="#222" stroke-width="1.1"/>
<line x1="341.40" y1="143.10" x2="344.20" y2="143.10" stroke="#222" stroke-width="0.9"/>
<text transform="translate(338.40,146.50) scale(1,1.120)" font-size="7.80" fill="#222" text-anchor="end" font-weight="normal" stroke="#222" stroke-width="0.10" >0</text>
<line x1="341.40" y1="126.00" x2="344.20" y2="126.00" stroke="#222" stroke-width="0.9"/>
<text transform="translate(341.20,129.40) scale(1,1.120)" font-size="7.80" fill="#222" text-anchor="end" font-weight="normal" stroke="#222" stroke-width="0.10" >0.02</text>
<line x1="341.40" y1="108.90" x2="344.20" y2="108.90" stroke="#222" stroke-width="0.9"/>
<text transform="translate(341.20,112.30) scale(1,1.120)" font-size="7.80" fill="#222" text-anchor="end" font-weight="normal" stroke="#222" stroke-width="0.10" >0.04</text>
<line x1="354.60" y1="143.10" x2="354.60" y2="145.30" stroke="#222" stroke-width="0.9"/>
<text transform="translate(354.60,153.70) scale(1,1.120)" font-size="7.80" fill="#222" text-anchor="middle" font-weight="normal" stroke="#222" stroke-width="0.10" >0</text>
<line x1="367.20" y1="143.10" x2="367.20" y2="145.30" stroke="#222" stroke-width="0.9"/>
<text transform="translate(367.20,153.70) scale(1,1.120)" font-size="7.80" fill="#222" text-anchor="middle" font-weight="normal" stroke="#222" stroke-width="0.10" >0.2</text>
<line x1="379.80" y1="143.10" x2="379.80" y2="145.30" stroke="#222" stroke-width="0.9"/>
<text transform="translate(379.80,153.70) scale(1,1.120)" font-size="7.80" fill="#222" text-anchor="middle" font-weight="normal" stroke="#222" stroke-width="0.10" >0.4</text>
<line x1="392.40" y1="143.10" x2="392.40" y2="145.30" stroke="#222" stroke-width="0.9"/>
<text transform="translate(392.40,153.70) scale(1,1.120)" font-size="7.80" fill="#222" text-anchor="middle" font-weight="normal" stroke="#222" stroke-width="0.10" >0.6</text>
<line x1="405.00" y1="143.10" x2="405.00" y2="145.30" stroke="#222" stroke-width="0.9"/>
<text transform="translate(405.00,153.70) scale(1,1.120)" font-size="7.80" fill="#222" text-anchor="middle" font-weight="normal" stroke="#222" stroke-width="0.10" >0.8</text>
<line x1="417.60" y1="143.10" x2="417.60" y2="145.30" stroke="#222" stroke-width="0.9"/>
<text transform="translate(417.60,153.70) scale(1,1.120)" font-size="7.80" fill="#222" text-anchor="middle" font-weight="normal" stroke="#222" stroke-width="0.10" >1.0</text>
<text transform="translate(319.30,138.00) rotate(-90) scale(1,1.2)" font-size="8.1" fill="#222" font-style="italic">P(<tspan>E</tspan><tspan font-size="4.9" dy="2.4">FRET</tspan><tspan dy="-2.4">)</tspan></text>
<text transform="translate(378.40,100.00) scale(1,1.120)" font-size="7.80" fill="#f8303e" text-anchor="start" font-weight="normal" stroke="#f8303e" stroke-width="0.10" >EC-84+SAM</text>
<text transform="translate(378.40,110.10) scale(1,1.120)" font-size="7.80" fill="#4545ea" text-anchor="start" font-weight="normal" stroke="#4545ea" stroke-width="0.10" >EC-84-SAM</text>
<linearGradient id="hg12" gradientUnits="userSpaceOnUse" x1="0" y1="178.00" x2="0" y2="224.00"><stop offset="0.00" stop-color="#3838c8" stop-opacity="1.00"/><stop offset="0.20" stop-color="#7c7cda" stop-opacity="1.00"/><stop offset="0.40" stop-color="#b4b4ec" stop-opacity="1.00"/><stop offset="0.62" stop-color="#dadaf6" stop-opacity="1.00"/><stop offset="1.00" stop-color="#ffffff" stop-opacity="1.00"/></linearGradient>
<clipPath id="hc1012"><rect x="204.70" y="173.50" width="82.70" height="50.70"/></clipPath>
<g clip-path="url(#hc1012)">
<path d="M203.44,224.20 L203.96,224.20 L204.49,224.19 L205.02,224.19 L205.54,224.19 L206.07,224.18 L206.59,224.18 L207.12,224.17 L207.64,224.16 L208.17,224.14 L208.69,224.12 L209.22,224.10 L209.75,224.07 L210.27,224.03 L210.80,223.98 L211.32,223.92 L211.85,223.84 L212.37,223.74 L212.90,223.62 L213.42,223.48 L213.95,223.30 L214.47,223.09 L215.00,222.84 L215.53,222.55 L216.05,222.20 L216.58,221.80 L217.10,221.34 L217.63,220.82 L218.15,220.22 L218.68,219.54 L219.20,218.79 L219.73,217.96 L220.26,217.05 L220.78,216.06 L221.31,215.00 L221.83,213.87 L222.36,212.67 L222.88,211.42 L223.41,210.12 L223.93,208.79 L224.46,207.45 L224.98,206.11 L225.51,204.79 L226.04,203.50 L226.56,202.27 L227.09,201.11 L227.61,200.03 L228.14,199.06 L228.66,198.21 L229.19,197.49 L229.71,196.91 L230.24,196.46 L230.77,196.17 L231.29,196.02 L231.82,196.01 L232.34,196.13 L232.87,196.37 L233.39,196.72 L233.92,197.17 L234.44,197.69 L234.97,198.28 L235.50,198.90 L236.02,199.54 L236.55,200.19 L237.07,200.83 L237.60,201.44 L238.12,202.01 L238.65,202.53 L239.17,202.99 L239.70,203.38 L240.22,203.71 L240.75,203.96 L241.28,204.15 L241.80,204.27 L242.33,204.33 L242.85,204.33 L243.38,204.30 L243.90,204.22 L244.43,204.12 L244.95,204.00 L245.48,203.87 L246.01,203.74 L246.53,203.62 L247.06,203.52 L247.58,203.43 L248.11,203.38 L248.63,203.35 L249.16,203.36 L249.68,203.39 L250.21,203.44 L250.73,203.52 L251.26,203.61 L251.79,203.69 L252.31,203.77 L252.84,203.82 L253.36,203.83 L253.89,203.79 L254.41,203.66 L254.94,203.44 L255.46,203.11 L255.99,202.65 L256.52,202.05 L257.04,201.29 L257.57,200.38 L258.09,199.31 L258.62,198.08 L259.14,196.71 L259.67,195.21 L260.19,193.61 L260.72,191.93 L261.25,190.20 L261.77,188.47 L262.30,186.76 L262.82,185.13 L263.35,183.60 L263.87,182.22 L264.40,181.03 L264.92,180.07 L265.45,179.37 L265.97,178.96 L266.50,178.89 L267.03,179.17 L267.55,179.84 L268.08,180.89 L268.60,182.34 L269.13,184.16 L269.65,186.32 L270.18,188.76 L270.70,191.44 L271.23,194.27 L271.76,197.19 L272.28,200.10 L272.81,202.95 L273.33,205.67 L273.86,208.22 L274.38,210.55 L274.91,212.66 L275.43,214.54 L275.96,216.18 L276.48,217.60 L277.01,218.81 L277.54,219.84 L278.06,220.70 L278.59,221.41 L279.11,222.00 L279.64,222.47 L280.16,222.86 L280.69,223.17 L281.21,223.41 L281.74,223.60 L282.27,223.75 L282.79,223.87 L283.32,223.95 L283.84,224.02 L284.37,224.07 L284.89,224.11 L285.42,224.13 L285.94,224.15 L286.47,224.17 L287.00,224.18 L287.00,224.20 L203.44,224.20 Z" fill="#e8e8f6" stroke="none"/>
<path d="M203.44,224.20 L203.96,224.20 L204.49,224.20 L205.02,224.19 L205.54,224.19 L206.07,224.19 L206.59,224.18 L207.12,224.18 L207.64,224.17 L208.17,224.16 L208.69,224.15 L209.22,224.13 L209.75,224.10 L210.27,224.07 L210.80,224.04 L211.32,223.99 L211.85,223.93 L212.37,223.85 L212.90,223.76 L213.42,223.65 L213.95,223.51 L214.47,223.34 L215.00,223.14 L215.53,222.89 L216.05,222.61 L216.58,222.27 L217.10,221.88 L217.63,221.43 L218.15,220.92 L218.68,220.33 L219.20,219.67 L219.73,218.93 L220.26,218.12 L220.78,217.22 L221.31,216.24 L221.83,215.19 L222.36,214.06 L222.88,212.87 L223.41,211.62 L223.93,210.32 L224.46,208.99 L224.98,207.64 L225.51,206.28 L226.04,204.94 L226.56,203.62 L227.09,202.36 L227.61,201.16 L228.14,200.04 L228.66,199.03 L229.19,198.13 L229.71,197.35 L230.24,196.71 L230.77,196.20 L231.29,195.85 L231.82,195.63 L232.34,195.56 L232.87,195.62 L233.39,195.80 L233.92,196.09 L234.44,196.48 L234.97,196.95 L235.50,197.49 L236.02,198.07 L236.55,198.68 L237.07,199.30 L237.60,199.91 L238.12,200.50 L238.65,201.06 L239.17,201.58 L239.70,202.04 L240.22,202.44 L240.75,202.78 L241.28,203.05 L241.80,203.26 L242.33,203.42 L242.85,203.52 L243.38,203.57 L243.90,203.57 L244.43,203.55 L244.95,203.50 L245.48,203.44 L246.01,203.38 L246.53,203.31 L247.06,203.26 L247.58,203.22 L248.11,203.20 L248.63,203.20 L249.16,203.23 L249.68,203.29 L250.21,203.36 L250.73,203.46 L251.26,203.56 L251.79,203.66 L252.31,203.74 L252.84,203.80 L253.36,203.82 L253.89,203.77 L254.41,203.65 L254.94,203.43 L255.46,203.10 L255.99,202.64 L256.52,202.04 L257.04,201.29 L257.57,200.38 L258.09,199.31 L258.62,198.08 L259.14,196.71 L259.67,195.21 L260.19,193.61 L260.72,191.93 L261.25,190.20 L261.77,188.47 L262.30,186.76 L262.82,185.13 L263.35,183.60 L263.87,182.22 L264.40,181.03 L264.92,180.07 L265.45,179.37 L265.97,178.96 L266.50,178.89 L267.03,179.17 L267.55,179.84 L268.08,180.89 L268.60,182.34 L269.13,184.16 L269.65,186.32 L270.18,188.76 L270.70,191.44 L271.23,194.27 L271.76,197.19 L272.28,200.10 L272.81,202.95 L273.33,205.67 L273.86,208.22 L274.38,210.55 L274.91,212.66 L275.43,214.54 L275.96,216.18 L276.48,217.60 L277.01,218.81 L277.54,219.84 L278.06,220.70 L278.59,221.41 L279.11,222.00 L279.64,222.47 L280.16,222.86 L280.69,223.17 L281.21,223.41 L281.74,223.60 L282.27,223.75 L282.79,223.87 L283.32,223.95 L283.84,224.02 L284.37,224.07 L284.89,224.11 L285.42,224.13 L285.94,224.15 L286.47,224.17 L287.00,224.18 L287.00,224.20 L203.44,224.20 Z" fill="url(#hg12)" stroke="none"/>
<path d="M203.44,224.20 L203.96,224.20 L204.49,224.19 L205.02,224.19 L205.54,224.19 L206.07,224.18 L206.59,224.18 L207.12,224.17 L207.64,224.16 L208.17,224.14 L208.69,224.12 L209.22,224.10 L209.75,224.07 L210.27,224.03 L210.80,223.98 L211.32,223.92 L211.85,223.84 L212.37,223.74 L212.90,223.62 L213.42,223.48 L213.95,223.30 L214.47,223.09 L215.00,222.84 L215.53,222.55 L216.05,222.20 L216.58,221.80 L217.10,221.34 L217.63,220.82 L218.15,220.22 L218.68,219.54 L219.20,218.79 L219.73,217.96 L220.26,217.05 L220.78,216.06 L221.31,215.00 L221.83,213.87 L222.36,212.67 L222.88,211.42 L223.41,210.12 L223.93,208.79 L224.46,207.45 L224.98,206.11 L225.51,204.79 L226.04,203.50 L226.56,202.27 L227.09,201.11 L227.61,200.03 L228.14,199.06 L228.66,198.21 L229.19,197.49 L229.71,196.91 L230.24,196.46 L230.77,196.17 L231.29,196.02 L231.82,196.01 L232.34,196.13 L232.87,196.37 L233.39,196.72 L233.92,197.17 L234.44,197.69 L234.97,198.28 L235.50,198.90 L236.02,199.54 L236.55,200.19 L237.07,200.83 L237.60,201.44 L238.12,202.01 L238.65,202.53 L239.17,202.99 L239.70,203.38 L240.22,203.71 L240.75,203.96 L241.28,204.15 L241.80,204.27 L242.33,204.33 L242.85,204.33 L243.38,204.30 L243.90,204.22 L244.43,204.12 L244.95,204.00 L245.48,203.87 L246.01,203.74 L246.53,203.62 L247.06,203.52 L247.58,203.43 L248.11,203.38 L248.63,203.35 L249.16,203.36 L249.68,203.39 L250.21,203.44 L250.73,203.52 L251.26,203.61 L251.79,203.69 L252.31,203.77 L252.84,203.82 L253.36,203.83 L253.89,203.79 L254.41,203.66 L254.94,203.44 L255.46,203.11 L255.99,202.65 L256.52,202.05 L257.04,201.29 L257.57,200.38 L258.09,199.31 L258.62,198.08 L259.14,196.71 L259.67,195.21 L260.19,193.61 L260.72,191.93 L261.25,190.20 L261.77,188.47 L262.30,186.76 L262.82,185.13 L263.35,183.60 L263.87,182.22 L264.40,181.03 L264.92,180.07 L265.45,179.37 L265.97,178.96 L266.50,178.89 L267.03,179.17 L267.55,179.84 L268.08,180.89 L268.60,182.34 L269.13,184.16 L269.65,186.32 L270.18,188.76 L270.70,191.44 L271.23,194.27 L271.76,197.19 L272.28,200.10 L272.81,202.95 L273.33,205.67 L273.86,208.22 L274.38,210.55 L274.91,212.66 L275.43,214.54 L275.96,216.18 L276.48,217.60 L277.01,218.81 L277.54,219.84 L278.06,220.70 L278.59,221.41 L279.11,222.00 L279.64,222.47 L280.16,222.86 L280.69,223.17 L281.21,223.41 L281.74,223.60 L282.27,223.75 L282.79,223.87 L283.32,223.95 L283.84,224.02 L284.37,224.07 L284.89,224.11 L285.42,224.13 L285.94,224.15 L286.47,224.17 L287.00,224.18" fill="none" stroke="#2a2a2a" stroke-width="0.70"/>
<path d="M203.44,224.20 L203.96,224.20 L204.49,224.20 L205.02,224.19 L205.54,224.19 L206.07,224.19 L206.59,224.18 L207.12,224.18 L207.64,224.17 L208.17,224.16 L208.69,224.15 L209.22,224.13 L209.75,224.10 L210.27,224.07 L210.80,224.04 L211.32,223.99 L211.85,223.93 L212.37,223.85 L212.90,223.76 L213.42,223.65 L213.95,223.51 L214.47,223.34 L215.00,223.14 L215.53,222.89 L216.05,222.61 L216.58,222.27 L217.10,221.88 L217.63,221.43 L218.15,220.92 L218.68,220.33 L219.20,219.67 L219.73,218.93 L220.26,218.12 L220.78,217.22 L221.31,216.24 L221.83,215.19 L222.36,214.06 L222.88,212.87 L223.41,211.62 L223.93,210.32 L224.46,208.99 L224.98,207.64 L225.51,206.28 L226.04,204.94 L226.56,203.62 L227.09,202.36 L227.61,201.16 L228.14,200.04 L228.66,199.03 L229.19,198.13 L229.71,197.35 L230.24,196.71 L230.77,196.20 L231.29,195.85 L231.82,195.63 L232.34,195.56 L232.87,195.62 L233.39,195.80 L233.92,196.09 L234.44,196.48 L234.97,196.95 L235.50,197.49 L236.02,198.07 L236.55,198.68 L237.07,199.30 L237.60,199.91 L238.12,200.50 L238.65,201.06 L239.17,201.58 L239.70,202.04 L240.22,202.44 L240.75,202.78 L241.28,203.05 L241.80,203.26 L242.33,203.42 L242.85,203.52 L243.38,203.57 L243.90,203.57 L244.43,203.55 L244.95,203.50 L245.48,203.44 L246.01,203.38 L246.53,203.31 L247.06,203.26 L247.58,203.22 L248.11,203.20 L248.63,203.20 L249.16,203.23 L249.68,203.29 L250.21,203.36 L250.73,203.46 L251.26,203.56 L251.79,203.66 L252.31,203.74 L252.84,203.80 L253.36,203.82 L253.89,203.77 L254.41,203.65 L254.94,203.43 L255.46,203.10 L255.99,202.64 L256.52,202.04 L257.04,201.29 L257.57,200.38 L258.09,199.31 L258.62,198.08 L259.14,196.71 L259.67,195.21 L260.19,193.61 L260.72,191.93 L261.25,190.20 L261.77,188.47 L262.30,186.76 L262.82,185.13 L263.35,183.60 L263.87,182.22 L264.40,181.03 L264.92,180.07 L265.45,179.37 L265.97,178.96 L266.50,178.89 L267.03,179.17 L267.55,179.84 L268.08,180.89 L268.60,182.34 L269.13,184.16 L269.65,186.32 L270.18,188.76 L270.70,191.44 L271.23,194.27 L271.76,197.19 L272.28,200.10 L272.81,202.95 L273.33,205.67 L273.86,208.22 L274.38,210.55 L274.91,212.66 L275.43,214.54 L275.96,216.18 L276.48,217.60 L277.01,218.81 L277.54,219.84 L278.06,220.70 L278.59,221.41 L279.11,222.00 L279.64,222.47 L280.16,222.86 L280.69,223.17 L281.21,223.41 L281.74,223.60 L282.27,223.75 L282.79,223.87 L283.32,223.95 L283.84,224.02 L284.37,224.07 L284.89,224.11 L285.42,224.13 L285.94,224.15 L286.47,224.17 L287.00,224.18" fill="none" stroke="#4545ea" stroke-width="0.80"/>
</g>
<rect x="204.70" y="173.50" width="82.70" height="50.70" fill="none" stroke="#222" stroke-width="1.1"/>
<line x1="201.90" y1="224.20" x2="204.70" y2="224.20" stroke="#222" stroke-width="0.9"/>
<text transform="translate(198.90,227.60) scale(1,1.120)" font-size="7.80" fill="#222" text-anchor="end" font-weight="normal" stroke="#222" stroke-width="0.10" >0</text>
<line x1="201.90" y1="202.70" x2="204.70" y2="202.70" stroke="#222" stroke-width="0.9"/>
<text transform="translate(201.70,206.10) scale(1,1.120)" font-size="7.80" fill="#222" text-anchor="end" font-weight="normal" stroke="#222" stroke-width="0.10" >0.02</text>
<line x1="201.90" y1="181.20" x2="204.70" y2="181.20" stroke="#222" stroke-width="0.9"/>
<text transform="translate(201.70,184.60) scale(1,1.120)" font-size="7.80" fill="#222" text-anchor="end" font-weight="normal" stroke="#222" stroke-width="0.10" >0.04</text>
<line x1="214.20" y1="224.20" x2="214.20" y2="226.40" stroke="#222" stroke-width="0.9"/>
<text transform="translate(214.20,234.80) scale(1,1.120)" font-size="7.80" fill="#222" text-anchor="middle" font-weight="normal" stroke="#222" stroke-width="0.10" >0</text>
<line x1="226.86" y1="224.20" x2="226.86" y2="226.40" stroke="#222" stroke-width="0.9"/>
<text transform="translate(226.86,234.80) scale(1,1.120)" font-size="7.80" fill="#222" text-anchor="middle" font-weight="normal" stroke="#222" stroke-width="0.10" >0.2</text>
<line x1="239.52" y1="224.20" x2="239.52" y2="226.40" stroke="#222" stroke-width="0.9"/>
<text transform="translate(239.52,234.80) scale(1,1.120)" font-size="7.80" fill="#222" text-anchor="middle" font-weight="normal" stroke="#222" stroke-width="0.10" >0.4</text>
<line x1="252.18" y1="224.20" x2="252.18" y2="226.40" stroke="#222" stroke-width="0.9"/>
<text transform="translate(252.18,234.80) scale(1,1.120)" font-size="7.80" fill="#222" text-anchor="middle" font-weight="normal" stroke="#222" stroke-width="0.10" >0.6</text>
<line x1="264.84" y1="224.20" x2="264.84" y2="226.40" stroke="#222" stroke-width="0.9"/>
<text transform="translate(264.84,234.80) scale(1,1.120)" font-size="7.80" fill="#222" text-anchor="middle" font-weight="normal" stroke="#222" stroke-width="0.10" >0.8</text>
<line x1="277.50" y1="224.20" x2="277.50" y2="226.40" stroke="#222" stroke-width="0.9"/>
<text transform="translate(277.50,234.80) scale(1,1.120)" font-size="7.80" fill="#222" text-anchor="middle" font-weight="normal" stroke="#222" stroke-width="0.10" >1.0</text>
<text transform="translate(179.90,219.00) rotate(-90) scale(1,1.2)" font-size="8.1" fill="#222" font-style="italic">P(<tspan>E</tspan><tspan font-size="4.9" dy="2.4">FRET</tspan><tspan dy="-2.4">)</tspan></text>
<text transform="translate(207.60,181.70) scale(1,1.120)" font-size="7.80" fill="#222" text-anchor="start" font-weight="normal" stroke="#222" stroke-width="0.10" >EC-86</text>
<text transform="translate(207.60,191.60) scale(1,1.120)" font-size="7.80" fill="#4545ea" text-anchor="start" font-weight="normal" stroke="#4545ea" stroke-width="0.10" >EC-86-SAM</text>
<linearGradient id="hg14" gradientUnits="userSpaceOnUse" x1="0" y1="178.00" x2="0" y2="224.00"><stop offset="0" stop-color="#f05566" stop-opacity="1.00"/><stop offset="1" stop-color="#ffffff" stop-opacity="1.00"/></linearGradient>
<linearGradient id="hg15" gradientUnits="userSpaceOnUse" x1="0" y1="178.00" x2="0" y2="224.00"><stop offset="0.00" stop-color="#3838c8" stop-opacity="0.95"/><stop offset="0.25" stop-color="#7c7cda" stop-opacity="0.90"/><stop offset="0.45" stop-color="#b4b4ec" stop-opacity="0.75"/><stop offset="0.65" stop-color="#dadaf6" stop-opacity="0.60"/><stop offset="1.00" stop-color="#ffffff" stop-opacity="0.30"/></linearGradient>
<clipPath id="hc1015"><rect x="344.30" y="173.40" width="83.10" height="50.80"/></clipPath>
<g clip-path="url(#hc1015)">
<path d="M343.64,224.20 L344.16,224.20 L344.69,224.20 L345.22,224.20 L345.74,224.20 L346.27,224.20 L346.79,224.20 L347.32,224.20 L347.84,224.20 L348.37,224.20 L348.89,224.20 L349.42,224.20 L349.95,224.20 L350.47,224.19 L351.00,224.19 L351.52,224.18 L352.05,224.17 L352.57,224.16 L353.10,224.14 L353.62,224.11 L354.15,224.06 L354.67,224.00 L355.20,223.91 L355.73,223.79 L356.25,223.62 L356.78,223.41 L357.30,223.12 L357.83,222.75 L358.35,222.29 L358.88,221.71 L359.40,221.01 L359.93,220.16 L360.46,219.16 L360.98,218.01 L361.51,216.71 L362.03,215.26 L362.56,213.68 L363.08,212.01 L363.61,210.27 L364.13,208.51 L364.66,206.79 L365.18,205.16 L365.71,203.68 L366.24,202.40 L366.76,201.36 L367.29,200.63 L367.81,200.21 L368.34,200.13 L368.86,200.40 L369.39,200.99 L369.91,201.87 L370.44,203.01 L370.97,204.37 L371.49,205.87 L372.02,207.47 L372.54,209.10 L373.07,210.72 L373.59,212.27 L374.12,213.72 L374.64,215.04 L375.17,216.21 L375.70,217.21 L376.22,218.03 L376.75,218.70 L377.27,219.20 L377.80,219.56 L378.32,219.78 L378.85,219.89 L379.37,219.90 L379.90,219.82 L380.42,219.67 L380.95,219.46 L381.48,219.20 L382.00,218.91 L382.53,218.58 L383.05,218.22 L383.58,217.85 L384.10,217.46 L384.63,217.06 L385.15,216.66 L385.68,216.26 L386.21,215.85 L386.73,215.45 L387.26,215.05 L387.78,214.66 L388.31,214.29 L388.83,213.92 L389.36,213.57 L389.88,213.24 L390.41,212.93 L390.93,212.63 L391.46,212.35 L391.99,212.08 L392.51,211.82 L393.04,211.57 L393.56,211.31 L394.09,211.05 L394.61,210.76 L395.14,210.43 L395.66,210.05 L396.19,209.60 L396.72,209.06 L397.24,208.41 L397.77,207.62 L398.29,206.69 L398.82,205.59 L399.34,204.30 L399.87,202.83 L400.39,201.17 L400.92,199.33 L401.45,197.32 L401.97,195.18 L402.50,192.93 L403.02,190.64 L403.55,188.34 L404.07,186.12 L404.60,184.03 L405.12,182.15 L405.65,180.55 L406.17,179.27 L406.70,178.39 L407.23,177.94 L407.75,177.95 L408.28,178.42 L408.80,179.37 L409.33,180.75 L409.85,182.54 L410.38,184.69 L410.90,187.13 L411.43,189.81 L411.96,192.64 L412.48,195.55 L413.01,198.48 L413.53,201.36 L414.06,204.14 L414.58,206.78 L415.11,209.23 L415.63,211.47 L416.16,213.49 L416.68,215.28 L417.21,216.85 L417.74,218.20 L418.26,219.36 L418.79,220.32 L419.31,221.12 L419.84,221.78 L420.36,222.31 L420.89,222.73 L421.41,223.07 L421.94,223.33 L422.47,223.53 L422.99,223.69 L423.52,223.81 L424.04,223.90 L424.57,223.97 L425.09,224.03 L425.62,224.07 L426.14,224.10 L426.67,224.12 L427.19,224.14 L427.19,224.20 L343.64,224.20 Z" fill="url(#hg14)" stroke="none"/>
<path d="M343.64,224.20 L344.16,224.20 L344.69,224.20 L345.22,224.20 L345.74,224.20 L346.27,224.20 L346.79,224.20 L347.32,224.20 L347.84,224.19 L348.37,224.19 L348.89,224.19 L349.42,224.19 L349.95,224.18 L350.47,224.18 L351.00,224.17 L351.52,224.16 L352.05,224.14 L352.57,224.12 L353.10,224.09 L353.62,224.06 L354.15,224.02 L354.67,223.97 L355.20,223.90 L355.73,223.81 L356.25,223.71 L356.78,223.58 L357.30,223.42 L357.83,223.22 L358.35,222.99 L358.88,222.72 L359.40,222.39 L359.93,222.01 L360.46,221.58 L360.98,221.07 L361.51,220.50 L362.03,219.86 L362.56,219.15 L363.08,218.36 L363.61,217.51 L364.13,216.58 L364.66,215.60 L365.18,214.56 L365.71,213.48 L366.24,212.37 L366.76,211.25 L367.29,210.12 L367.81,209.01 L368.34,207.93 L368.86,206.90 L369.39,205.94 L369.91,205.07 L370.44,204.29 L370.97,203.62 L371.49,203.07 L372.02,202.65 L372.54,202.35 L373.07,202.19 L373.59,202.14 L374.12,202.22 L374.64,202.40 L375.17,202.68 L375.70,203.03 L376.22,203.45 L376.75,203.92 L377.27,204.42 L377.80,204.93 L378.32,205.44 L378.85,205.94 L379.37,206.40 L379.90,206.83 L380.42,207.22 L380.95,207.55 L381.48,207.82 L382.00,208.05 L382.53,208.21 L383.05,208.33 L383.58,208.39 L384.10,208.42 L384.63,208.41 L385.15,208.37 L385.68,208.31 L386.21,208.24 L386.73,208.16 L387.26,208.08 L387.78,208.01 L388.31,207.95 L388.83,207.90 L389.36,207.88 L389.88,207.87 L390.41,207.89 L390.93,207.93 L391.46,207.98 L391.99,208.05 L392.51,208.13 L393.04,208.21 L393.56,208.29 L394.09,208.34 L394.61,208.37 L395.14,208.36 L395.66,208.29 L396.19,208.15 L396.72,207.93 L397.24,207.62 L397.77,207.21 L398.29,206.70 L398.82,206.07 L399.34,205.33 L399.87,204.49 L400.39,203.55 L400.92,202.52 L401.45,201.43 L401.97,200.27 L402.50,199.09 L403.02,197.89 L403.55,196.69 L404.07,195.53 L404.60,194.43 L405.12,193.41 L405.65,192.50 L406.17,191.73 L406.70,191.14 L407.23,190.76 L407.75,190.62 L408.28,190.75 L408.80,191.17 L409.33,191.90 L409.85,192.95 L410.38,194.31 L410.90,195.95 L411.43,197.84 L411.96,199.94 L412.48,202.19 L413.01,204.51 L413.53,206.86 L414.06,209.16 L414.58,211.35 L415.11,213.40 L415.63,215.27 L416.16,216.93 L416.68,218.37 L417.21,219.60 L417.74,220.63 L418.26,221.46 L418.79,222.13 L419.31,222.66 L419.84,223.06 L420.36,223.37 L420.89,223.60 L421.41,223.77 L421.94,223.89 L422.47,223.97 L422.99,224.04 L423.52,224.08 L424.04,224.11 L424.57,224.13 L425.09,224.15 L425.62,224.16 L426.14,224.17 L426.67,224.18 L427.19,224.18 L427.19,224.20 L343.64,224.20 Z" fill="url(#hg15)" stroke="none"/>
<path d="M343.64,224.20 L344.16,224.20 L344.69,224.20 L345.22,224.20 L345.74,224.20 L346.27,224.20 L346.79,224.20 L347.32,224.20 L347.84,224.19 L348.37,224.19 L348.89,224.19 L349.42,224.19 L349.95,224.18 L350.47,224.18 L351.00,224.17 L351.52,224.16 L352.05,224.14 L352.57,224.12 L353.10,224.09 L353.62,224.06 L354.15,224.02 L354.67,223.97 L355.20,223.90 L355.73,223.81 L356.25,223.71 L356.78,223.58 L357.30,223.42 L357.83,223.22 L358.35,222.99 L358.88,222.72 L359.40,222.39 L359.93,222.01 L360.46,221.58 L360.98,221.07 L361.51,220.50 L362.03,219.86 L362.56,219.15 L363.08,218.36 L363.61,217.51 L364.13,216.58 L364.66,215.60 L365.18,214.56 L365.71,213.48 L366.24,212.37 L366.76,211.25 L367.29,210.12 L367.81,209.01 L368.34,207.93 L368.86,206.90 L369.39,205.94 L369.91,205.07 L370.44,204.29 L370.97,203.62 L371.49,203.07 L372.02,202.65 L372.54,202.35 L373.07,202.19 L373.59,202.14 L374.12,202.22 L374.64,202.40 L375.17,202.68 L375.70,203.03 L376.22,203.45 L376.75,203.92 L377.27,204.42 L377.80,204.93 L378.32,205.44 L378.85,205.94 L379.37,206.40 L379.90,206.83 L380.42,207.22 L380.95,207.55 L381.48,207.82 L382.00,208.05 L382.53,208.21 L383.05,208.33 L383.58,208.39 L384.10,208.42 L384.63,208.41 L385.15,208.37 L385.68,208.31 L386.21,208.24 L386.73,208.16 L387.26,208.08 L387.78,208.01 L388.31,207.95 L388.83,207.90 L389.36,207.88 L389.88,207.87 L390.41,207.89 L390.93,207.93 L391.46,207.98 L391.99,208.05 L392.51,208.13 L393.04,208.21 L393.56,208.29 L394.09,208.34 L394.61,208.37 L395.14,208.36 L395.66,208.29 L396.19,208.15 L396.72,207.93 L397.24,207.62 L397.77,207.21 L398.29,206.70 L398.82,206.07 L399.34,205.33 L399.87,204.49 L400.39,203.55 L400.92,202.52 L401.45,201.43 L401.97,200.27 L402.50,199.09 L403.02,197.89 L403.55,196.69 L404.07,195.53 L404.60,194.43 L405.12,193.41 L405.65,192.50 L406.17,191.73 L406.70,191.14 L407.23,190.76 L407.75,190.62 L408.28,190.75 L408.80,191.17 L409.33,191.90 L409.85,192.95 L410.38,194.31 L410.90,195.95 L411.43,197.84 L411.96,199.94 L412.48,202.19 L413.01,204.51 L413.53,206.86 L414.06,209.16 L414.58,211.35 L415.11,213.40 L415.63,215.27 L416.16,216.93 L416.68,218.37 L417.21,219.60 L417.74,220.63 L418.26,221.46 L418.79,222.13 L419.31,222.66 L419.84,223.06 L420.36,223.37 L420.89,223.60 L421.41,223.77 L421.94,223.89 L422.47,223.97 L422.99,224.04 L423.52,224.08 L424.04,224.11 L424.57,224.13 L425.09,224.15 L425.62,224.16 L426.14,224.17 L426.67,224.18 L427.19,224.18" fill="none" stroke="#4545ea" stroke-width="0.70"/>
<path d="M343.64,224.20 L344.16,224.20 L344.69,224.20 L345.22,224.20 L345.74,224.20 L346.27,224.20 L346.79,224.20 L347.32,224.20 L347.84,224.20 L348.37,224.20 L348.89,224.20 L349.42,224.20 L349.95,224.20 L350.47,224.19 L351.00,224.19 L351.52,224.18 L352.05,224.17 L352.57,224.16 L353.10,224.14 L353.62,224.11 L354.15,224.06 L354.67,224.00 L355.20,223.91 L355.73,223.79 L356.25,223.62 L356.78,223.41 L357.30,223.12 L357.83,222.75 L358.35,222.29 L358.88,221.71 L359.40,221.01 L359.93,220.16 L360.46,219.16 L360.98,218.01 L361.51,216.71 L362.03,215.26 L362.56,213.68 L363.08,212.01 L363.61,210.27 L364.13,208.51 L364.66,206.79 L365.18,205.16 L365.71,203.68 L366.24,202.40 L366.76,201.36 L367.29,200.63 L367.81,200.21 L368.34,200.13 L368.86,200.40 L369.39,200.99 L369.91,201.87 L370.44,203.01 L370.97,204.37 L371.49,205.87 L372.02,207.47 L372.54,209.10 L373.07,210.72 L373.59,212.27 L374.12,213.72 L374.64,215.04 L375.17,216.21 L375.70,217.21 L376.22,218.03 L376.75,218.70 L377.27,219.20 L377.80,219.56 L378.32,219.78 L378.85,219.89 L379.37,219.90 L379.90,219.82 L380.42,219.67 L380.95,219.46 L381.48,219.20 L382.00,218.91 L382.53,218.58 L383.05,218.22 L383.58,217.85 L384.10,217.46 L384.63,217.06 L385.15,216.66 L385.68,216.26 L386.21,215.85 L386.73,215.45 L387.26,215.05 L387.78,214.66 L388.31,214.29 L388.83,213.92 L389.36,213.57 L389.88,213.24 L390.41,212.93 L390.93,212.63 L391.46,212.35 L391.99,212.08 L392.51,211.82 L393.04,211.57 L393.56,211.31 L394.09,211.05 L394.61,210.76 L395.14,210.43 L395.66,210.05 L396.19,209.60 L396.72,209.06 L397.24,208.41 L397.77,207.62 L398.29,206.69 L398.82,205.59 L399.34,204.30 L399.87,202.83 L400.39,201.17 L400.92,199.33 L401.45,197.32 L401.97,195.18 L402.50,192.93 L403.02,190.64 L403.55,188.34 L404.07,186.12 L404.60,184.03 L405.12,182.15 L405.65,180.55 L406.17,179.27 L406.70,178.39 L407.23,177.94 L407.75,177.95 L408.28,178.42 L408.80,179.37 L409.33,180.75 L409.85,182.54 L410.38,184.69 L410.90,187.13 L411.43,189.81 L411.96,192.64 L412.48,195.55 L413.01,198.48 L413.53,201.36 L414.06,204.14 L414.58,206.78 L415.11,209.23 L415.63,211.47 L416.16,213.49 L416.68,215.28 L417.21,216.85 L417.74,218.20 L418.26,219.36 L418.79,220.32 L419.31,221.12 L419.84,221.78 L420.36,222.31 L420.89,222.73 L421.41,223.07 L421.94,223.33 L422.47,223.53 L422.99,223.69 L423.52,223.81 L424.04,223.90 L424.57,223.97 L425.09,224.03 L425.62,224.07 L426.14,224.10 L426.67,224.12 L427.19,224.14" fill="none" stroke="#f8303e" stroke-width="0.80"/>
</g>
<rect x="344.30" y="173.40" width="83.10" height="50.80" fill="none" stroke="#222" stroke-width="1.1"/>
<line x1="341.50" y1="224.20" x2="344.30" y2="224.20" stroke="#222" stroke-width="0.9"/>
<text transform="translate(338.50,227.60) scale(1,1.120)" font-size="7.80" fill="#222" text-anchor="end" font-weight="normal" stroke="#222" stroke-width="0.10" >0</text>
<line x1="341.50" y1="198.70" x2="344.30" y2="198.70" stroke="#222" stroke-width="0.9"/>
<text transform="translate(341.30,202.10) scale(1,1.120)" font-size="7.80" fill="#222" text-anchor="end" font-weight="normal" stroke="#222" stroke-width="0.10" >0.03</text>
<line x1="341.50" y1="173.20" x2="344.30" y2="173.20" stroke="#222" stroke-width="0.9"/>
<text transform="translate(341.30,176.60) scale(1,1.120)" font-size="7.80" fill="#222" text-anchor="end" font-weight="normal" stroke="#222" stroke-width="0.10" >0.06</text>
<line x1="354.40" y1="224.20" x2="354.40" y2="226.40" stroke="#222" stroke-width="0.9"/>
<text transform="translate(354.40,234.80) scale(1,1.120)" font-size="7.80" fill="#222" text-anchor="middle" font-weight="normal" stroke="#222" stroke-width="0.10" >0</text>
<line x1="367.06" y1="224.20" x2="367.06" y2="226.40" stroke="#222" stroke-width="0.9"/>
<text transform="translate(367.06,234.80) scale(1,1.120)" font-size="7.80" fill="#222" text-anchor="middle" font-weight="normal" stroke="#222" stroke-width="0.10" >0.2</text>
<line x1="379.72" y1="224.20" x2="379.72" y2="226.40" stroke="#222" stroke-width="0.9"/>
<text transform="translate(379.72,234.80) scale(1,1.120)" font-size="7.80" fill="#222" text-anchor="middle" font-weight="normal" stroke="#222" stroke-width="0.10" >0.4</text>
<line x1="392.38" y1="224.20" x2="392.38" y2="226.40" stroke="#222" stroke-width="0.9"/>
<text transform="translate(392.38,234.80) scale(1,1.120)" font-size="7.80" fill="#222" text-anchor="middle" font-weight="normal" stroke="#222" stroke-width="0.10" >0.6</text>
<line x1="405.04" y1="224.20" x2="405.04" y2="226.40" stroke="#222" stroke-width="0.9"/>
<text transform="translate(405.04,234.80) scale(1,1.120)" font-size="7.80" fill="#222" text-anchor="middle" font-weight="normal" stroke="#222" stroke-width="0.10" >0.8</text>
<line x1="417.70" y1="224.20" x2="417.70" y2="226.40" stroke="#222" stroke-width="0.9"/>
<text transform="translate(417.70,234.80) scale(1,1.120)" font-size="7.80" fill="#222" text-anchor="middle" font-weight="normal" stroke="#222" stroke-width="0.10" >1.0</text>
<text transform="translate(319.30,219.00) rotate(-90) scale(1,1.2)" font-size="8.1" fill="#222" font-style="italic">P(<tspan>E</tspan><tspan font-size="4.9" dy="2.4">FRET</tspan><tspan dy="-2.4">)</tspan></text>
<text transform="translate(350.10,181.80) scale(1,1.120)" font-size="7.80" fill="#f8303e" text-anchor="start" font-weight="normal" stroke="#f8303e" stroke-width="0.10" >EC-86+SAM</text>
<text transform="translate(350.10,191.30) scale(1,1.120)" font-size="7.80" fill="#4545ea" text-anchor="start" font-weight="normal" stroke="#4545ea" stroke-width="0.10" >EC-86-SAM</text>
<text x="231.50" y="244.6" font-size="8.6" fill="#222"><tspan font-style="italic">E</tspan><tspan font-style="italic" font-size="5.2" dy="2.9">FRET</tspan></text>
<text x="371.00" y="244.6" font-size="8.6" fill="#222"><tspan font-style="italic">E</tspan><tspan font-style="italic" font-size="5.2" dy="2.9">FRET</tspan></text>
<defs><filter id="bl2" x="-50%" y="-50%" width="200%" height="200%"><feGaussianBlur stdDeviation="2.1"/></filter></defs>
<clipPath id="hm1"><rect x="481.50" y="11.20" width="51.00" height="52.00"/></clipPath>
<g clip-path="url(#hm1)"><g filter="url(#jet)">
<rect x="473.50" y="3.20" width="67.00" height="68.00" fill="#000"/>
<ellipse cx="0" cy="0" rx="12.90" ry="8.25" fill="url(#gp100_2)" transform="translate(495.30,48.60) rotate(-46.0)" style="mix-blend-mode:lighten"/>
<ellipse cx="0" cy="0" rx="10.50" ry="5.40" fill="url(#gp14_2)" transform="translate(500.50,43.00) rotate(-45.0)" style="mix-blend-mode:lighten"/>
</g></g>
<line x1="481.20" y1="63.44" x2="532.80" y2="11.36" stroke="#000" stroke-opacity="0.08" stroke-width="0.6"/>
<rect x="481.50" y="11.20" width="51.00" height="52.00" fill="none" stroke="#333" stroke-width="1.0"/>
<line x1="478.90" y1="59.10" x2="481.50" y2="59.10" stroke="#222" stroke-width="0.9"/>
<text transform="translate(478.30,62.40) scale(1,1.120)" font-size="7.60" fill="#222" text-anchor="end" font-weight="normal" stroke="#222" stroke-width="0.10" >0</text>
<line x1="485.50" y1="63.20" x2="485.50" y2="65.60" stroke="#222" stroke-width="0.9"/>
<text transform="translate(485.50,73.70) scale(1,1.120)" font-size="7.60" fill="#222" text-anchor="middle" font-weight="normal" stroke="#222" stroke-width="0.10" >0</text>
<line x1="478.90" y1="37.40" x2="481.50" y2="37.40" stroke="#222" stroke-width="0.9"/>
<text transform="translate(478.30,40.70) scale(1,1.120)" font-size="7.60" fill="#222" text-anchor="end" font-weight="normal" stroke="#222" stroke-width="0.10" >0.5</text>
<line x1="507.00" y1="63.20" x2="507.00" y2="65.60" stroke="#222" stroke-width="0.9"/>
<text transform="translate(507.00,73.70) scale(1,1.120)" font-size="7.60" fill="#222" text-anchor="middle" font-weight="normal" stroke="#222" stroke-width="0.10" >0.5</text>
<line x1="478.90" y1="15.70" x2="481.50" y2="15.70" stroke="#222" stroke-width="0.9"/>
<text transform="translate(478.30,19.00) scale(1,1.120)" font-size="7.60" fill="#222" text-anchor="end" font-weight="normal" stroke="#222" stroke-width="0.10" >1.0</text>
<line x1="528.50" y1="63.20" x2="528.50" y2="65.60" stroke="#222" stroke-width="0.9"/>
<text transform="translate(528.50,73.70) scale(1,1.120)" font-size="7.60" fill="#222" text-anchor="middle" font-weight="normal" stroke="#222" stroke-width="0.10" >1.0</text>
<text transform="translate(485.80,19.90) scale(1,1.120)" font-size="7.70" fill="#222" text-anchor="start" font-weight="normal" stroke="#222" stroke-width="0.10" >EC-83</text>
<text transform="translate(466.90,39.30) rotate(-90) scale(1,1.15)" font-size="7.55" fill="#222" stroke="#222" stroke-width="0.1" text-anchor="middle">Final FRET</text>
<clipPath id="hm2"><rect x="557.70" y="11.20" width="50.80" height="52.00"/></clipPath>
<g clip-path="url(#hm2)"><g filter="url(#jet)">
<rect x="549.70" y="3.20" width="66.80" height="68.00" fill="#000"/>
<path d="M561.0,57.0 L562.0,48.0 L565.0,40.0 L570.0,33.0 L578.0,26.0 L587.0,21.0 L595.0,20.0 L597.0,24.0 L601.0,28.0 L602.0,38.0 L599.0,46.0 L593.0,52.5 L583.0,57.0 L575.0,60.0 L565.0,60.0 Z" fill="#282828" filter="url(#bl2)" style="mix-blend-mode:lighten"/>
<path d="M565.0,40.0 L566.5,27.0 L570.0,22.5 L578.0,20.5 L587.0,20.0 L580.0,27.0 L572.0,33.0 Z" fill="#1e1e1e" filter="url(#bl2)" style="mix-blend-mode:lighten"/>
<path d="M597.0,27.0 L600.0,21.0 L604.0,18.5 L606.0,20.0 L603.0,24.0 L599.0,28.0 Z" fill="#1a1a1a" filter="url(#bl2)" style="mix-blend-mode:lighten"/>
<ellipse cx="0" cy="0" rx="17.40" ry="12.60" fill="url(#gp100_2)" transform="translate(571.50,49.50) rotate(-60.0)" style="mix-blend-mode:lighten"/>
<ellipse cx="0" cy="0" rx="19.50" ry="16.50" fill="url(#gp46_2)" transform="translate(577.00,42.00) rotate(-30.0)" style="mix-blend-mode:lighten"/>
<ellipse cx="0" cy="0" rx="9.00" ry="9.00" fill="url(#gp52_2)" transform="translate(573.00,42.00) rotate(0.0)" style="mix-blend-mode:lighten"/>
<ellipse cx="0" cy="0" rx="10.50" ry="7.50" fill="url(#gp44_2)" transform="translate(582.00,46.00) rotate(0.0)" style="mix-blend-mode:lighten"/>
<ellipse cx="0" cy="0" rx="7.50" ry="7.50" fill="url(#gp50_2)" transform="translate(583.60,45.40) rotate(0.0)" style="mix-blend-mode:lighten"/>
<ellipse cx="0" cy="0" rx="10.50" ry="8.40" fill="url(#gp30_2)" transform="translate(584.10,27.30) rotate(0.0)" style="mix-blend-mode:lighten"/>
<ellipse cx="0" cy="0" rx="10.50" ry="9.00" fill="url(#gp30_2)" transform="translate(594.60,36.50) rotate(0.0)" style="mix-blend-mode:lighten"/>
<ellipse cx="0" cy="0" rx="9.00" ry="6.00" fill="url(#gp26_2)" transform="translate(588.00,26.00) rotate(0.0)" style="mix-blend-mode:lighten"/>
<ellipse cx="0" cy="0" rx="9.00" ry="7.50" fill="url(#gp24_2)" transform="translate(578.00,32.00) rotate(0.0)" style="mix-blend-mode:lighten"/>
<ellipse cx="0" cy="0" rx="9.00" ry="7.50" fill="url(#gp24_2)" transform="translate(591.00,44.00) rotate(0.0)" style="mix-blend-mode:lighten"/>
<ellipse cx="0" cy="0" rx="7.50" ry="7.50" fill="url(#gp26_2)" transform="translate(598.00,31.00) rotate(0.0)" style="mix-blend-mode:lighten"/>
</g></g>
<line x1="557.40" y1="63.44" x2="609.00" y2="11.36" stroke="#000" stroke-opacity="0.08" stroke-width="0.6"/>
<rect x="557.70" y="11.20" width="50.80" height="52.00" fill="none" stroke="#333" stroke-width="1.0"/>
<line x1="555.10" y1="59.10" x2="557.70" y2="59.10" stroke="#222" stroke-width="0.9"/>
<text transform="translate(554.50,62.40) scale(1,1.120)" font-size="7.60" fill="#222" text-anchor="end" font-weight="normal" stroke="#222" stroke-width="0.10" >0</text>
<line x1="561.70" y1="63.20" x2="561.70" y2="65.60" stroke="#222" stroke-width="0.9"/>
<text transform="translate(561.70,73.70) scale(1,1.120)" font-size="7.60" fill="#222" text-anchor="middle" font-weight="normal" stroke="#222" stroke-width="0.10" >0</text>
<line x1="555.10" y1="37.40" x2="557.70" y2="37.40" stroke="#222" stroke-width="0.9"/>
<text transform="translate(554.50,40.70) scale(1,1.120)" font-size="7.60" fill="#222" text-anchor="end" font-weight="normal" stroke="#222" stroke-width="0.10" >0.5</text>
<line x1="583.20" y1="63.20" x2="583.20" y2="65.60" stroke="#222" stroke-width="0.9"/>
<text transform="translate(583.20,73.70) scale(1,1.120)" font-size="7.60" fill="#222" text-anchor="middle" font-weight="normal" stroke="#222" stroke-width="0.10" >0.5</text>
<line x1="555.10" y1="15.70" x2="557.70" y2="15.70" stroke="#222" stroke-width="0.9"/>
<text transform="translate(554.50,19.00) scale(1,1.120)" font-size="7.60" fill="#222" text-anchor="end" font-weight="normal" stroke="#222" stroke-width="0.10" >1.0</text>
<line x1="604.70" y1="63.20" x2="604.70" y2="65.60" stroke="#222" stroke-width="0.9"/>
<text transform="translate(604.70,73.70) scale(1,1.120)" font-size="7.60" fill="#222" text-anchor="middle" font-weight="normal" stroke="#222" stroke-width="0.10" >1.0</text>
<text transform="translate(561.60,19.90) scale(1,1.120)" font-size="7.50" fill="#ff1e2a" text-anchor="start" font-weight="bold" stroke="#ff1e2a" stroke-width="0.10" >+SAM</text>
<text transform="translate(607.00,62.20) scale(1,1.120)" font-size="7.70" fill="#000" text-anchor="end" font-weight="normal" stroke="#000" stroke-width="0.10" >49% dyn</text>
<clipPath id="hm3"><rect x="632.30" y="11.20" width="51.00" height="52.00"/></clipPath>
<g clip-path="url(#hm3)"><g filter="url(#jet)">
<rect x="624.30" y="3.20" width="67.00" height="68.00" fill="#000"/>
<ellipse cx="0" cy="0" rx="11.70" ry="8.25" fill="url(#gp102_2)" transform="translate(647.60,46.60) rotate(-45.0)" style="mix-blend-mode:lighten"/>
<ellipse cx="0" cy="0" rx="7.50" ry="4.80" fill="url(#gp10_2)" transform="translate(652.00,42.00) rotate(-45.0)" style="mix-blend-mode:lighten"/>
</g></g>
<line x1="632.00" y1="63.44" x2="683.60" y2="11.36" stroke="#000" stroke-opacity="0.08" stroke-width="0.6"/>
<rect x="632.30" y="11.20" width="51.00" height="52.00" fill="none" stroke="#333" stroke-width="1.0"/>
<line x1="629.70" y1="59.10" x2="632.30" y2="59.10" stroke="#222" stroke-width="0.9"/>
<text transform="translate(629.10,62.40) scale(1,1.120)" font-size="7.60" fill="#222" text-anchor="end" font-weight="normal" stroke="#222" stroke-width="0.10" >0</text>
<line x1="636.30" y1="63.20" x2="636.30" y2="65.60" stroke="#222" stroke-width="0.9"/>
<text transform="translate(636.30,73.70) scale(1,1.120)" font-size="7.60" fill="#222" text-anchor="middle" font-weight="normal" stroke="#222" stroke-width="0.10" >0</text>
<line x1="629.70" y1="37.40" x2="632.30" y2="37.40" stroke="#222" stroke-width="0.9"/>
<text transform="translate(629.10,40.70) scale(1,1.120)" font-size="7.60" fill="#222" text-anchor="end" font-weight="normal" stroke="#222" stroke-width="0.10" >0.5</text>
<line x1="657.80" y1="63.20" x2="657.80" y2="65.60" stroke="#222" stroke-width="0.9"/>
<text transform="translate(657.80,73.70) scale(1,1.120)" font-size="7.60" fill="#222" text-anchor="middle" font-weight="normal" stroke="#222" stroke-width="0.10" >0.5</text>
<line x1="629.70" y1="15.70" x2="632.30" y2="15.70" stroke="#222" stroke-width="0.9"/>
<text transform="translate(629.10,19.00) scale(1,1.120)" font-size="7.60" fill="#222" text-anchor="end" font-weight="normal" stroke="#222" stroke-width="0.10" >1.0</text>
<line x1="679.30" y1="63.20" x2="679.30" y2="65.60" stroke="#222" stroke-width="0.9"/>
<text transform="translate(679.30,73.70) scale(1,1.120)" font-size="7.60" fill="#222" text-anchor="middle" font-weight="normal" stroke="#222" stroke-width="0.10" >1.0</text>
<text transform="translate(636.50,20.10) scale(1,1.120)" font-size="7.50" fill="#3c3ce6" text-anchor="start" font-weight="bold" stroke="#3c3ce6" stroke-width="0.10" >-SAM</text>
<clipPath id="hm4"><rect x="481.50" y="92.20" width="51.00" height="51.00"/></clipPath>
<g clip-path="url(#hm4)"><g filter="url(#jet)">
<rect x="473.50" y="84.20" width="67.00" height="67.00" fill="#000"/>
<path d="M486.0,134.0 L486.0,122.0 L489.0,113.0 L494.0,106.5 L500.0,102.0 L506.0,99.5 L512.0,97.5 L520.0,96.5 L527.0,96.0 L529.0,104.0 L528.0,113.0 L525.5,126.0 L519.5,132.0 L512.0,134.5 L505.0,137.5 L495.0,139.0 L489.0,139.0 Z" fill="#282828" filter="url(#bl2)" style="mix-blend-mode:lighten"/>
<ellipse cx="0" cy="0" rx="19.20" ry="12.60" fill="url(#gp105_2)" transform="translate(496.20,129.40) rotate(-35.0)" style="mix-blend-mode:lighten"/>
<ellipse cx="0" cy="0" rx="18.00" ry="22.50" fill="url(#gp42_2)" transform="translate(497.00,123.00) rotate(0.0)" style="mix-blend-mode:lighten"/>
<ellipse cx="0" cy="0" rx="10.50" ry="16.50" fill="url(#gp42_2)" transform="translate(494.50,116.00) rotate(0.0)" style="mix-blend-mode:lighten"/>
<ellipse cx="0" cy="0" rx="9.00" ry="9.00" fill="url(#gp38_2)" transform="translate(495.70,113.60) rotate(0.0)" style="mix-blend-mode:lighten"/>
<ellipse cx="0" cy="0" rx="15.00" ry="12.00" fill="url(#gp46_2)" transform="translate(507.00,126.50) rotate(0.0)" style="mix-blend-mode:lighten"/>
<ellipse cx="0" cy="0" rx="18.00" ry="14.40" fill="url(#gp77_2)" transform="translate(511.80,106.10) rotate(-20.0)" style="mix-blend-mode:lighten"/>
<ellipse cx="0" cy="0" rx="15.00" ry="18.00" fill="url(#gp77_2)" transform="translate(518.70,114.20) rotate(-15.0)" style="mix-blend-mode:lighten"/>
<ellipse cx="0" cy="0" rx="19.50" ry="19.50" fill="url(#gp42_2)" transform="translate(515.00,110.00) rotate(0.0)" style="mix-blend-mode:lighten"/>
<ellipse cx="0" cy="0" rx="10.50" ry="10.50" fill="url(#gp40_2)" transform="translate(506.00,107.50) rotate(0.0)" style="mix-blend-mode:lighten"/>
<ellipse cx="0" cy="0" rx="10.50" ry="10.50" fill="url(#gp38_2)" transform="translate(519.00,122.00) rotate(0.0)" style="mix-blend-mode:lighten"/>
</g></g>
<line x1="481.20" y1="143.44" x2="532.80" y2="91.36" stroke="#000" stroke-opacity="0.08" stroke-width="0.6"/>
<rect x="481.50" y="92.20" width="51.00" height="51.00" fill="none" stroke="#333" stroke-width="1.0"/>
<line x1="478.90" y1="139.10" x2="481.50" y2="139.10" stroke="#222" stroke-width="0.9"/>
<text transform="translate(478.30,142.40) scale(1,1.120)" font-size="7.60" fill="#222" text-anchor="end" font-weight="normal" stroke="#222" stroke-width="0.10" >0</text>
<line x1="485.50" y1="143.20" x2="485.50" y2="145.60" stroke="#222" stroke-width="0.9"/>
<text transform="translate(485.50,153.70) scale(1,1.120)" font-size="7.60" fill="#222" text-anchor="middle" font-weight="normal" stroke="#222" stroke-width="0.10" >0</text>
<line x1="478.90" y1="117.40" x2="481.50" y2="117.40" stroke="#222" stroke-width="0.9"/>
<text transform="translate(478.30,120.70) scale(1,1.120)" font-size="7.60" fill="#222" text-anchor="end" font-weight="normal" stroke="#222" stroke-width="0.10" >0.5</text>
<line x1="507.00" y1="143.20" x2="507.00" y2="145.60" stroke="#222" stroke-width="0.9"/>
<text transform="translate(507.00,153.70) scale(1,1.120)" font-size="7.60" fill="#222" text-anchor="middle" font-weight="normal" stroke="#222" stroke-width="0.10" >0.5</text>
<line x1="478.90" y1="95.70" x2="481.50" y2="95.70" stroke="#222" stroke-width="0.9"/>
<text transform="translate(478.30,99.00) scale(1,1.120)" font-size="7.60" fill="#222" text-anchor="end" font-weight="normal" stroke="#222" stroke-width="0.10" >1.0</text>
<line x1="528.50" y1="143.20" x2="528.50" y2="145.60" stroke="#222" stroke-width="0.9"/>
<text transform="translate(528.50,153.70) scale(1,1.120)" font-size="7.60" fill="#222" text-anchor="middle" font-weight="normal" stroke="#222" stroke-width="0.10" >1.0</text>
<text transform="translate(483.30,99.80) scale(1,1.120)" font-size="7.70" fill="#222" text-anchor="start" font-weight="normal" stroke="#222" stroke-width="0.10" >EC-84</text>
<text transform="translate(528.80,142.40) scale(1,1.120)" font-size="7.70" fill="#000" text-anchor="end" font-weight="normal" stroke="#000" stroke-width="0.10" >60% dyn</text>
<text transform="translate(466.90,117.60) rotate(-90) scale(1,1.15)" font-size="7.55" fill="#222" stroke="#222" stroke-width="0.1" text-anchor="middle">Final FRET</text>
<clipPath id="hm5"><rect x="557.70" y="92.20" width="50.80" height="51.00"/></clipPath>
<g clip-path="url(#hm5)"><g filter="url(#jet)">
<rect x="549.70" y="84.20" width="66.80" height="67.00" fill="#000"/>
<path d="M561.0,136.0 L563.0,129.0 L566.0,122.0 L569.0,115.0 L572.0,108.0 L577.0,103.0 L583.0,99.5 L590.0,97.5 L596.0,96.0 L602.0,95.7 L605.0,99.0 L604.5,106.0 L602.0,113.0 L601.0,122.0 L596.0,129.0 L588.0,133.0 L580.0,136.5 L570.0,139.5 L564.0,139.5 Z" fill="#282828" filter="url(#bl2)" style="mix-blend-mode:lighten"/>
<ellipse cx="0" cy="0" rx="15.60" ry="11.40" fill="url(#gp98_2)" transform="translate(586.70,107.30) rotate(-30.0)" style="mix-blend-mode:lighten"/>
<ellipse cx="0" cy="0" rx="11.40" ry="15.60" fill="url(#gp98_2)" transform="translate(595.20,114.10) rotate(15.0)" style="mix-blend-mode:lighten"/>
<ellipse cx="0" cy="0" rx="13.80" ry="10.20" fill="url(#gp96_2)" transform="translate(571.20,130.70) rotate(-35.0)" style="mix-blend-mode:lighten"/>
<ellipse cx="0" cy="0" rx="12.60" ry="11.40" fill="url(#gp72_2)" transform="translate(582.30,127.50) rotate(0.0)" style="mix-blend-mode:lighten"/>
<ellipse cx="0" cy="0" rx="11.40" ry="10.20" fill="url(#gp62_2)" transform="translate(574.40,119.10) rotate(0.0)" style="mix-blend-mode:lighten"/>
<ellipse cx="0" cy="0" rx="9.00" ry="7.50" fill="url(#gp40_2)" transform="translate(592.00,103.00) rotate(0.0)" style="mix-blend-mode:lighten"/>
<ellipse cx="0" cy="0" rx="7.50" ry="6.00" fill="url(#gp36_2)" transform="translate(598.00,100.00) rotate(0.0)" style="mix-blend-mode:lighten"/>
<ellipse cx="0" cy="0" rx="9.00" ry="9.00" fill="url(#gp36_2)" transform="translate(578.00,113.00) rotate(0.0)" style="mix-blend-mode:lighten"/>
<ellipse cx="0" cy="0" rx="9.00" ry="9.00" fill="url(#gp36_2)" transform="translate(590.00,122.00) rotate(0.0)" style="mix-blend-mode:lighten"/>
</g></g>
<line x1="557.40" y1="143.44" x2="609.00" y2="91.36" stroke="#000" stroke-opacity="0.08" stroke-width="0.6"/>
<rect x="557.70" y="92.20" width="50.80" height="51.00" fill="none" stroke="#333" stroke-width="1.0"/>
<line x1="555.10" y1="139.10" x2="557.70" y2="139.10" stroke="#222" stroke-width="0.9"/>
<text transform="translate(554.50,142.40) scale(1,1.120)" font-size="7.60" fill="#222" text-anchor="end" font-weight="normal" stroke="#222" stroke-width="0.10" >0</text>
<line x1="561.70" y1="143.20" x2="561.70" y2="145.60" stroke="#222" stroke-width="0.9"/>
<text transform="translate(561.70,153.70) scale(1,1.120)" font-size="7.60" fill="#222" text-anchor="middle" font-weight="normal" stroke="#222" stroke-width="0.10" >0</text>
<line x1="555.10" y1="117.40" x2="557.70" y2="117.40" stroke="#222" stroke-width="0.9"/>
<text transform="translate(554.50,120.70) scale(1,1.120)" font-size="7.60" fill="#222" text-anchor="end" font-weight="normal" stroke="#222" stroke-width="0.10" >0.5</text>
<line x1="583.20" y1="143.20" x2="583.20" y2="145.60" stroke="#222" stroke-width="0.9"/>
<text transform="translate(583.20,153.70) scale(1,1.120)" font-size="7.60" fill="#222" text-anchor="middle" font-weight="normal" stroke="#222" stroke-width="0.10" >0.5</text>
<line x1="555.10" y1="95.70" x2="557.70" y2="95.70" stroke="#222" stroke-width="0.9"/>
<text transform="translate(554.50,99.00) scale(1,1.120)" font-size="7.60" fill="#222" text-anchor="end" font-weight="normal" stroke="#222" stroke-width="0.10" >1.0</text>
<line x1="604.70" y1="143.20" x2="604.70" y2="145.60" stroke="#222" stroke-width="0.9"/>
<text transform="translate(604.70,153.70) scale(1,1.120)" font-size="7.60" fill="#222" text-anchor="middle" font-weight="normal" stroke="#222" stroke-width="0.10" >1.0</text>
<text transform="translate(561.20,99.80) scale(1,1.120)" font-size="7.50" fill="#ff1e2a" text-anchor="start" font-weight="bold" stroke="#ff1e2a" stroke-width="0.10" >+SAM</text>
<text transform="translate(604.80,142.40) scale(1,1.120)" font-size="7.70" fill="#000" text-anchor="end" font-weight="normal" stroke="#000" stroke-width="0.10" >66% dyn</text>
<clipPath id="hm6"><rect x="632.30" y="92.20" width="51.00" height="51.00"/></clipPath>
<g clip-path="url(#hm6)"><g filter="url(#jet)">
<rect x="624.30" y="84.20" width="67.00" height="67.00" fill="#000"/>
<path d="M639.0,134.0 L638.5,125.0 L640.0,115.0 L642.5,107.0 L648.0,102.5 L655.0,100.0 L662.0,98.3 L672.0,96.7 L678.0,96.0 L680.0,100.0 L677.5,108.0 L676.0,115.0 L676.5,120.0 L674.0,127.5 L669.6,132.0 L662.0,135.0 L652.0,137.5 L643.0,137.0 Z" fill="#282828" filter="url(#bl2)" style="mix-blend-mode:lighten"/>
<ellipse cx="0" cy="0" rx="27.00" ry="25.50" fill="url(#gp54_2)" transform="translate(650.00,124.50) rotate(0.0)" style="mix-blend-mode:lighten"/>
<ellipse cx="0" cy="0" rx="18.00" ry="18.00" fill="url(#gp66_2)" transform="translate(649.50,124.50) rotate(0.0)" style="mix-blend-mode:lighten"/>
<ellipse cx="0" cy="0" rx="7.20" ry="12.75" fill="url(#gp92_4)" transform="translate(647.80,120.00) rotate(-8.0)" style="mix-blend-mode:lighten"/>
<ellipse cx="0" cy="0" rx="6.75" ry="6.75" fill="url(#gp95_4)" transform="translate(649.30,126.80) rotate(0.0)" style="mix-blend-mode:lighten"/>
<ellipse cx="0" cy="0" rx="12.00" ry="6.30" fill="url(#gp92_4)" transform="translate(655.50,127.30) rotate(0.0)" style="mix-blend-mode:lighten"/>
<ellipse cx="0" cy="0" rx="6.00" ry="5.40" fill="url(#gp90_4)" transform="translate(646.50,130.00) rotate(0.0)" style="mix-blend-mode:lighten"/>
<ellipse cx="0" cy="0" rx="5.40" ry="5.40" fill="url(#gp100_2)" transform="translate(649.50,127.00) rotate(0.0)" style="mix-blend-mode:lighten"/>
<ellipse cx="0" cy="0" rx="15.00" ry="12.00" fill="url(#gp56_2)" transform="translate(660.70,106.70) rotate(0.0)" style="mix-blend-mode:lighten"/>
<ellipse cx="0" cy="0" rx="18.00" ry="10.20" fill="url(#gp50_2)" transform="translate(670.20,105.70) rotate(-40.0)" style="mix-blend-mode:lighten"/>
<ellipse cx="0" cy="0" rx="12.00" ry="15.00" fill="url(#gp50_2)" transform="translate(669.10,114.60) rotate(0.0)" style="mix-blend-mode:lighten"/>
<ellipse cx="0" cy="0" rx="11.40" ry="9.00" fill="url(#gp47_2)" transform="translate(668.00,119.50) rotate(0.0)" style="mix-blend-mode:lighten"/>
<ellipse cx="0" cy="0" rx="13.50" ry="10.50" fill="url(#gp40_2)" transform="translate(663.00,118.00) rotate(0.0)" style="mix-blend-mode:lighten"/>
<ellipse cx="0" cy="0" rx="12.00" ry="9.00" fill="url(#gp42_2)" transform="translate(656.00,104.00) rotate(0.0)" style="mix-blend-mode:lighten"/>
<ellipse cx="0" cy="0" rx="9.00" ry="9.00" fill="url(#gp34_2)" transform="translate(665.00,109.00) rotate(0.0)" style="mix-blend-mode:lighten"/>
<ellipse cx="0" cy="0" rx="9.00" ry="7.50" fill="url(#gp36_2)" transform="translate(676.00,101.00) rotate(-40.0)" style="mix-blend-mode:lighten"/>
</g></g>
<line x1="632.00" y1="143.44" x2="683.60" y2="91.36" stroke="#000" stroke-opacity="0.08" stroke-width="0.6"/>
<rect x="632.30" y="92.20" width="51.00" height="51.00" fill="none" stroke="#333" stroke-width="1.0"/>
<line x1="629.70" y1="139.10" x2="632.30" y2="139.10" stroke="#222" stroke-width="0.9"/>
<text transform="translate(629.10,142.40) scale(1,1.120)" font-size="7.60" fill="#222" text-anchor="end" font-weight="normal" stroke="#222" stroke-width="0.10" >0</text>
<line x1="636.30" y1="143.20" x2="636.30" y2="145.60" stroke="#222" stroke-width="0.9"/>
<text transform="translate(636.30,153.70) scale(1,1.120)" font-size="7.60" fill="#222" text-anchor="middle" font-weight="normal" stroke="#222" stroke-width="0.10" >0</text>
<line x1="629.70" y1="117.40" x2="632.30" y2="117.40" stroke="#222" stroke-width="0.9"/>
<text transform="translate(629.10,120.70) scale(1,1.120)" font-size="7.60" fill="#222" text-anchor="end" font-weight="normal" stroke="#222" stroke-width="0.10" >0.5</text>
<line x1="657.80" y1="143.20" x2="657.80" y2="145.60" stroke="#222" stroke-width="0.9"/>
<text transform="translate(657.80,153.70) scale(1,1.120)" font-size="7.60" fill="#222" text-anchor="middle" font-weight="normal" stroke="#222" stroke-width="0.10" >0.5</text>
<line x1="629.70" y1="95.70" x2="632.30" y2="95.70" stroke="#222" stroke-width="0.9"/>
<text transform="translate(629.10,99.00) scale(1,1.120)" font-size="7.60" fill="#222" text-anchor="end" font-weight="normal" stroke="#222" stroke-width="0.10" >1.0</text>
<line x1="679.30" y1="143.20" x2="679.30" y2="145.60" stroke="#222" stroke-width="0.9"/>
<text transform="translate(679.30,153.70) scale(1,1.120)" font-size="7.60" fill="#222" text-anchor="middle" font-weight="normal" stroke="#222" stroke-width="0.10" >1.0</text>
<text transform="translate(635.30,99.80) scale(1,1.120)" font-size="7.50" fill="#3c3ce6" text-anchor="start" font-weight="bold" stroke="#3c3ce6" stroke-width="0.10" >-SAM</text>
<text transform="translate(680.50,142.40) scale(1,1.120)" font-size="7.70" fill="#000" text-anchor="end" font-weight="normal" stroke="#000" stroke-width="0.10" >80% dyn</text>
<clipPath id="hm7"><rect x="481.50" y="172.60" width="51.00" height="51.20"/></clipPath>
<g clip-path="url(#hm7)"><g filter="url(#jet)">
<rect x="473.50" y="164.60" width="67.00" height="67.20" fill="#000"/>
<path d="M486.5,209.0 L486.3,197.0 L488.4,188.8 L491.5,183.0 L497.0,180.5 L507.0,177.5 L515.0,175.6 L525.0,175.0 L530.0,177.0 L530.5,186.0 L529.0,195.0 L528.6,200.0 L525.0,209.6 L519.7,213.0 L510.0,215.5 L500.0,218.5 L491.0,217.0 Z" fill="#282828" filter="url(#bl2)" style="mix-blend-mode:lighten"/>
<ellipse cx="0" cy="0" rx="28.50" ry="24.00" fill="url(#gp52_2)" transform="translate(515.00,187.50) rotate(-25.0)" style="mix-blend-mode:lighten"/>
<ellipse cx="0" cy="0" rx="25.50" ry="25.50" fill="url(#gp52_2)" transform="translate(500.00,203.50) rotate(0.0)" style="mix-blend-mode:lighten"/>
<ellipse cx="0" cy="0" rx="15.00" ry="12.00" fill="url(#gp40_2)" transform="translate(503.00,194.00) rotate(-40.0)" style="mix-blend-mode:lighten"/>
<ellipse cx="0" cy="0" rx="21.00" ry="18.00" fill="url(#gp68_2)" transform="translate(515.00,187.50) rotate(-25.0)" style="mix-blend-mode:lighten"/>
<ellipse cx="0" cy="0" rx="18.00" ry="18.00" fill="url(#gp68_2)" transform="translate(500.00,203.50) rotate(0.0)" style="mix-blend-mode:lighten"/>
<ellipse cx="0" cy="0" rx="8.70" ry="8.70" fill="url(#gp92_4)" transform="translate(511.00,185.20) rotate(0.0)" style="mix-blend-mode:lighten"/>
<ellipse cx="0" cy="0" rx="8.40" ry="8.40" fill="url(#gp92_4)" transform="translate(518.60,192.10) rotate(0.0)" style="mix-blend-mode:lighten"/>
<ellipse cx="0" cy="0" rx="7.50" ry="7.50" fill="url(#gp90_4)" transform="translate(518.50,183.20) rotate(0.0)" style="mix-blend-mode:lighten"/>
<ellipse cx="0" cy="0" rx="7.80" ry="7.80" fill="url(#gp89_4)" transform="translate(514.50,188.00) rotate(0.0)" style="mix-blend-mode:lighten"/>
<ellipse cx="0" cy="0" rx="6.00" ry="6.60" fill="url(#gp92_4)" transform="translate(497.80,198.50) rotate(0.0)" style="mix-blend-mode:lighten"/>
<ellipse cx="0" cy="0" rx="6.00" ry="6.00" fill="url(#gp90_4)" transform="translate(497.00,206.50) rotate(0.0)" style="mix-blend-mode:lighten"/>
<ellipse cx="0" cy="0" rx="6.75" ry="6.00" fill="url(#gp92_4)" transform="translate(504.00,205.00) rotate(0.0)" style="mix-blend-mode:lighten"/>
<ellipse cx="0" cy="0" rx="4.80" ry="4.80" fill="url(#gp88_4)" transform="translate(499.50,203.50) rotate(0.0)" style="mix-blend-mode:lighten"/>
<ellipse cx="0" cy="0" rx="4.80" ry="4.80" fill="url(#gp100_2)" transform="translate(511.30,185.10) rotate(0.0)" style="mix-blend-mode:lighten"/>
<ellipse cx="0" cy="0" rx="4.80" ry="4.80" fill="url(#gp100_2)" transform="translate(518.60,192.30) rotate(0.0)" style="mix-blend-mode:lighten"/>
</g></g>
<line x1="481.20" y1="224.04" x2="532.80" y2="171.96" stroke="#000" stroke-opacity="0.08" stroke-width="0.6"/>
<rect x="481.50" y="172.60" width="51.00" height="51.20" fill="none" stroke="#333" stroke-width="1.0"/>
<line x1="478.90" y1="219.70" x2="481.50" y2="219.70" stroke="#222" stroke-width="0.9"/>
<text transform="translate(478.30,223.00) scale(1,1.120)" font-size="7.60" fill="#222" text-anchor="end" font-weight="normal" stroke="#222" stroke-width="0.10" >0</text>
<line x1="485.50" y1="223.80" x2="485.50" y2="226.20" stroke="#222" stroke-width="0.9"/>
<text transform="translate(485.50,234.30) scale(1,1.120)" font-size="7.60" fill="#222" text-anchor="middle" font-weight="normal" stroke="#222" stroke-width="0.10" >0</text>
<line x1="478.90" y1="198.00" x2="481.50" y2="198.00" stroke="#222" stroke-width="0.9"/>
<text transform="translate(478.30,201.30) scale(1,1.120)" font-size="7.60" fill="#222" text-anchor="end" font-weight="normal" stroke="#222" stroke-width="0.10" >0.5</text>
<line x1="507.00" y1="223.80" x2="507.00" y2="226.20" stroke="#222" stroke-width="0.9"/>
<text transform="translate(507.00,234.30) scale(1,1.120)" font-size="7.60" fill="#222" text-anchor="middle" font-weight="normal" stroke="#222" stroke-width="0.10" >0.5</text>
<line x1="478.90" y1="176.30" x2="481.50" y2="176.30" stroke="#222" stroke-width="0.9"/>
<text transform="translate(478.30,179.60) scale(1,1.120)" font-size="7.60" fill="#222" text-anchor="end" font-weight="normal" stroke="#222" stroke-width="0.10" >1.0</text>
<line x1="528.50" y1="223.80" x2="528.50" y2="226.20" stroke="#222" stroke-width="0.9"/>
<text transform="translate(528.50,234.30) scale(1,1.120)" font-size="7.60" fill="#222" text-anchor="middle" font-weight="normal" stroke="#222" stroke-width="0.10" >1.0</text>
<text transform="translate(482.80,179.60) scale(1,1.120)" font-size="7.70" fill="#222" text-anchor="start" font-weight="normal" stroke="#222" stroke-width="0.10" >EC-86</text>
<text transform="translate(530.00,222.70) scale(1,1.120)" font-size="7.70" fill="#000" text-anchor="end" font-weight="normal" stroke="#000" stroke-width="0.10" >59% dyn</text>
<text transform="translate(466.90,200.00) rotate(-90) scale(1,1.15)" font-size="7.55" fill="#222" stroke="#222" stroke-width="0.1" text-anchor="middle">Final FRET</text>
<text transform="translate(507.90,246.80) scale(1,1.120)" font-size="7.75" fill="#222" text-anchor="middle" font-weight="normal" stroke="#222" stroke-width="0.10" >Initial FRET</text>
<clipPath id="hm8"><rect x="557.70" y="172.60" width="50.80" height="51.20"/></clipPath>
<g clip-path="url(#hm8)"><g filter="url(#jet)">
<rect x="549.70" y="164.60" width="66.80" height="67.20" fill="#000"/>
<path d="M565.0,215.0 L566.5,205.0 L568.0,196.0 L570.7,186.0 L575.4,182.0 L583.0,179.5 L590.0,176.7 L600.0,176.0 L605.5,176.5 L605.0,183.0 L602.5,190.0 L603.0,198.0 L600.5,205.5 L596.0,208.5 L588.0,209.5 L582.0,212.0 L576.0,216.5 L570.0,218.0 Z" fill="#1e1e1e" filter="url(#bl2)" style="mix-blend-mode:lighten"/>
<path d="M577.0,208.0 L582.0,200.0 L588.0,193.0 L597.0,186.0 L602.0,195.0 L597.0,204.0 L588.0,207.0 Z" fill="#262626" filter="url(#bl2)" style="mix-blend-mode:lighten"/>
<ellipse cx="0" cy="0" rx="31.50" ry="27.00" fill="url(#gp52_2)" transform="translate(591.50,188.00) rotate(-25.0)" style="mix-blend-mode:lighten"/>
<ellipse cx="0" cy="0" rx="21.60" ry="18.60" fill="url(#gp78_2)" transform="translate(591.50,188.50) rotate(-25.0)" style="mix-blend-mode:lighten"/>
<ellipse cx="0" cy="0" rx="7.80" ry="6.90" fill="url(#gp92_4)" transform="translate(587.60,184.80) rotate(-20.0)" style="mix-blend-mode:lighten"/>
<ellipse cx="0" cy="0" rx="7.20" ry="7.20" fill="url(#gp90_4)" transform="translate(596.70,183.20) rotate(0.0)" style="mix-blend-mode:lighten"/>
<ellipse cx="0" cy="0" rx="7.80" ry="8.40" fill="url(#gp93_4)" transform="translate(595.20,192.40) rotate(0.0)" style="mix-blend-mode:lighten"/>
<ellipse cx="0" cy="0" rx="4.80" ry="4.80" fill="url(#gp100_2)" transform="translate(595.20,192.60) rotate(0.0)" style="mix-blend-mode:lighten"/>
<ellipse cx="0" cy="0" rx="15.00" ry="9.90" fill="url(#gp68_2)" transform="translate(570.80,209.30) rotate(-40.0)" style="mix-blend-mode:lighten"/>
<ellipse cx="0" cy="0" rx="9.00" ry="7.50" fill="url(#gp20_2)" transform="translate(596.70,205.40) rotate(0.0)" style="mix-blend-mode:lighten"/>
<ellipse cx="0" cy="0" rx="9.00" ry="7.50" fill="url(#gp20_2)" transform="translate(586.00,201.00) rotate(0.0)" style="mix-blend-mode:lighten"/>
</g></g>
<line x1="557.40" y1="224.04" x2="609.00" y2="171.96" stroke="#000" stroke-opacity="0.08" stroke-width="0.6"/>
<rect x="557.70" y="172.60" width="50.80" height="51.20" fill="none" stroke="#333" stroke-width="1.0"/>
<line x1="555.10" y1="219.70" x2="557.70" y2="219.70" stroke="#222" stroke-width="0.9"/>
<text transform="translate(554.50,223.00) scale(1,1.120)" font-size="7.60" fill="#222" text-anchor="end" font-weight="normal" stroke="#222" stroke-width="0.10" >0</text>
<line x1="561.70" y1="223.80" x2="561.70" y2="226.20" stroke="#222" stroke-width="0.9"/>
<text transform="translate(561.70,234.30) scale(1,1.120)" font-size="7.60" fill="#222" text-anchor="middle" font-weight="normal" stroke="#222" stroke-width="0.10" >0</text>
<line x1="555.10" y1="198.00" x2="557.70" y2="198.00" stroke="#222" stroke-width="0.9"/>
<text transform="translate(554.50,201.30) scale(1,1.120)" font-size="7.60" fill="#222" text-anchor="end" font-weight="normal" stroke="#222" stroke-width="0.10" >0.5</text>
<line x1="583.20" y1="223.80" x2="583.20" y2="226.20" stroke="#222" stroke-width="0.9"/>
<text transform="translate(583.20,234.30) scale(1,1.120)" font-size="7.60" fill="#222" text-anchor="middle" font-weight="normal" stroke="#222" stroke-width="0.10" >0.5</text>
<line x1="555.10" y1="176.30" x2="557.70" y2="176.30" stroke="#222" stroke-width="0.9"/>
<text transform="translate(554.50,179.60) scale(1,1.120)" font-size="7.60" fill="#222" text-anchor="end" font-weight="normal" stroke="#222" stroke-width="0.10" >1.0</text>
<line x1="604.70" y1="223.80" x2="604.70" y2="226.20" stroke="#222" stroke-width="0.9"/>
<text transform="translate(604.70,234.30) scale(1,1.120)" font-size="7.60" fill="#222" text-anchor="middle" font-weight="normal" stroke="#222" stroke-width="0.10" >1.0</text>
<text transform="translate(561.00,179.30) scale(1,1.120)" font-size="7.50" fill="#ff1e2a" text-anchor="start" font-weight="bold" stroke="#ff1e2a" stroke-width="0.10" >+SAM</text>
<text transform="translate(605.50,222.70) scale(1,1.120)" font-size="7.70" fill="#000" text-anchor="end" font-weight="normal" stroke="#000" stroke-width="0.10" >57% dyn</text>
<text transform="translate(584.00,246.80) scale(1,1.120)" font-size="7.75" fill="#222" text-anchor="middle" font-weight="normal" stroke="#222" stroke-width="0.10" >Initial FRET</text>
<clipPath id="hm9"><rect x="632.30" y="172.60" width="51.00" height="51.20"/></clipPath>
<g clip-path="url(#hm9)"><g filter="url(#jet)">
<rect x="624.30" y="164.60" width="67.00" height="67.20" fill="#000"/>
<path d="M641.0,210.0 L641.0,198.0 L641.5,190.0 L642.0,185.6 L645.7,182.5 L652.0,180.5 L660.0,178.3 L670.0,177.8 L677.5,176.5 L680.0,180.5 L678.5,190.0 L678.0,199.0 L677.5,204.3 L675.0,210.6 L667.5,214.0 L658.0,216.5 L649.0,216.0 L642.5,213.0 Z" fill="#2c2c2c" filter="url(#bl2)" style="mix-blend-mode:lighten"/>
<ellipse cx="0" cy="0" rx="39.00" ry="33.00" fill="url(#gp42_2)" transform="translate(660.50,195.00) rotate(-30.0)" style="mix-blend-mode:lighten"/>
<ellipse cx="0" cy="0" rx="9.75" ry="8.70" fill="url(#gp92_4)" transform="translate(660.70,186.70) rotate(-5.0)" style="mix-blend-mode:lighten"/>
<ellipse cx="0" cy="0" rx="8.40" ry="12.00" fill="url(#gp92_4)" transform="translate(669.60,195.80) rotate(5.0)" style="mix-blend-mode:lighten"/>
<ellipse cx="0" cy="0" rx="12.00" ry="7.80" fill="url(#gp80_2)" transform="translate(671.20,184.60) rotate(-45.0)" style="mix-blend-mode:lighten"/>
<ellipse cx="0" cy="0" rx="4.50" ry="4.50" fill="url(#gp98_2)" transform="translate(660.70,186.70) rotate(0.0)" style="mix-blend-mode:lighten"/>
<ellipse cx="0" cy="0" rx="13.80" ry="13.80" fill="url(#gp68_2)" transform="translate(648.30,197.50) rotate(0.0)" style="mix-blend-mode:lighten"/>
<ellipse cx="0" cy="0" rx="13.20" ry="11.40" fill="url(#gp76_2)" transform="translate(657.80,207.50) rotate(0.0)" style="mix-blend-mode:lighten"/>
<ellipse cx="0" cy="0" rx="10.50" ry="10.50" fill="url(#gp46_2)" transform="translate(648.00,190.00) rotate(0.0)" style="mix-blend-mode:lighten"/>
<ellipse cx="0" cy="0" rx="12.00" ry="10.50" fill="url(#gp52_2)" transform="translate(652.00,204.00) rotate(0.0)" style="mix-blend-mode:lighten"/>
<ellipse cx="0" cy="0" rx="10.50" ry="10.50" fill="url(#gp45_2)" transform="translate(665.00,204.00) rotate(0.0)" style="mix-blend-mode:lighten"/>
<ellipse cx="0" cy="0" rx="12.00" ry="12.00" fill="url(#gp50_2)" transform="translate(665.00,190.00) rotate(0.0)" style="mix-blend-mode:lighten"/>
<ellipse cx="0" cy="0" rx="9.00" ry="9.00" fill="url(#gp40_2)" transform="translate(672.00,203.00) rotate(0.0)" style="mix-blend-mode:lighten"/>
<ellipse cx="0" cy="0" rx="7.50" ry="7.50" fill="url(#gp0_2)" transform="translate(657.20,197.20) rotate(0.0)" style="mix-blend-mode:lighten"/>
</g></g>
<line x1="632.00" y1="224.04" x2="683.60" y2="171.96" stroke="#000" stroke-opacity="0.08" stroke-width="0.6"/>
<rect x="632.30" y="172.60" width="51.00" height="51.20" fill="none" stroke="#333" stroke-width="1.0"/>
<line x1="629.70" y1="219.70" x2="632.30" y2="219.70" stroke="#222" stroke-width="0.9"/>
<text transform="translate(629.10,223.00) scale(1,1.120)" font-size="7.60" fill="#222" text-anchor="end" font-weight="normal" stroke="#222" stroke-width="0.10" >0</text>
<line x1="636.30" y1="223.80" x2="636.30" y2="226.20" stroke="#222" stroke-width="0.9"/>
<text transform="translate(636.30,234.30) scale(1,1.120)" font-size="7.60" fill="#222" text-anchor="middle" font-weight="normal" stroke="#222" stroke-width="0.10" >0</text>
<line x1="629.70" y1="198.00" x2="632.30" y2="198.00" stroke="#222" stroke-width="0.9"/>
<text transform="translate(629.10,201.30) scale(1,1.120)" font-size="7.60" fill="#222" text-anchor="end" font-weight="normal" stroke="#222" stroke-width="0.10" >0.5</text>
<line x1="657.80" y1="223.80" x2="657.80" y2="226.20" stroke="#222" stroke-width="0.9"/>
<text transform="translate(657.80,234.30) scale(1,1.120)" font-size="7.60" fill="#222" text-anchor="middle" font-weight="normal" stroke="#222" stroke-width="0.10" >0.5</text>
<line x1="629.70" y1="176.30" x2="632.30" y2="176.30" stroke="#222" stroke-width="0.9"/>
<text transform="translate(629.10,179.60) scale(1,1.120)" font-size="7.60" fill="#222" text-anchor="end" font-weight="normal" stroke="#222" stroke-width="0.10" >1.0</text>
<line x1="679.30" y1="223.80" x2="679.30" y2="226.20" stroke="#222" stroke-width="0.9"/>
<text transform="translate(679.30,234.30) scale(1,1.120)" font-size="7.60" fill="#222" text-anchor="middle" font-weight="normal" stroke="#222" stroke-width="0.10" >1.0</text>
<text transform="translate(635.00,180.60) scale(1,1.120)" font-size="7.50" fill="#3c3ce6" text-anchor="start" font-weight="bold" stroke="#3c3ce6" stroke-width="0.10" >-SAM</text>
<text transform="translate(680.50,222.70) scale(1,1.120)" font-size="7.70" fill="#000" text-anchor="end" font-weight="normal" stroke="#000" stroke-width="0.10" >70% dyn</text>
<text transform="translate(658.70,246.80) scale(1,1.120)" font-size="7.75" fill="#222" text-anchor="middle" font-weight="normal" stroke="#222" stroke-width="0.10" >Initial FRET</text>
<defs><radialGradient id="gp100_2"><stop offset="0.000" stop-color="#c7c7c7"/><stop offset="0.062" stop-color="#c3c3c3"/><stop offset="0.125" stop-color="#b9b9b9"/><stop offset="0.188" stop-color="#aaaaaa"/><stop offset="0.250" stop-color="#969696"/><stop offset="0.312" stop-color="#808080"/><stop offset="0.375" stop-color="#6a6a6a"/><stop offset="0.438" stop-color="#545454"/><stop offset="0.500" stop-color="#414141"/><stop offset="0.562" stop-color="#303030"/><stop offset="0.625" stop-color="#222222"/><stop offset="0.688" stop-color="#181818"/><stop offset="0.750" stop-color="#101010"/><stop offset="0.812" stop-color="#0a0a0a"/><stop offset="0.875" stop-color="#060606"/><stop offset="0.938" stop-color="#040404"/><stop offset="1.000" stop-color="#000"/></radialGradient><radialGradient id="gp14_2"><stop offset="0.000" stop-color="#1c1c1c"/><stop offset="0.062" stop-color="#1b1b1b"/><stop offset="0.125" stop-color="#1a1a1a"/><stop offset="0.188" stop-color="#181818"/><stop offset="0.250" stop-color="#151515"/><stop offset="0.312" stop-color="#121212"/><stop offset="0.375" stop-color="#0f0f0f"/><stop offset="0.438" stop-color="#0c0c0c"/><stop offset="0.500" stop-color="#090909"/><stop offset="0.562" stop-color="#070707"/><stop offset="0.625" stop-color="#050505"/><stop offset="0.688" stop-color="#030303"/><stop offset="0.750" stop-color="#020202"/><stop offset="0.812" stop-color="#010101"/><stop offset="0.875" stop-color="#010101"/><stop offset="0.938" stop-color="#010101"/><stop offset="1.000" stop-color="#000"/></radialGradient><radialGradient id="gp46_2"><stop offset="0.000" stop-color="#5b5b5b"/><stop offset="0.062" stop-color="#5a5a5a"/><stop offset="0.125" stop-color="#555555"/><stop offset="0.188" stop-color="#4e4e4e"/><stop offset="0.250" stop-color="#454545"/><stop offset="0.312" stop-color="#3b3b3b"/><stop offset="0.375" stop-color="#313131"/><stop offset="0.438" stop-color="#272727"/><stop offset="0.500" stop-color="#1e1e1e"/><stop offset="0.562" stop-color="#161616"/><stop offset="0.625" stop-color="#101010"/><stop offset="0.688" stop-color="#0b0b0b"/><stop offset="0.750" stop-color="#070707"/><stop offset="0.812" stop-color="#050505"/><stop offset="0.875" stop-color="#030303"/><stop offset="0.938" stop-color="#020202"/><stop offset="1.000" stop-color="#000"/></radialGradient><radialGradient id="gp52_2"><stop offset="0.000" stop-color="#676767"/><stop offset="0.062" stop-color="#666666"/><stop offset="0.125" stop-color="#606060"/><stop offset="0.188" stop-color="#585858"/><stop offset="0.250" stop-color="#4e4e4e"/><stop offset="0.312" stop-color="#434343"/><stop offset="0.375" stop-color="#373737"/><stop offset="0.438" stop-color="#2c2c2c"/><stop offset="0.500" stop-color="#222222"/><stop offset="0.562" stop-color="#191919"/><stop offset="0.625" stop-color="#121212"/><stop offset="0.688" stop-color="#0c0c0c"/><stop offset="0.750" stop-color="#080808"/><stop offset="0.812" stop-color="#050505"/><stop offset="0.875" stop-color="#030303"/><stop offset="0.938" stop-color="#020202"/><stop offset="1.000" stop-color="#000"/></radialGradient><radialGradient id="gp44_2"><stop offset="0.000" stop-color="#585858"/><stop offset="0.062" stop-color="#565656"/><stop offset="0.125" stop-color="#525252"/><stop offset="0.188" stop-color="#4b4b4b"/><stop offset="0.250" stop-color="#424242"/><stop offset="0.312" stop-color="#383838"/><stop offset="0.375" stop-color="#2e2e2e"/><stop offset="0.438" stop-color="#252525"/><stop offset="0.500" stop-color="#1c1c1c"/><stop offset="0.562" stop-color="#151515"/><stop offset="0.625" stop-color="#0f0f0f"/><stop offset="0.688" stop-color="#0a0a0a"/><stop offset="0.750" stop-color="#070707"/><stop offset="0.812" stop-color="#040404"/><stop offset="0.875" stop-color="#030303"/><stop offset="0.938" stop-color="#020202"/><stop offset="1.000" stop-color="#000"/></radialGradient><radialGradient id="gp50_2"><stop offset="0.000" stop-color="#636363"/><stop offset="0.062" stop-color="#626262"/><stop offset="0.125" stop-color="#5d5d5d"/><stop offset="0.188" stop-color="#555555"/><stop offset="0.250" stop-color="#4b4b4b"/><stop offset="0.312" stop-color="#404040"/><stop offset="0.375" stop-color="#353535"/><stop offset="0.438" stop-color="#2a2a2a"/><stop offset="0.500" stop-color="#202020"/><stop offset="0.562" stop-color="#181818"/><stop offset="0.625" stop-color="#111111"/><stop offset="0.688" stop-color="#0c0c0c"/><stop offset="0.750" stop-color="#080808"/><stop offset="0.812" stop-color="#050505"/><stop offset="0.875" stop-color="#030303"/><stop offset="0.938" stop-color="#020202"/><stop offset="1.000" stop-color="#000"/></radialGradient><radialGradient id="gp30_2"><stop offset="0.000" stop-color="#3c3c3c"/><stop offset="0.062" stop-color="#3b3b3b"/><stop offset="0.125" stop-color="#383838"/><stop offset="0.188" stop-color="#333333"/><stop offset="0.250" stop-color="#2d2d2d"/><stop offset="0.312" stop-color="#262626"/><stop offset="0.375" stop-color="#202020"/><stop offset="0.438" stop-color="#191919"/><stop offset="0.500" stop-color="#131313"/><stop offset="0.562" stop-color="#0e0e0e"/><stop offset="0.625" stop-color="#0a0a0a"/><stop offset="0.688" stop-color="#070707"/><stop offset="0.750" stop-color="#050505"/><stop offset="0.812" stop-color="#030303"/><stop offset="0.875" stop-color="#020202"/><stop offset="0.938" stop-color="#010101"/><stop offset="1.000" stop-color="#000"/></radialGradient><radialGradient id="gp26_2"><stop offset="0.000" stop-color="#343434"/><stop offset="0.062" stop-color="#333333"/><stop offset="0.125" stop-color="#303030"/><stop offset="0.188" stop-color="#2c2c2c"/><stop offset="0.250" stop-color="#272727"/><stop offset="0.312" stop-color="#212121"/><stop offset="0.375" stop-color="#1b1b1b"/><stop offset="0.438" stop-color="#161616"/><stop offset="0.500" stop-color="#111111"/><stop offset="0.562" stop-color="#0c0c0c"/><stop offset="0.625" stop-color="#090909"/><stop offset="0.688" stop-color="#060606"/><stop offset="0.750" stop-color="#040404"/><stop offset="0.812" stop-color="#030303"/><stop offset="0.875" stop-color="#020202"/><stop offset="0.938" stop-color="#010101"/><stop offset="1.000" stop-color="#000"/></radialGradient><radialGradient id="gp24_2"><stop offset="0.000" stop-color="#303030"/><stop offset="0.062" stop-color="#2f2f2f"/><stop offset="0.125" stop-color="#2c2c2c"/><stop offset="0.188" stop-color="#292929"/><stop offset="0.250" stop-color="#242424"/><stop offset="0.312" stop-color="#1f1f1f"/><stop offset="0.375" stop-color="#191919"/><stop offset="0.438" stop-color="#141414"/><stop offset="0.500" stop-color="#0f0f0f"/><stop offset="0.562" stop-color="#0b0b0b"/><stop offset="0.625" stop-color="#080808"/><stop offset="0.688" stop-color="#060606"/><stop offset="0.750" stop-color="#040404"/><stop offset="0.812" stop-color="#020202"/><stop offset="0.875" stop-color="#020202"/><stop offset="0.938" stop-color="#010101"/><stop offset="1.000" stop-color="#000"/></radialGradient><radialGradient id="gp102_2"><stop offset="0.000" stop-color="#cbcbcb"/><stop offset="0.062" stop-color="#c7c7c7"/><stop offset="0.125" stop-color="#bdbdbd"/><stop offset="0.188" stop-color="#adadad"/><stop offset="0.250" stop-color="#999999"/><stop offset="0.312" stop-color="#838383"/><stop offset="0.375" stop-color="#6c6c6c"/><stop offset="0.438" stop-color="#565656"/><stop offset="0.500" stop-color="#424242"/><stop offset="0.562" stop-color="#313131"/><stop offset="0.625" stop-color="#232323"/><stop offset="0.688" stop-color="#181818"/><stop offset="0.750" stop-color="#101010"/><stop offset="0.812" stop-color="#0a0a0a"/><stop offset="0.875" stop-color="#060606"/><stop offset="0.938" stop-color="#040404"/><stop offset="1.000" stop-color="#000"/></radialGradient><radialGradient id="gp10_2"><stop offset="0.000" stop-color="#141414"/><stop offset="0.062" stop-color="#141414"/><stop offset="0.125" stop-color="#131313"/><stop offset="0.188" stop-color="#111111"/><stop offset="0.250" stop-color="#0f0f0f"/><stop offset="0.312" stop-color="#0d0d0d"/><stop offset="0.375" stop-color="#0b0b0b"/><stop offset="0.438" stop-color="#080808"/><stop offset="0.500" stop-color="#060606"/><stop offset="0.562" stop-color="#050505"/><stop offset="0.625" stop-color="#030303"/><stop offset="0.688" stop-color="#020202"/><stop offset="0.750" stop-color="#020202"/><stop offset="0.812" stop-color="#010101"/><stop offset="0.875" stop-color="#010101"/><stop offset="0.938" stop-color="#000000"/><stop offset="1.000" stop-color="#000"/></radialGradient><radialGradient id="gp105_2"><stop offset="0.000" stop-color="#d1d1d1"/><stop offset="0.062" stop-color="#cdcdcd"/><stop offset="0.125" stop-color="#c3c3c3"/><stop offset="0.188" stop-color="#b2b2b2"/><stop offset="0.250" stop-color="#9e9e9e"/><stop offset="0.312" stop-color="#878787"/><stop offset="0.375" stop-color="#6f6f6f"/><stop offset="0.438" stop-color="#585858"/><stop offset="0.500" stop-color="#444444"/><stop offset="0.562" stop-color="#323232"/><stop offset="0.625" stop-color="#242424"/><stop offset="0.688" stop-color="#191919"/><stop offset="0.750" stop-color="#111111"/><stop offset="0.812" stop-color="#0b0b0b"/><stop offset="0.875" stop-color="#070707"/><stop offset="0.938" stop-color="#040404"/><stop offset="1.000" stop-color="#000"/></radialGradient><radialGradient id="gp42_2"><stop offset="0.000" stop-color="#545454"/><stop offset="0.062" stop-color="#525252"/><stop offset="0.125" stop-color="#4e4e4e"/><stop offset="0.188" stop-color="#474747"/><stop offset="0.250" stop-color="#3f3f3f"/><stop offset="0.312" stop-color="#363636"/><stop offset="0.375" stop-color="#2c2c2c"/><stop offset="0.438" stop-color="#232323"/><stop offset="0.500" stop-color="#1b1b1b"/><stop offset="0.562" stop-color="#141414"/><stop offset="0.625" stop-color="#0e0e0e"/><stop offset="0.688" stop-color="#0a0a0a"/><stop offset="0.750" stop-color="#070707"/><stop offset="0.812" stop-color="#040404"/><stop offset="0.875" stop-color="#030303"/><stop offset="0.938" stop-color="#020202"/><stop offset="1.000" stop-color="#000"/></radialGradient><radialGradient id="gp38_2"><stop offset="0.000" stop-color="#4c4c4c"/><stop offset="0.062" stop-color="#4a4a4a"/><stop offset="0.125" stop-color="#464646"/><stop offset="0.188" stop-color="#414141"/><stop offset="0.250" stop-color="#393939"/><stop offset="0.312" stop-color="#313131"/><stop offset="0.375" stop-color="#282828"/><stop offset="0.438" stop-color="#202020"/><stop offset="0.500" stop-color="#191919"/><stop offset="0.562" stop-color="#121212"/><stop offset="0.625" stop-color="#0d0d0d"/><stop offset="0.688" stop-color="#090909"/><stop offset="0.750" stop-color="#060606"/><stop offset="0.812" stop-color="#040404"/><stop offset="0.875" stop-color="#020202"/><stop offset="0.938" stop-color="#010101"/><stop offset="1.000" stop-color="#000"/></radialGradient><radialGradient id="gp77_2"><stop offset="0.000" stop-color="#999999"/><stop offset="0.062" stop-color="#969696"/><stop offset="0.125" stop-color="#8f8f8f"/><stop offset="0.188" stop-color="#838383"/><stop offset="0.250" stop-color="#747474"/><stop offset="0.312" stop-color="#636363"/><stop offset="0.375" stop-color="#515151"/><stop offset="0.438" stop-color="#414141"/><stop offset="0.500" stop-color="#323232"/><stop offset="0.562" stop-color="#252525"/><stop offset="0.625" stop-color="#1a1a1a"/><stop offset="0.688" stop-color="#121212"/><stop offset="0.750" stop-color="#0c0c0c"/><stop offset="0.812" stop-color="#080808"/><stop offset="0.875" stop-color="#050505"/><stop offset="0.938" stop-color="#030303"/><stop offset="1.000" stop-color="#000"/></radialGradient><radialGradient id="gp40_2"><stop offset="0.000" stop-color="#505050"/><stop offset="0.062" stop-color="#4e4e4e"/><stop offset="0.125" stop-color="#4a4a4a"/><stop offset="0.188" stop-color="#444444"/><stop offset="0.250" stop-color="#3c3c3c"/><stop offset="0.312" stop-color="#333333"/><stop offset="0.375" stop-color="#2a2a2a"/><stop offset="0.438" stop-color="#222222"/><stop offset="0.500" stop-color="#1a1a1a"/><stop offset="0.562" stop-color="#131313"/><stop offset="0.625" stop-color="#0e0e0e"/><stop offset="0.688" stop-color="#090909"/><stop offset="0.750" stop-color="#060606"/><stop offset="0.812" stop-color="#040404"/><stop offset="0.875" stop-color="#030303"/><stop offset="0.938" stop-color="#020202"/><stop offset="1.000" stop-color="#000"/></radialGradient><radialGradient id="gp98_2"><stop offset="0.000" stop-color="#c3c3c3"/><stop offset="0.062" stop-color="#c0c0c0"/><stop offset="0.125" stop-color="#b6b6b6"/><stop offset="0.188" stop-color="#a6a6a6"/><stop offset="0.250" stop-color="#939393"/><stop offset="0.312" stop-color="#7e7e7e"/><stop offset="0.375" stop-color="#686868"/><stop offset="0.438" stop-color="#525252"/><stop offset="0.500" stop-color="#3f3f3f"/><stop offset="0.562" stop-color="#2f2f2f"/><stop offset="0.625" stop-color="#222222"/><stop offset="0.688" stop-color="#171717"/><stop offset="0.750" stop-color="#101010"/><stop offset="0.812" stop-color="#0a0a0a"/><stop offset="0.875" stop-color="#060606"/><stop offset="0.938" stop-color="#040404"/><stop offset="1.000" stop-color="#000"/></radialGradient><radialGradient id="gp96_2"><stop offset="0.000" stop-color="#bfbfbf"/><stop offset="0.062" stop-color="#bcbcbc"/><stop offset="0.125" stop-color="#b2b2b2"/><stop offset="0.188" stop-color="#a3a3a3"/><stop offset="0.250" stop-color="#909090"/><stop offset="0.312" stop-color="#7b7b7b"/><stop offset="0.375" stop-color="#656565"/><stop offset="0.438" stop-color="#515151"/><stop offset="0.500" stop-color="#3e3e3e"/><stop offset="0.562" stop-color="#2e2e2e"/><stop offset="0.625" stop-color="#212121"/><stop offset="0.688" stop-color="#171717"/><stop offset="0.750" stop-color="#0f0f0f"/><stop offset="0.812" stop-color="#0a0a0a"/><stop offset="0.875" stop-color="#060606"/><stop offset="0.938" stop-color="#040404"/><stop offset="1.000" stop-color="#000"/></radialGradient><radialGradient id="gp72_2"><stop offset="0.000" stop-color="#8f8f8f"/><stop offset="0.062" stop-color="#8d8d8d"/><stop offset="0.125" stop-color="#858585"/><stop offset="0.188" stop-color="#7a7a7a"/><stop offset="0.250" stop-color="#6c6c6c"/><stop offset="0.312" stop-color="#5c5c5c"/><stop offset="0.375" stop-color="#4c4c4c"/><stop offset="0.438" stop-color="#3d3d3d"/><stop offset="0.500" stop-color="#2e2e2e"/><stop offset="0.562" stop-color="#222222"/><stop offset="0.625" stop-color="#191919"/><stop offset="0.688" stop-color="#111111"/><stop offset="0.750" stop-color="#0b0b0b"/><stop offset="0.812" stop-color="#070707"/><stop offset="0.875" stop-color="#050505"/><stop offset="0.938" stop-color="#030303"/><stop offset="1.000" stop-color="#000"/></radialGradient><radialGradient id="gp62_2"><stop offset="0.000" stop-color="#7b7b7b"/><stop offset="0.062" stop-color="#797979"/><stop offset="0.125" stop-color="#737373"/><stop offset="0.188" stop-color="#696969"/><stop offset="0.250" stop-color="#5d5d5d"/><stop offset="0.312" stop-color="#4f4f4f"/><stop offset="0.375" stop-color="#414141"/><stop offset="0.438" stop-color="#343434"/><stop offset="0.500" stop-color="#282828"/><stop offset="0.562" stop-color="#1e1e1e"/><stop offset="0.625" stop-color="#151515"/><stop offset="0.688" stop-color="#0f0f0f"/><stop offset="0.750" stop-color="#0a0a0a"/><stop offset="0.812" stop-color="#060606"/><stop offset="0.875" stop-color="#040404"/><stop offset="0.938" stop-color="#020202"/><stop offset="1.000" stop-color="#000"/></radialGradient><radialGradient id="gp36_2"><stop offset="0.000" stop-color="#484848"/><stop offset="0.062" stop-color="#464646"/><stop offset="0.125" stop-color="#434343"/><stop offset="0.188" stop-color="#3d3d3d"/><stop offset="0.250" stop-color="#363636"/><stop offset="0.312" stop-color="#2e2e2e"/><stop offset="0.375" stop-color="#262626"/><stop offset="0.438" stop-color="#1e1e1e"/><stop offset="0.500" stop-color="#171717"/><stop offset="0.562" stop-color="#111111"/><stop offset="0.625" stop-color="#0c0c0c"/><stop offset="0.688" stop-color="#090909"/><stop offset="0.750" stop-color="#060606"/><stop offset="0.812" stop-color="#040404"/><stop offset="0.875" stop-color="#020202"/><stop offset="0.938" stop-color="#010101"/><stop offset="1.000" stop-color="#000"/></radialGradient><radialGradient id="gp54_2"><stop offset="0.000" stop-color="#6b6b6b"/><stop offset="0.062" stop-color="#6a6a6a"/><stop offset="0.125" stop-color="#646464"/><stop offset="0.188" stop-color="#5c5c5c"/><stop offset="0.250" stop-color="#515151"/><stop offset="0.312" stop-color="#454545"/><stop offset="0.375" stop-color="#393939"/><stop offset="0.438" stop-color="#2d2d2d"/><stop offset="0.500" stop-color="#232323"/><stop offset="0.562" stop-color="#1a1a1a"/><stop offset="0.625" stop-color="#131313"/><stop offset="0.688" stop-color="#0d0d0d"/><stop offset="0.750" stop-color="#090909"/><stop offset="0.812" stop-color="#060606"/><stop offset="0.875" stop-color="#030303"/><stop offset="0.938" stop-color="#020202"/><stop offset="1.000" stop-color="#000"/></radialGradient><radialGradient id="gp66_2"><stop offset="0.000" stop-color="#838383"/><stop offset="0.062" stop-color="#818181"/><stop offset="0.125" stop-color="#7a7a7a"/><stop offset="0.188" stop-color="#707070"/><stop offset="0.250" stop-color="#636363"/><stop offset="0.312" stop-color="#555555"/><stop offset="0.375" stop-color="#464646"/><stop offset="0.438" stop-color="#373737"/><stop offset="0.500" stop-color="#2b2b2b"/><stop offset="0.562" stop-color="#202020"/><stop offset="0.625" stop-color="#171717"/><stop offset="0.688" stop-color="#101010"/><stop offset="0.750" stop-color="#0a0a0a"/><stop offset="0.812" stop-color="#070707"/><stop offset="0.875" stop-color="#040404"/><stop offset="0.938" stop-color="#030303"/><stop offset="1.000" stop-color="#000"/></radialGradient><radialGradient id="gp92_4"><stop offset="0.000" stop-color="#b7b7b7"/><stop offset="0.062" stop-color="#b7b7b7"/><stop offset="0.125" stop-color="#b7b7b7"/><stop offset="0.188" stop-color="#b6b6b6"/><stop offset="0.250" stop-color="#b3b3b3"/><stop offset="0.312" stop-color="#aeaeae"/><stop offset="0.375" stop-color="#a6a6a6"/><stop offset="0.438" stop-color="#989898"/><stop offset="0.500" stop-color="#858585"/><stop offset="0.562" stop-color="#6e6e6e"/><stop offset="0.625" stop-color="#555555"/><stop offset="0.688" stop-color="#3b3b3b"/><stop offset="0.750" stop-color="#252525"/><stop offset="0.812" stop-color="#141414"/><stop offset="0.875" stop-color="#090909"/><stop offset="0.938" stop-color="#040404"/><stop offset="1.000" stop-color="#000"/></radialGradient><radialGradient id="gp95_4"><stop offset="0.000" stop-color="#bdbdbd"/><stop offset="0.062" stop-color="#bdbdbd"/><stop offset="0.125" stop-color="#bdbdbd"/><stop offset="0.188" stop-color="#bcbcbc"/><stop offset="0.250" stop-color="#b9b9b9"/><stop offset="0.312" stop-color="#b4b4b4"/><stop offset="0.375" stop-color="#ababab"/><stop offset="0.438" stop-color="#9d9d9d"/><stop offset="0.500" stop-color="#8a8a8a"/><stop offset="0.562" stop-color="#727272"/><stop offset="0.625" stop-color="#575757"/><stop offset="0.688" stop-color="#3d3d3d"/><stop offset="0.750" stop-color="#262626"/><stop offset="0.812" stop-color="#151515"/><stop offset="0.875" stop-color="#0a0a0a"/><stop offset="0.938" stop-color="#040404"/><stop offset="1.000" stop-color="#000"/></radialGradient><radialGradient id="gp90_4"><stop offset="0.000" stop-color="#b3b3b3"/><stop offset="0.062" stop-color="#b3b3b3"/><stop offset="0.125" stop-color="#b3b3b3"/><stop offset="0.188" stop-color="#b2b2b2"/><stop offset="0.250" stop-color="#b0b0b0"/><stop offset="0.312" stop-color="#ababab"/><stop offset="0.375" stop-color="#a2a2a2"/><stop offset="0.438" stop-color="#959595"/><stop offset="0.500" stop-color="#828282"/><stop offset="0.562" stop-color="#6c6c6c"/><stop offset="0.625" stop-color="#535353"/><stop offset="0.688" stop-color="#3a3a3a"/><stop offset="0.750" stop-color="#242424"/><stop offset="0.812" stop-color="#141414"/><stop offset="0.875" stop-color="#090909"/><stop offset="0.938" stop-color="#040404"/><stop offset="1.000" stop-color="#000"/></radialGradient><radialGradient id="gp56_2"><stop offset="0.000" stop-color="#6f6f6f"/><stop offset="0.062" stop-color="#6d6d6d"/><stop offset="0.125" stop-color="#686868"/><stop offset="0.188" stop-color="#5f5f5f"/><stop offset="0.250" stop-color="#545454"/><stop offset="0.312" stop-color="#484848"/><stop offset="0.375" stop-color="#3b3b3b"/><stop offset="0.438" stop-color="#2f2f2f"/><stop offset="0.500" stop-color="#242424"/><stop offset="0.562" stop-color="#1b1b1b"/><stop offset="0.625" stop-color="#131313"/><stop offset="0.688" stop-color="#0d0d0d"/><stop offset="0.750" stop-color="#090909"/><stop offset="0.812" stop-color="#060606"/><stop offset="0.875" stop-color="#040404"/><stop offset="0.938" stop-color="#020202"/><stop offset="1.000" stop-color="#000"/></radialGradient><radialGradient id="gp47_2"><stop offset="0.000" stop-color="#5d5d5d"/><stop offset="0.062" stop-color="#5c5c5c"/><stop offset="0.125" stop-color="#575757"/><stop offset="0.188" stop-color="#505050"/><stop offset="0.250" stop-color="#474747"/><stop offset="0.312" stop-color="#3c3c3c"/><stop offset="0.375" stop-color="#323232"/><stop offset="0.438" stop-color="#282828"/><stop offset="0.500" stop-color="#1e1e1e"/><stop offset="0.562" stop-color="#171717"/><stop offset="0.625" stop-color="#101010"/><stop offset="0.688" stop-color="#0b0b0b"/><stop offset="0.750" stop-color="#070707"/><stop offset="0.812" stop-color="#050505"/><stop offset="0.875" stop-color="#030303"/><stop offset="0.938" stop-color="#020202"/><stop offset="1.000" stop-color="#000"/></radialGradient><radialGradient id="gp34_2"><stop offset="0.000" stop-color="#444444"/><stop offset="0.062" stop-color="#424242"/><stop offset="0.125" stop-color="#3f3f3f"/><stop offset="0.188" stop-color="#3a3a3a"/><stop offset="0.250" stop-color="#333333"/><stop offset="0.312" stop-color="#2c2c2c"/><stop offset="0.375" stop-color="#242424"/><stop offset="0.438" stop-color="#1d1d1d"/><stop offset="0.500" stop-color="#161616"/><stop offset="0.562" stop-color="#101010"/><stop offset="0.625" stop-color="#0c0c0c"/><stop offset="0.688" stop-color="#080808"/><stop offset="0.750" stop-color="#050505"/><stop offset="0.812" stop-color="#030303"/><stop offset="0.875" stop-color="#020202"/><stop offset="0.938" stop-color="#010101"/><stop offset="1.000" stop-color="#000"/></radialGradient><radialGradient id="gp68_2"><stop offset="0.000" stop-color="#878787"/><stop offset="0.062" stop-color="#858585"/><stop offset="0.125" stop-color="#7e7e7e"/><stop offset="0.188" stop-color="#737373"/><stop offset="0.250" stop-color="#666666"/><stop offset="0.312" stop-color="#575757"/><stop offset="0.375" stop-color="#484848"/><stop offset="0.438" stop-color="#393939"/><stop offset="0.500" stop-color="#2c2c2c"/><stop offset="0.562" stop-color="#212121"/><stop offset="0.625" stop-color="#171717"/><stop offset="0.688" stop-color="#101010"/><stop offset="0.750" stop-color="#0b0b0b"/><stop offset="0.812" stop-color="#070707"/><stop offset="0.875" stop-color="#040404"/><stop offset="0.938" stop-color="#030303"/><stop offset="1.000" stop-color="#000"/></radialGradient><radialGradient id="gp89_4"><stop offset="0.000" stop-color="#b1b1b1"/><stop offset="0.062" stop-color="#b1b1b1"/><stop offset="0.125" stop-color="#b1b1b1"/><stop offset="0.188" stop-color="#b0b0b0"/><stop offset="0.250" stop-color="#aeaeae"/><stop offset="0.312" stop-color="#a9a9a9"/><stop offset="0.375" stop-color="#a0a0a0"/><stop offset="0.438" stop-color="#939393"/><stop offset="0.500" stop-color="#818181"/><stop offset="0.562" stop-color="#6b6b6b"/><stop offset="0.625" stop-color="#525252"/><stop offset="0.688" stop-color="#393939"/><stop offset="0.750" stop-color="#242424"/><stop offset="0.812" stop-color="#131313"/><stop offset="0.875" stop-color="#090909"/><stop offset="0.938" stop-color="#040404"/><stop offset="1.000" stop-color="#000"/></radialGradient><radialGradient id="gp88_4"><stop offset="0.000" stop-color="#afafaf"/><stop offset="0.062" stop-color="#afafaf"/><stop offset="0.125" stop-color="#afafaf"/><stop offset="0.188" stop-color="#aeaeae"/><stop offset="0.250" stop-color="#acacac"/><stop offset="0.312" stop-color="#a7a7a7"/><stop offset="0.375" stop-color="#9e9e9e"/><stop offset="0.438" stop-color="#919191"/><stop offset="0.500" stop-color="#808080"/><stop offset="0.562" stop-color="#696969"/><stop offset="0.625" stop-color="#515151"/><stop offset="0.688" stop-color="#383838"/><stop offset="0.750" stop-color="#232323"/><stop offset="0.812" stop-color="#131313"/><stop offset="0.875" stop-color="#090909"/><stop offset="0.938" stop-color="#040404"/><stop offset="1.000" stop-color="#000"/></radialGradient><radialGradient id="gp78_2"><stop offset="0.000" stop-color="#9b9b9b"/><stop offset="0.062" stop-color="#989898"/><stop offset="0.125" stop-color="#919191"/><stop offset="0.188" stop-color="#848484"/><stop offset="0.250" stop-color="#757575"/><stop offset="0.312" stop-color="#646464"/><stop offset="0.375" stop-color="#525252"/><stop offset="0.438" stop-color="#424242"/><stop offset="0.500" stop-color="#323232"/><stop offset="0.562" stop-color="#252525"/><stop offset="0.625" stop-color="#1b1b1b"/><stop offset="0.688" stop-color="#121212"/><stop offset="0.750" stop-color="#0c0c0c"/><stop offset="0.812" stop-color="#080808"/><stop offset="0.875" stop-color="#050505"/><stop offset="0.938" stop-color="#030303"/><stop offset="1.000" stop-color="#000"/></radialGradient><radialGradient id="gp93_4"><stop offset="0.000" stop-color="#b9b9b9"/><stop offset="0.062" stop-color="#b9b9b9"/><stop offset="0.125" stop-color="#b9b9b9"/><stop offset="0.188" stop-color="#b8b8b8"/><stop offset="0.250" stop-color="#b5b5b5"/><stop offset="0.312" stop-color="#b0b0b0"/><stop offset="0.375" stop-color="#a7a7a7"/><stop offset="0.438" stop-color="#9a9a9a"/><stop offset="0.500" stop-color="#878787"/><stop offset="0.562" stop-color="#6f6f6f"/><stop offset="0.625" stop-color="#555555"/><stop offset="0.688" stop-color="#3c3c3c"/><stop offset="0.750" stop-color="#252525"/><stop offset="0.812" stop-color="#141414"/><stop offset="0.875" stop-color="#0a0a0a"/><stop offset="0.938" stop-color="#040404"/><stop offset="1.000" stop-color="#000"/></radialGradient><radialGradient id="gp20_2"><stop offset="0.000" stop-color="#282828"/><stop offset="0.062" stop-color="#272727"/><stop offset="0.125" stop-color="#252525"/><stop offset="0.188" stop-color="#222222"/><stop offset="0.250" stop-color="#1e1e1e"/><stop offset="0.312" stop-color="#1a1a1a"/><stop offset="0.375" stop-color="#151515"/><stop offset="0.438" stop-color="#111111"/><stop offset="0.500" stop-color="#0d0d0d"/><stop offset="0.562" stop-color="#0a0a0a"/><stop offset="0.625" stop-color="#070707"/><stop offset="0.688" stop-color="#050505"/><stop offset="0.750" stop-color="#030303"/><stop offset="0.812" stop-color="#020202"/><stop offset="0.875" stop-color="#010101"/><stop offset="0.938" stop-color="#010101"/><stop offset="1.000" stop-color="#000"/></radialGradient><radialGradient id="gp80_2"><stop offset="0.000" stop-color="#9f9f9f"/><stop offset="0.062" stop-color="#9c9c9c"/><stop offset="0.125" stop-color="#949494"/><stop offset="0.188" stop-color="#888888"/><stop offset="0.250" stop-color="#787878"/><stop offset="0.312" stop-color="#676767"/><stop offset="0.375" stop-color="#555555"/><stop offset="0.438" stop-color="#434343"/><stop offset="0.500" stop-color="#343434"/><stop offset="0.562" stop-color="#262626"/><stop offset="0.625" stop-color="#1b1b1b"/><stop offset="0.688" stop-color="#131313"/><stop offset="0.750" stop-color="#0d0d0d"/><stop offset="0.812" stop-color="#080808"/><stop offset="0.875" stop-color="#050505"/><stop offset="0.938" stop-color="#030303"/><stop offset="1.000" stop-color="#000"/></radialGradient><radialGradient id="gp76_2"><stop offset="0.000" stop-color="#979797"/><stop offset="0.062" stop-color="#959595"/><stop offset="0.125" stop-color="#8d8d8d"/><stop offset="0.188" stop-color="#818181"/><stop offset="0.250" stop-color="#727272"/><stop offset="0.312" stop-color="#616161"/><stop offset="0.375" stop-color="#505050"/><stop offset="0.438" stop-color="#404040"/><stop offset="0.500" stop-color="#313131"/><stop offset="0.562" stop-color="#242424"/><stop offset="0.625" stop-color="#1a1a1a"/><stop offset="0.688" stop-color="#121212"/><stop offset="0.750" stop-color="#0c0c0c"/><stop offset="0.812" stop-color="#080808"/><stop offset="0.875" stop-color="#050505"/><stop offset="0.938" stop-color="#030303"/><stop offset="1.000" stop-color="#000"/></radialGradient><radialGradient id="gp45_2"><stop offset="0.000" stop-color="#5a5a5a"/><stop offset="0.062" stop-color="#585858"/><stop offset="0.125" stop-color="#535353"/><stop offset="0.188" stop-color="#4c4c4c"/><stop offset="0.250" stop-color="#444444"/><stop offset="0.312" stop-color="#3a3a3a"/><stop offset="0.375" stop-color="#303030"/><stop offset="0.438" stop-color="#262626"/><stop offset="0.500" stop-color="#1d1d1d"/><stop offset="0.562" stop-color="#161616"/><stop offset="0.625" stop-color="#0f0f0f"/><stop offset="0.688" stop-color="#0b0b0b"/><stop offset="0.750" stop-color="#070707"/><stop offset="0.812" stop-color="#050505"/><stop offset="0.875" stop-color="#030303"/><stop offset="0.938" stop-color="#020202"/><stop offset="1.000" stop-color="#000"/></radialGradient><radialGradient id="gp0_2"><stop offset="0.000" stop-color="#000000"/><stop offset="0.062" stop-color="#000000"/><stop offset="0.125" stop-color="#000000"/><stop offset="0.188" stop-color="#000000"/><stop offset="0.250" stop-color="#000000"/><stop offset="0.312" stop-color="#000000"/><stop offset="0.375" stop-color="#000000"/><stop offset="0.438" stop-color="#000000"/><stop offset="0.500" stop-color="#000000"/><stop offset="0.562" stop-color="#000000"/><stop offset="0.625" stop-color="#000000"/><stop offset="0.688" stop-color="#000000"/><stop offset="0.750" stop-color="#000000"/><stop offset="0.812" stop-color="#000000"/><stop offset="0.875" stop-color="#000000"/><stop offset="0.938" stop-color="#000000"/><stop offset="1.000" stop-color="#000"/></radialGradient></defs>
</svg></body></html>
